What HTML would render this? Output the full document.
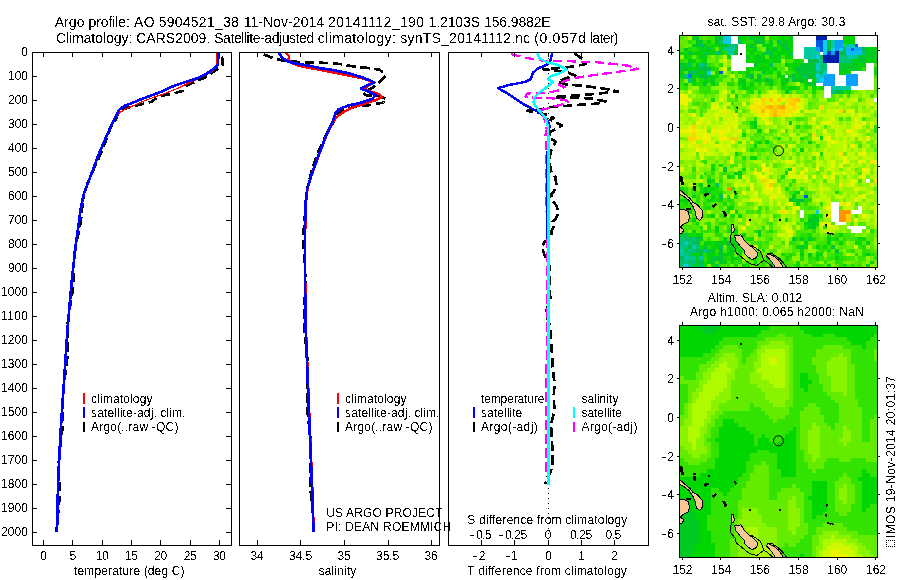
<!DOCTYPE html>
<html><head><meta charset="utf-8"><title>Argo profile</title>
<style>html,body{margin:0;padding:0;background:#fff}svg{display:block}text{font-family:"Liberation Sans", sans-serif;fill:#000;filter:url(#thr)}</style></head><body>
<svg width="900" height="580" viewBox="0 0 900 580">
<rect width="900" height="580" fill="#fff"/>
<defs><filter id="thr" x="-2%" y="-30%" width="104%" height="160%" color-interpolation-filters="sRGB"><feComponentTransfer><feFuncA type="discrete" tableValues="0 1"/></feComponentTransfer></filter></defs>
<text x="54.7" y="27" font-size="14" textLength="29.8" lengthAdjust="spacing">Argo</text>
<text x="88.5" y="27" font-size="14" textLength="41.4" lengthAdjust="spacing">profile:</text>
<text x="133.9" y="27" font-size="14" textLength="20.8" lengthAdjust="spacing">AO</text>
<text x="158.7" y="27" font-size="14" textLength="80" lengthAdjust="spacing">5904521_38</text>
<text x="243.7" y="27" font-size="14" textLength="80.4" lengthAdjust="spacing">11-Nov-2014</text>
<text x="328.1" y="27" font-size="14" textLength="96" lengthAdjust="spacing">20141112_190</text>
<text x="428.5" y="27" font-size="14" textLength="51.5" lengthAdjust="spacing">1.2103S</text>
<text x="484.0" y="27" font-size="14" textLength="66.7" lengthAdjust="spacing">156.9882E</text>
<text x="55.9" y="43" font-size="14" textLength="76.3" lengthAdjust="spacing">Climatology:</text>
<text x="136.2" y="43" font-size="14" textLength="74" lengthAdjust="spacing">CARS2009.</text>
<text x="214.2" y="43" font-size="14" textLength="100" lengthAdjust="spacing">Satellite-adjusted</text>
<text x="317.8" y="43" font-size="14" textLength="78" lengthAdjust="spacing">climatology:</text>
<text x="400.3" y="43" font-size="14" textLength="130" lengthAdjust="spacing">synTS_20141112.nc</text>
<text x="534.2" y="43" font-size="14" textLength="51.5" lengthAdjust="spacing">(0.057d</text>
<text x="589.9" y="43" font-size="14" textLength="28.6" lengthAdjust="spacing">later)</text>
<g shape-rendering="crispEdges">
<path fill="#80f100" d="M680.0 36.0H680.3V39.9H680.0zM687.8 86.0H691.9V90.2H687.8zM865.8 89.9H870.0V94.1H865.8zM834.8 97.7H839.0V101.8H834.8zM869.7 105.4H873.8V109.6H869.7zM815.5 148.0H819.6V152.1H815.5zM680.0 182.8H684.2V187.0H680.0zM730.3 182.8H734.5V187.0H730.3zM761.3 206.0H765.5V210.2H761.3z"/>
<path fill="#4ce700" d="M680.0 36.0H684.2V39.9H680.0zM776.8 66.7H780.9V70.9H776.8zM734.2 74.4H738.4V78.6H734.2zM707.1 82.2H711.3V86.3H707.1zM776.8 82.2H780.9V86.3H776.8zM823.2 124.7H827.4V128.9H823.2zM792.3 140.2H796.4V144.4H792.3zM695.5 190.5H699.7V194.7H695.5zM772.9 229.2H777.1V233.4H772.9zM772.9 248.6H777.1V252.8H772.9zM858.0 260.2H862.2V264.4H858.0z"/>
<path fill="#6cee00" d="M683.9 36.0H688.1V39.9H683.9zM865.8 124.7H870.0V128.9H865.8zM811.6 178.9H815.8V183.1H811.6zM811.6 190.5H815.8V194.7H811.6zM807.7 202.1H811.9V206.3H807.7zM796.1 209.9H800.3V214.1H796.1z"/>
<path fill="#9ff700" d="M687.8 36.0H691.9V39.9H687.8zM807.7 93.8H811.9V98.0H807.7zM683.9 117.0H688.1V121.2H683.9zM711.0 120.9H715.2V125.0H711.0zM765.2 124.7H769.3V128.9H765.2zM680.0 128.6H680.3V132.8H680.0zM776.8 148.0H780.9V152.1H776.8zM803.9 148.0H808.0V152.1H803.9zM811.6 148.0H815.8V152.1H811.6zM827.1 148.0H831.3V152.1H827.1zM873.5 163.4H877.3V167.6H873.5zM734.2 186.7H738.4V190.8H734.2zM823.2 217.6H827.4V221.8H823.2zM869.7 221.5H873.8V225.7H869.7z"/>
<path fill="#00d112" d="M691.6 36.0H695.8V39.9H691.6zM680.0 51.2H684.2V55.4H680.0zM683.9 62.8H688.1V67.0H683.9z"/>
<path fill="#00c339" d="M695.5 36.0H699.7V39.9H695.5zM831.0 244.7H835.1V248.9H831.0zM730.3 256.3H734.5V260.5H730.3z"/>
<path fill="#43e500" d="M699.4 36.0H703.5V39.9H699.4zM807.7 132.5H811.9V136.7H807.7zM753.6 148.0H757.7V152.1H753.6zM796.1 229.2H800.3V233.4H796.1zM726.5 237.0H730.6V241.1H726.5z"/>
<path fill="#53e800" d="M703.2 36.0H707.4V39.9H703.2zM850.3 89.9H854.5V94.1H850.3zM831.0 97.7H835.1V101.8H831.0zM761.3 140.2H765.5V144.4H761.3zM815.5 206.0H819.6V210.2H815.5zM831.0 221.5H835.1V225.7H831.0zM854.2 260.2H858.3V264.4H854.2z"/>
<path fill="#3be300" d="M707.1 36.0H711.3V39.9H707.1zM683.9 59.0H688.1V63.1H683.9zM788.4 89.9H792.6V94.1H788.4zM803.9 124.7H808.0V128.9H803.9zM769.0 128.6H773.2V132.8H769.0zM703.2 198.3H707.4V202.4H703.2zM691.6 221.5H695.8V225.7H691.6zM846.4 233.1H850.6V237.3H846.4zM831.0 252.4H835.1V256.6H831.0z"/>
<path fill="#37e300" d="M711.0 36.0H715.2V39.9H711.0zM695.5 206.0H699.7V210.2H695.5zM745.8 209.9H750.0V214.1H745.8zM734.2 225.4H738.4V229.5H734.2zM784.5 264.1H788.7V267.3H784.5z"/>
<path fill="#00c434" d="M714.9 36.0H719.0V39.9H714.9zM714.9 39.6H719.0V43.8H714.9zM703.2 70.6H707.4V74.7H703.2z"/>
<path fill="#00c13c" d="M718.7 36.0H722.9V39.9H718.7z"/>
<path fill="#08cce0" d="M722.6 36.0H726.8V39.9H722.6zM726.5 36.0H730.6V39.9H726.5zM722.6 39.6H726.8V43.8H722.6zM726.5 39.6H730.6V43.8H726.5zM815.5 209.9H819.6V214.1H815.5zM683.9 264.1H688.1V267.3H683.9z"/>
<path fill="#00cd1d" d="M738.1 36.0H742.2V39.9H738.1zM788.4 36.0H792.6V39.9H788.4zM726.5 43.5H730.6V47.6H726.5zM691.6 51.2H695.8V55.4H691.6zM757.4 55.1H761.6V59.2H757.4zM703.2 186.7H707.4V190.8H703.2z"/>
<path fill="#02d700" d="M741.9 36.0H746.1V39.9H741.9zM745.8 59.0H750.0V63.1H745.8zM858.0 62.8H862.2V67.0H858.0zM776.8 70.6H780.9V74.7H776.8zM695.5 74.4H699.7V78.6H695.5zM780.6 74.4H784.8V78.6H780.6zM788.4 74.4H792.6V78.6H788.4zM803.9 78.3H808.0V82.5H803.9zM753.6 144.1H757.7V148.3H753.6zM741.9 240.8H746.1V245.0H741.9z"/>
<path fill="#17dc00" d="M745.8 36.0H750.0V39.9H745.8zM769.0 36.0H773.2V39.9H769.0zM726.5 66.7H730.6V70.9H726.5zM711.0 97.7H715.2V101.8H711.0zM718.7 163.4H722.9V167.6H718.7zM699.4 186.7H703.5V190.8H699.4zM807.7 233.1H811.9V237.3H807.7zM834.8 252.4H839.0V256.6H834.8z"/>
<path fill="#00c82a" d="M749.7 36.0H753.9V39.9H749.7zM784.5 43.5H788.7V47.6H784.5zM683.9 47.3H688.1V51.5H683.9zM757.4 229.2H761.6V233.4H757.4z"/>
<path fill="#00cd1b" d="M753.6 36.0H757.7V39.9H753.6zM687.8 59.0H691.9V63.1H687.8zM707.1 74.4H711.3V78.6H707.1z"/>
<path fill="#00cc1e" d="M757.4 36.0H761.6V39.9H757.4zM815.5 217.6H819.6V221.8H815.5z"/>
<path fill="#00ce18" d="M761.3 36.0H765.5V39.9H761.3zM691.6 43.5H695.8V47.6H691.6zM745.8 55.1H750.0V59.2H745.8zM749.7 248.6H753.9V252.8H749.7z"/>
<path fill="#87f200" d="M765.2 36.0H769.3V39.9H765.2zM711.0 55.1H715.2V59.2H711.0zM819.3 117.0H823.5V121.2H819.3zM831.0 128.6H835.1V132.8H831.0zM873.5 136.4H877.3V140.5H873.5zM854.2 151.8H858.3V156.0H854.2zM683.9 163.4H688.1V167.6H683.9zM815.5 182.8H819.6V187.0H815.5zM869.7 225.4H873.8V229.5H869.7zM865.8 260.2H870.0V264.4H865.8z"/>
<path fill="#27df00" d="M772.9 36.0H777.1V39.9H772.9zM707.1 62.8H711.3V67.0H707.1zM718.7 62.8H722.9V67.0H718.7zM792.3 70.6H796.4V74.7H792.3zM753.6 86.0H757.7V90.2H753.6zM730.3 101.5H734.5V105.7H730.3zM687.8 206.0H691.9V210.2H687.8zM869.7 229.2H873.8V233.4H869.7zM780.6 260.2H784.8V264.4H780.6zM726.5 264.1H730.6V267.3H726.5z"/>
<path fill="#14db00" d="M776.8 36.0H780.9V39.9H776.8zM699.4 190.5H703.5V194.7H699.4zM722.6 202.1H726.8V206.3H722.6zM745.8 237.0H750.0V241.1H745.8zM749.7 237.0H753.9V241.1H749.7zM811.6 237.0H815.8V241.1H811.6zM738.1 260.2H742.2V264.4H738.1z"/>
<path fill="#00d603" d="M780.6 36.0H784.8V39.9H780.6zM726.5 55.1H730.6V59.2H726.5zM734.2 93.8H738.4V98.0H734.2zM734.2 209.9H738.4V214.1H734.2zM738.1 248.6H742.2V252.8H738.1zM734.2 256.3H738.4V260.5H734.2z"/>
<path fill="#13db00" d="M784.5 36.0H788.7V39.9H784.5zM711.0 47.3H715.2V51.5H711.0zM714.9 252.4H719.0V256.6H714.9z"/>
<path fill="#0024b0" d="M815.5 36.0H819.6V39.9H815.5zM819.3 36.0H823.5V39.9H819.3zM823.2 36.0H827.4V39.9H823.2z"/>
<path fill="#00d700" d="M842.6 36.0H846.7V39.9H842.6zM846.4 36.0H850.6V39.9H846.4zM850.3 36.0H854.5V39.9H850.3zM842.6 39.6H846.7V43.8H842.6zM846.4 39.6H850.6V43.8H846.4zM850.3 39.6H854.5V43.8H850.3zM699.4 51.2H703.5V55.4H699.4zM683.9 55.1H688.1V59.2H683.9zM838.7 70.6H842.9V74.7H838.7zM842.6 70.6H846.7V74.7H842.6zM846.4 70.6H850.6V74.7H846.4z"/>
<path fill="#b0fa00" d="M680.0 39.6H680.3V43.8H680.0zM753.6 93.8H757.7V98.0H753.6zM803.9 97.7H808.0V101.8H803.9zM842.6 120.9H846.7V125.0H842.6zM850.3 120.9H854.5V125.0H850.3zM683.9 140.2H688.1V144.4H683.9zM683.9 144.1H688.1V148.3H683.9zM834.8 144.1H839.0V148.3H834.8zM784.5 148.0H788.7V152.1H784.5zM823.2 155.7H827.4V159.9H823.2zM819.3 198.3H823.5V202.4H819.3zM707.1 209.9H711.3V214.1H707.1zM753.6 237.0H757.7V241.1H753.6z"/>
<path fill="#68ed00" d="M680.0 39.6H684.2V43.8H680.0zM707.1 101.5H711.3V105.7H707.1zM738.1 101.5H742.2V105.7H738.1zM811.6 101.5H815.8V105.7H811.6zM792.3 117.0H796.4V121.2H792.3zM780.6 140.2H784.8V144.4H780.6zM726.5 202.1H730.6V206.3H726.5zM714.9 209.9H719.0V214.1H714.9zM718.7 209.9H722.9V214.1H718.7zM757.4 213.8H761.6V217.9H757.4zM819.3 217.6H823.5V221.8H819.3zM834.8 244.7H839.0V248.9H834.8z"/>
<path fill="#60eb00" d="M683.9 39.6H688.1V43.8H683.9zM772.9 74.4H777.1V78.6H772.9zM842.6 109.3H846.7V113.4H842.6zM854.2 109.3H858.3V113.4H854.2zM873.5 113.1H877.3V117.3H873.5zM753.6 136.4H757.7V140.5H753.6zM858.0 140.2H862.2V144.4H858.0zM869.7 144.1H873.8V148.3H869.7zM699.4 159.6H703.5V163.7H699.4zM699.4 194.4H703.5V198.6H699.4zM784.5 206.0H788.7V210.2H784.5zM722.6 244.7H726.8V248.9H722.6z"/>
<path fill="#28df00" d="M687.8 39.6H691.9V43.8H687.8zM680.0 59.0H684.2V63.1H680.0zM861.9 66.7H866.1V70.9H861.9zM757.4 82.2H761.6V86.3H757.4zM873.5 128.6H877.3V132.8H873.5zM703.2 171.2H707.4V175.4H703.2zM788.4 182.8H792.6V187.0H788.4zM683.9 186.7H688.1V190.8H683.9zM734.2 190.5H738.4V194.7H734.2zM792.3 190.5H796.4V194.7H792.3zM714.9 233.1H719.0V237.3H714.9zM861.9 248.6H866.1V252.8H861.9z"/>
<path fill="#44e500" d="M691.6 39.6H695.8V43.8H691.6zM680.0 47.3H684.2V51.5H680.0zM873.5 62.8H877.3V67.0H873.5zM772.9 70.6H777.1V74.7H772.9zM695.5 78.3H699.7V82.5H695.5zM796.1 89.9H800.3V94.1H796.1zM703.2 105.4H707.4V109.6H703.2zM699.4 109.3H703.5V113.4H699.4zM769.0 144.1H773.2V148.3H769.0zM683.9 229.2H688.1V233.4H683.9zM796.1 233.1H800.3V237.3H796.1zM753.6 240.8H757.7V245.0H753.6zM834.8 240.8H839.0V245.0H834.8zM823.2 248.6H827.4V252.8H823.2zM722.6 264.1H726.8V267.3H722.6z"/>
<path fill="#00c62e" d="M695.5 39.6H699.7V43.8H695.5z"/>
<path fill="#00cb22" d="M699.4 39.6H703.5V43.8H699.4zM680.0 209.9H684.2V214.1H680.0zM811.6 217.6H815.8V221.8H811.6z"/>
<path fill="#2ae000" d="M703.2 39.6H707.4V43.8H703.2zM707.1 175.1H711.3V179.2H707.1zM803.9 202.1H808.0V206.3H803.9zM726.5 209.9H730.6V214.1H726.5zM703.2 229.2H707.4V233.4H703.2zM707.1 237.0H711.3V241.1H707.1zM776.8 256.3H780.9V260.5H776.8z"/>
<path fill="#00d701" d="M707.1 39.6H711.3V43.8H707.1zM765.2 59.0H769.3V63.1H765.2zM765.2 66.7H769.3V70.9H765.2zM769.0 70.6H773.2V74.7H769.0zM788.4 86.0H792.6V90.2H788.4zM819.3 86.0H823.5V90.2H819.3zM738.1 175.1H742.2V179.2H738.1zM687.8 198.3H691.9V202.4H687.8zM796.1 202.1H800.3V206.3H796.1zM726.5 206.0H730.6V210.2H726.5zM711.0 252.4H715.2V256.6H711.0zM703.2 264.1H707.4V267.3H703.2zM796.1 264.1H800.3V267.3H796.1z"/>
<path fill="#35e200" d="M711.0 39.6H715.2V43.8H711.0zM819.3 244.7H823.5V248.9H819.3zM788.4 256.3H792.6V260.5H788.4z"/>
<path fill="#00c267" d="M718.7 39.6H722.9V43.8H718.7zM788.4 51.2H792.6V55.4H788.4z"/>
<path fill="#00c161" d="M738.1 39.6H742.2V43.8H738.1z"/>
<path fill="#0bd900" d="M741.9 39.6H746.1V43.8H741.9zM711.0 43.5H715.2V47.6H711.0zM749.7 47.3H753.9V51.5H749.7zM772.9 51.2H777.1V55.4H772.9zM741.9 167.3H746.1V171.5H741.9zM707.1 186.7H711.3V190.8H707.1zM734.2 237.0H738.4V241.1H734.2z"/>
<path fill="#23de00" d="M745.8 39.6H750.0V43.8H745.8zM842.6 43.5H846.7V47.6H842.6zM753.6 51.2H757.7V55.4H753.6zM695.5 55.1H699.7V59.2H695.5zM714.9 66.7H719.0V70.9H714.9zM730.3 70.6H734.5V74.7H730.3zM873.5 124.7H877.3V128.9H873.5zM699.4 175.1H703.5V179.2H699.4zM683.9 194.4H688.1V198.6H683.9zM722.6 221.5H726.8V225.7H722.6zM707.1 244.7H711.3V248.9H707.1zM734.2 248.6H738.4V252.8H734.2zM807.7 256.3H811.9V260.5H807.7zM811.6 256.3H815.8V260.5H811.6z"/>
<path fill="#21de00" d="M749.7 39.6H753.9V43.8H749.7zM784.5 82.2H788.7V86.3H784.5zM726.5 194.4H730.6V198.6H726.5zM707.1 213.8H711.3V217.9H707.1zM796.1 237.0H800.3V241.1H796.1zM788.4 240.8H792.6V245.0H788.4z"/>
<path fill="#00c928" d="M753.6 39.6H757.7V43.8H753.6zM784.5 39.6H788.7V43.8H784.5zM680.0 198.3H680.3V202.4H680.0z"/>
<path fill="#00c435" d="M757.4 39.6H761.6V43.8H757.4zM769.0 51.2H773.2V55.4H769.0zM811.6 74.4H815.8V78.6H811.6zM699.4 252.4H703.5V256.6H699.4z"/>
<path fill="#00ca25" d="M761.3 39.6H765.5V43.8H761.3zM734.2 47.3H738.4V51.5H734.2zM769.0 55.1H773.2V59.2H769.0zM691.6 194.4H695.8V198.6H691.6zM807.7 237.0H811.9V241.1H807.7zM718.7 260.2H722.9V264.4H718.7z"/>
<path fill="#3ae300" d="M765.2 39.6H769.3V43.8H765.2zM780.6 55.1H784.8V59.2H780.6zM788.4 78.3H792.6V82.5H788.4zM734.2 97.7H738.4V101.8H734.2zM718.7 206.0H722.9V210.2H718.7z"/>
<path fill="#00d20f" d="M769.0 39.6H773.2V43.8H769.0zM691.6 66.7H695.8V70.9H691.6zM796.1 74.4H800.3V78.6H796.1zM745.8 252.4H750.0V256.6H745.8z"/>
<path fill="#45e500" d="M772.9 39.6H777.1V43.8H772.9zM873.5 74.4H877.3V78.6H873.5zM757.4 86.0H761.6V90.2H757.4zM869.7 93.8H873.8V98.0H869.7zM800.0 117.0H804.2V121.2H800.0zM757.4 148.0H761.6V152.1H757.4zM780.6 240.8H784.8V245.0H780.6z"/>
<path fill="#00bf4e" d="M776.8 39.6H780.9V43.8H776.8zM703.2 51.2H707.4V55.4H703.2z"/>
<path fill="#00d409" d="M780.6 39.6H784.8V43.8H780.6zM761.3 55.1H765.5V59.2H761.3zM792.3 62.8H796.4V67.0H792.3zM769.0 82.2H773.2V86.3H769.0zM753.6 124.7H757.7V128.9H753.6zM827.1 237.0H831.3V241.1H827.1zM753.6 252.4H757.7V256.6H753.6zM834.8 256.3H839.0V260.5H834.8z"/>
<path fill="#00d30b" d="M788.4 39.6H792.6V43.8H788.4zM695.5 51.2H699.7V55.4H695.5zM749.7 51.2H753.9V55.4H749.7zM858.0 66.7H862.2V70.9H858.0zM807.7 225.4H811.9V229.5H807.7zM691.6 229.2H695.8V233.4H691.6zM703.2 240.8H707.4V245.0H703.2zM838.7 240.8H842.9V245.0H838.7zM707.1 260.2H711.3V264.4H707.1z"/>
<path fill="#005ae1" d="M815.5 39.6H819.6V43.8H815.5zM819.3 39.6H823.5V43.8H819.3zM815.5 43.5H819.6V47.6H815.5zM819.3 43.5H823.5V47.6H819.3zM854.2 43.5H858.3V47.6H854.2zM819.3 47.3H823.5V51.5H819.3zM850.3 47.3H854.5V51.5H850.3zM718.7 70.6H722.9V74.7H718.7zM803.9 194.4H808.0V198.6H803.9z"/>
<path fill="#0acdf0" d="M823.2 39.6H827.4V43.8H823.2zM823.2 43.5H827.4V47.6H823.2zM823.2 47.3H827.4V51.5H823.2zM831.0 47.3H835.1V51.5H831.0zM838.7 47.3H842.9V51.5H838.7zM823.2 51.2H827.4V55.4H823.2zM707.1 70.6H711.3V74.7H707.1z"/>
<path fill="#00be46" d="M827.1 39.6H831.3V43.8H827.1zM734.2 43.5H738.4V47.6H734.2zM827.1 43.5H831.3V47.6H827.1zM827.1 47.3H831.3V51.5H827.1zM842.6 47.3H846.7V51.5H842.6zM861.9 47.3H866.1V51.5H861.9zM838.7 51.2H842.9V55.4H838.7zM842.6 51.2H846.7V55.4H842.6zM819.3 55.1H823.5V59.2H819.3zM807.7 59.0H811.9V63.1H807.7zM811.6 59.0H815.8V63.1H811.6zM815.5 59.0H819.6V63.1H815.5zM792.3 78.3H796.4V82.5H792.3zM687.8 244.7H691.9V248.9H687.8z"/>
<path fill="#02c9b0" d="M831.0 39.6H835.1V43.8H831.0zM831.0 43.5H835.1V47.6H831.0z"/>
<path fill="#0aa0ff" d="M834.8 39.6H839.0V43.8H834.8zM838.7 39.6H842.9V43.8H838.7zM834.8 43.5H839.0V47.6H834.8zM838.7 43.5H842.9V47.6H838.7zM815.5 47.3H819.6V51.5H815.5zM834.8 47.3H839.0V51.5H834.8zM831.0 51.2H835.1V55.4H831.0zM823.2 74.4H827.4V78.6H823.2zM827.1 74.4H831.3V78.6H827.1zM831.0 74.4H835.1V78.6H831.0zM846.4 74.4H850.6V78.6H846.4zM850.3 74.4H854.5V78.6H850.3zM854.2 74.4H858.3V78.6H854.2zM823.2 78.3H827.4V82.5H823.2zM827.1 78.3H831.3V82.5H827.1zM831.0 78.3H835.1V82.5H831.0zM846.4 78.3H850.6V82.5H846.4zM850.3 78.3H854.5V82.5H850.3zM854.2 78.3H858.3V82.5H854.2zM823.2 82.2H827.4V86.3H823.2zM827.1 82.2H831.3V86.3H827.1zM831.0 82.2H835.1V86.3H831.0zM846.4 82.2H850.6V86.3H846.4zM850.3 82.2H854.5V86.3H850.3zM854.2 82.2H858.3V86.3H854.2z"/>
<path fill="#59ea00" d="M680.0 43.5H680.3V47.6H680.0zM680.0 43.5H684.2V47.6H680.0zM772.9 128.6H777.1V132.8H772.9zM749.7 144.1H753.9V148.3H749.7zM741.9 171.2H746.1V175.4H741.9zM726.5 182.8H730.6V187.0H726.5zM800.0 206.0H804.2V210.2H800.0zM831.0 248.6H835.1V252.8H831.0z"/>
<path fill="#6eee00" d="M683.9 43.5H688.1V47.6H683.9zM687.8 82.2H691.9V86.3H687.8zM738.1 89.9H742.2V94.1H738.1zM838.7 101.5H842.9V105.7H838.7zM811.6 105.4H815.8V109.6H811.6zM861.9 105.4H866.1V109.6H861.9zM707.1 128.6H711.3V132.8H707.1zM780.6 132.5H784.8V136.7H780.6zM745.8 140.2H750.0V144.4H745.8zM800.0 144.1H804.2V148.3H800.0zM807.7 148.0H811.9V152.1H807.7zM838.7 167.3H842.9V171.5H838.7zM687.8 194.4H691.9V198.6H687.8zM741.9 194.4H746.1V198.6H741.9zM831.0 198.3H835.1V202.4H831.0zM734.2 202.1H738.4V206.3H734.2zM800.0 221.5H804.2V225.7H800.0zM730.3 264.1H734.5V267.3H730.3z"/>
<path fill="#67ed00" d="M687.8 43.5H691.9V47.6H687.8zM714.9 62.8H719.0V67.0H714.9zM780.6 62.8H784.8V67.0H780.6zM784.5 117.0H788.7V121.2H784.5zM788.4 140.2H792.6V144.4H788.4zM714.9 159.6H719.0V163.7H714.9zM861.9 229.2H866.1V233.4H861.9zM838.7 248.6H842.9V252.8H838.7zM815.5 260.2H819.6V264.4H815.5zM765.2 264.1H769.3V267.3H765.2z"/>
<path fill="#00c829" d="M695.5 43.5H699.7V47.6H695.5zM765.2 47.3H769.3V51.5H765.2zM695.5 62.8H699.7V67.0H695.5zM761.3 70.6H765.5V74.7H761.3zM680.0 202.1H680.3V206.3H680.0z"/>
<path fill="#00c165" d="M699.4 43.5H703.5V47.6H699.4z"/>
<path fill="#00ce1a" d="M703.2 43.5H707.4V47.6H703.2zM850.3 59.0H854.5V63.1H850.3zM869.7 59.0H873.8V63.1H869.7zM714.9 225.4H719.0V229.5H714.9zM707.1 252.4H711.3V256.6H707.1z"/>
<path fill="#1cdd00" d="M707.1 43.5H711.3V47.6H707.1zM745.8 51.2H750.0V55.4H745.8zM792.3 59.0H796.4V63.1H792.3zM699.4 82.2H703.5V86.3H699.4zM730.3 82.2H734.5V86.3H730.3zM749.7 124.7H753.9V128.9H749.7zM714.9 186.7H719.0V190.8H714.9zM854.2 252.4H858.3V256.6H854.2z"/>
<path fill="#00d506" d="M714.9 43.5H719.0V47.6H714.9zM761.3 51.2H765.5V55.4H761.3zM776.8 59.0H780.9V63.1H776.8zM683.9 82.2H688.1V86.3H683.9zM796.1 190.5H800.3V194.7H796.1zM683.9 198.3H688.1V202.4H683.9zM683.9 213.8H688.1V217.9H683.9zM722.6 240.8H726.8V245.0H722.6zM738.1 240.8H742.2V245.0H738.1zM796.1 244.7H800.3V248.9H796.1zM722.6 252.4H726.8V256.6H722.6z"/>
<path fill="#00cf17" d="M718.7 43.5H722.9V47.6H718.7zM757.4 78.3H761.6V82.5H757.4zM796.1 78.3H800.3V82.5H796.1zM711.0 82.2H715.2V86.3H711.0zM734.2 244.7H738.4V248.9H734.2z"/>
<path fill="#00c041" d="M722.6 43.5H726.8V47.6H722.6z"/>
<path fill="#00c587" d="M730.3 43.5H734.5V47.6H730.3z"/>
<path fill="#03d800" d="M745.8 43.5H750.0V47.6H745.8zM761.3 43.5H765.5V47.6H761.3zM788.4 47.3H792.6V51.5H788.4zM691.6 74.4H695.8V78.6H691.6zM846.4 89.9H850.6V94.1H846.4zM711.0 167.3H715.2V171.5H711.0zM753.6 260.2H757.7V264.4H753.6zM769.0 260.2H773.2V264.4H769.0z"/>
<path fill="#00c23c" d="M749.7 43.5H753.9V47.6H749.7zM695.5 260.2H699.7V264.4H695.5z"/>
<path fill="#18dc00" d="M753.6 43.5H757.7V47.6H753.6zM796.1 86.0H800.3V90.2H796.1zM749.7 89.9H753.9V94.1H749.7zM776.8 136.4H780.9V140.5H776.8zM834.8 190.5H839.0V194.7H834.8zM827.1 233.1H831.3V237.3H827.1zM831.0 237.0H835.1V241.1H831.0zM788.4 252.4H792.6V256.6H788.4zM753.6 256.3H757.7V260.5H753.6zM873.5 256.3H877.3V260.5H873.5zM745.8 264.1H750.0V267.3H745.8z"/>
<path fill="#85f200" d="M757.4 43.5H761.6V47.6H757.4zM823.2 101.5H827.4V105.7H823.2zM873.5 109.3H877.3V113.4H873.5zM803.9 113.1H808.0V117.3H803.9zM819.3 132.5H823.5V136.7H819.3zM761.3 159.6H765.5V163.7H761.3zM683.9 167.3H688.1V171.5H683.9zM761.3 171.2H765.5V175.4H761.3zM834.8 182.8H839.0V187.0H834.8zM741.9 209.9H746.1V214.1H741.9zM838.7 229.2H842.9V233.4H838.7zM772.9 240.8H777.1V245.0H772.9z"/>
<path fill="#00d110" d="M765.2 43.5H769.3V47.6H765.2zM703.2 55.1H707.4V59.2H703.2zM776.8 74.4H780.9V78.6H776.8zM819.3 136.4H823.5V140.5H819.3zM711.0 194.4H715.2V198.6H711.0zM784.5 217.6H788.7V221.8H784.5zM718.7 240.8H722.9V245.0H718.7zM734.2 240.8H738.4V245.0H734.2zM800.0 252.4H804.2V256.6H800.0z"/>
<path fill="#00d30a" d="M769.0 43.5H773.2V47.6H769.0zM772.9 55.1H777.1V59.2H772.9zM784.5 55.1H788.7V59.2H784.5zM792.3 86.0H796.4V90.2H792.3zM707.1 240.8H711.3V245.0H707.1zM827.1 240.8H831.3V245.0H827.1zM714.9 244.7H719.0V248.9H714.9zM819.3 252.4H823.5V256.6H819.3z"/>
<path fill="#55e900" d="M772.9 43.5H777.1V47.6H772.9zM757.4 70.6H761.6V74.7H757.4zM703.2 93.8H707.4V98.0H703.2zM718.7 182.8H722.9V187.0H718.7zM807.7 190.5H811.9V194.7H807.7zM803.9 217.6H808.0V221.8H803.9zM730.3 233.1H734.5V237.3H730.3zM869.7 233.1H873.8V237.3H869.7zM796.1 248.6H800.3V252.8H796.1zM741.9 260.2H746.1V264.4H741.9z"/>
<path fill="#07d800" d="M776.8 43.5H780.9V47.6H776.8zM745.8 47.3H750.0V51.5H745.8zM738.1 82.2H742.2V86.3H738.1zM680.0 186.7H680.3V190.8H680.0zM823.2 244.7H827.4V248.9H823.2zM815.5 256.3H819.6V260.5H815.5zM711.0 264.1H715.2V267.3H711.0z"/>
<path fill="#00bf4f" d="M780.6 43.5H784.8V47.6H780.6z"/>
<path fill="#00d601" d="M788.4 43.5H792.6V47.6H788.4z"/>
<path fill="#00c8a0" d="M846.4 43.5H850.6V47.6H846.4zM850.3 43.5H854.5V47.6H850.3zM726.5 47.3H730.6V51.5H726.5zM730.3 47.3H734.5V51.5H730.3zM803.9 47.3H808.0V51.5H803.9zM807.7 47.3H811.9V51.5H807.7zM811.6 47.3H815.8V51.5H811.6zM726.5 51.2H730.6V55.4H726.5zM730.3 51.2H734.5V55.4H730.3zM803.9 51.2H808.0V55.4H803.9zM807.7 51.2H811.9V55.4H807.7zM811.6 51.2H815.8V55.4H811.6zM803.9 55.1H808.0V59.2H803.9zM807.7 55.1H811.9V59.2H807.7zM811.6 55.1H815.8V59.2H811.6zM846.4 55.1H850.6V59.2H846.4zM850.3 55.1H854.5V59.2H850.3zM854.2 55.1H858.3V59.2H854.2zM819.3 59.0H823.5V63.1H819.3zM831.0 86.0H835.1V90.2H831.0zM834.8 86.0H839.0V90.2H834.8zM838.7 86.0H842.9V90.2H838.7zM842.6 86.0H846.7V90.2H842.6zM846.4 86.0H850.6V90.2H846.4z"/>
<path fill="#86f200" d="M680.0 47.3H680.3V51.5H680.0zM683.9 78.3H688.1V82.5H683.9zM687.8 93.8H691.9V98.0H687.8zM834.8 93.8H839.0V98.0H834.8zM741.9 105.4H746.1V109.6H741.9zM772.9 120.9H777.1V125.0H772.9zM761.3 128.6H765.5V132.8H761.3zM861.9 128.6H866.1V132.8H861.9zM741.9 136.4H746.1V140.5H741.9zM803.9 151.8H808.0V156.0H803.9zM730.3 167.3H734.5V171.5H730.3zM819.3 175.1H823.5V179.2H819.3zM831.0 186.7H835.1V190.8H831.0zM834.8 186.7H839.0V190.8H834.8zM796.1 213.8H800.3V217.9H796.1zM711.0 221.5H715.2V225.7H711.0zM772.9 225.4H777.1V229.5H772.9zM819.3 233.1H823.5V237.3H819.3zM788.4 237.0H792.6V241.1H788.4z"/>
<path fill="#1ddd00" d="M687.8 47.3H691.9V51.5H687.8zM714.9 82.2H719.0V86.3H714.9zM796.1 124.7H800.3V128.9H796.1zM807.7 213.8H811.9V217.9H807.7zM699.4 225.4H703.5V229.5H699.4z"/>
<path fill="#24df00" d="M691.6 47.3H695.8V51.5H691.6zM753.6 117.0H757.7V121.2H753.6zM680.0 194.4H680.3V198.6H680.0zM703.2 194.4H707.4V198.6H703.2zM707.1 221.5H711.3V225.7H707.1zM680.0 229.2H684.2V233.4H680.0zM869.7 252.4H873.8V256.6H869.7z"/>
<path fill="#16dc00" d="M695.5 47.3H699.7V51.5H695.5zM776.8 47.3H780.9V51.5H776.8zM726.5 229.2H730.6V233.4H726.5zM861.9 244.7H866.1V248.9H861.9zM741.9 248.6H746.1V252.8H741.9zM827.1 248.6H831.3V252.8H827.1zM780.6 252.4H784.8V256.6H780.6zM796.1 260.2H800.3V264.4H796.1z"/>
<path fill="#00ce19" d="M699.4 47.3H703.5V51.5H699.4zM680.0 233.1H680.3V237.3H680.0zM869.7 260.2H873.8V264.4H869.7z"/>
<path fill="#00d505" d="M703.2 47.3H707.4V51.5H703.2zM769.0 47.3H773.2V51.5H769.0zM699.4 70.6H703.5V74.7H699.4zM745.8 70.6H750.0V74.7H745.8zM780.6 78.3H784.8V82.5H780.6zM711.0 186.7H715.2V190.8H711.0zM680.0 198.3H684.2V202.4H680.0zM730.3 206.0H734.5V210.2H730.3zM687.8 209.9H691.9V214.1H687.8zM695.5 233.1H699.7V237.3H695.5z"/>
<path fill="#00be4a" d="M707.1 47.3H711.3V51.5H707.1z"/>
<path fill="#63ec00" d="M714.9 47.3H719.0V51.5H714.9zM745.8 101.5H750.0V105.7H745.8zM765.2 132.5H769.3V136.7H765.2zM784.5 167.3H788.7V171.5H784.5zM718.7 229.2H722.9V233.4H718.7zM761.3 229.2H765.5V233.4H761.3z"/>
<path fill="#00cf18" d="M718.7 47.3H722.9V51.5H718.7zM761.3 59.0H765.5V63.1H761.3z"/>
<path fill="#00c583" d="M722.6 47.3H726.8V51.5H722.6z"/>
<path fill="#00cf16" d="M753.6 47.3H757.7V51.5H753.6zM796.1 70.6H800.3V74.7H796.1zM753.6 78.3H757.7V82.5H753.6zM707.1 190.5H711.3V194.7H707.1zM803.9 244.7H808.0V248.9H803.9z"/>
<path fill="#4ee700" d="M757.4 47.3H761.6V51.5H757.4zM765.2 55.1H769.3V59.2H765.2zM753.6 82.2H757.7V86.3H753.6zM800.0 82.2H804.2V86.3H800.0zM831.0 93.8H835.1V98.0H831.0zM807.7 101.5H811.9V105.7H807.7zM745.8 120.9H750.0V125.0H745.8zM718.7 175.1H722.9V179.2H718.7zM753.6 209.9H757.7V214.1H753.6zM796.1 221.5H800.3V225.7H796.1zM858.0 221.5H862.2V225.7H858.0zM815.5 225.4H819.6V229.5H815.5zM834.8 264.1H839.0V267.3H834.8z"/>
<path fill="#73ef00" d="M761.3 47.3H765.5V51.5H761.3zM691.6 89.9H695.8V94.1H691.6zM718.7 101.5H722.9V105.7H718.7zM680.0 109.3H684.2V113.4H680.0zM800.0 109.3H804.2V113.4H800.0zM784.5 140.2H788.7V144.4H784.5zM734.2 144.1H738.4V148.3H734.2zM749.7 151.8H753.9V156.0H749.7zM722.6 155.7H726.8V159.9H722.6zM691.6 163.4H695.8V167.6H691.6zM722.6 206.0H726.8V210.2H722.6zM687.8 229.2H691.9V233.4H687.8zM846.4 244.7H850.6V248.9H846.4zM842.6 260.2H846.7V264.4H842.6z"/>
<path fill="#00c72c" d="M772.9 47.3H777.1V51.5H772.9zM734.2 51.2H738.4V55.4H734.2zM680.0 62.8H680.3V67.0H680.0zM753.6 62.8H757.7V67.0H753.6zM807.7 74.4H811.9V78.6H807.7zM784.5 78.3H788.7V82.5H784.5zM800.0 78.3H804.2V82.5H800.0zM865.8 252.4H870.0V256.6H865.8z"/>
<path fill="#00d507" d="M780.6 47.3H784.8V51.5H780.6zM807.7 140.2H811.9V144.4H807.7zM734.2 151.8H738.4V156.0H734.2zM711.0 244.7H715.2V248.9H711.0z"/>
<path fill="#00bf42" d="M784.5 47.3H788.7V51.5H784.5zM718.7 244.7H722.9V248.9H718.7z"/>
<path fill="#0ab6f8" d="M846.4 47.3H850.6V51.5H846.4z"/>
<path fill="#0aa9fc" d="M854.2 47.3H858.3V51.5H854.2zM858.0 47.3H862.2V51.5H858.0z"/>
<path fill="#00d015" d="M865.8 47.3H870.0V51.5H865.8zM869.7 47.3H873.8V51.5H869.7zM873.5 47.3H877.3V51.5H873.5zM680.0 59.0H680.3V63.1H680.0z"/>
<path fill="#5feb00" d="M680.0 51.2H680.3V55.4H680.0zM753.6 74.4H757.7V78.6H753.6zM765.2 74.4H769.3V78.6H765.2zM800.0 86.0H804.2V90.2H800.0zM796.1 132.5H800.3V136.7H796.1zM807.7 136.4H811.9V140.5H807.7zM695.5 151.8H699.7V156.0H695.5zM680.0 163.4H680.3V167.6H680.0zM730.3 171.2H734.5V175.4H730.3zM838.7 206.0H842.9V210.2H838.7zM683.9 221.5H688.1V225.7H683.9zM769.0 248.6H773.2V252.8H769.0zM873.5 248.6H877.3V252.8H873.5zM823.2 256.3H827.4V260.5H823.2z"/>
<path fill="#0eda00" d="M683.9 51.2H688.1V55.4H683.9zM699.4 59.0H703.5V63.1H699.4zM861.9 237.0H866.1V241.1H861.9zM741.9 244.7H746.1V248.9H741.9zM726.5 248.6H730.6V252.8H726.5z"/>
<path fill="#00c72e" d="M687.8 51.2H691.9V55.4H687.8zM683.9 209.9H688.1V214.1H683.9zM707.1 248.6H711.3V252.8H707.1z"/>
<path fill="#00d30c" d="M707.1 51.2H711.3V55.4H707.1zM711.0 51.2H715.2V55.4H711.0zM703.2 59.0H707.4V63.1H703.2zM861.9 62.8H866.1V67.0H861.9zM680.0 74.4H684.2V78.6H680.0zM711.0 74.4H715.2V78.6H711.0zM730.3 252.4H734.5V256.6H730.3zM741.9 264.1H746.1V267.3H741.9z"/>
<path fill="#00c479" d="M714.9 51.2H719.0V55.4H714.9zM680.0 237.0H684.2V241.1H680.0z"/>
<path fill="#00cc1f" d="M718.7 51.2H722.9V55.4H718.7zM745.8 74.4H750.0V78.6H745.8zM699.4 237.0H703.5V241.1H699.4z"/>
<path fill="#20de00" d="M722.6 51.2H726.8V55.4H722.6zM683.9 190.5H688.1V194.7H683.9zM718.7 221.5H722.9V225.7H718.7zM753.6 229.2H757.7V233.4H753.6zM850.3 264.1H854.5V267.3H850.3z"/>
<path fill="#12db00" d="M757.4 51.2H761.6V55.4H757.4zM687.8 55.1H691.9V59.2H687.8zM711.0 66.7H715.2V70.9H711.0zM753.6 66.7H757.7V70.9H753.6zM765.2 70.6H769.3V74.7H765.2zM761.3 78.3H765.5V82.5H761.3zM803.9 86.0H808.0V90.2H803.9zM711.0 178.9H715.2V183.1H711.0z"/>
<path fill="#00c266" d="M765.2 51.2H769.3V55.4H765.2zM691.6 70.6H695.8V74.7H691.6z"/>
<path fill="#00d604" d="M776.8 51.2H780.9V55.4H776.8zM691.6 59.0H695.8V63.1H691.6zM703.2 190.5H707.4V194.7H703.2zM803.9 221.5H808.0V225.7H803.9zM714.9 229.2H719.0V233.4H714.9zM734.2 233.1H738.4V237.3H734.2z"/>
<path fill="#00d602" d="M780.6 51.2H784.8V55.4H780.6zM788.4 55.1H792.6V59.2H788.4zM772.9 66.7H777.1V70.9H772.9zM811.6 78.3H815.8V82.5H811.6zM803.9 82.2H808.0V86.3H803.9zM734.2 109.3H738.4V113.4H734.2zM753.6 155.7H757.7V159.9H753.6zM695.5 252.4H699.7V256.6H695.5zM707.1 256.3H711.3V260.5H707.1zM776.8 264.1H780.9V267.3H776.8z"/>
<path fill="#0ad900" d="M784.5 51.2H788.7V55.4H784.5zM745.8 86.0H750.0V90.2H745.8zM811.6 86.0H815.8V90.2H811.6zM757.4 140.2H761.6V144.4H757.4zM738.1 252.4H742.2V256.6H738.1z"/>
<path fill="#00c79a" d="M815.5 51.2H819.6V55.4H815.5z"/>
<path fill="#003cc6" d="M827.1 51.2H831.3V55.4H827.1z"/>
<path fill="#001eaa" d="M834.8 51.2H839.0V55.4H834.8zM823.2 55.1H827.4V59.2H823.2zM827.1 55.1H831.3V59.2H827.1zM831.0 55.1H835.1V59.2H831.0zM834.8 55.1H839.0V59.2H834.8zM823.2 59.0H827.4V63.1H823.2zM827.1 59.0H831.3V63.1H827.1zM831.0 59.0H835.1V63.1H831.0zM834.8 59.0H839.0V63.1H834.8z"/>
<path fill="#0abbf6" d="M846.4 51.2H850.6V55.4H846.4zM850.3 51.2H854.5V55.4H850.3zM854.2 51.2H858.3V55.4H854.2zM858.0 51.2H862.2V55.4H858.0z"/>
<path fill="#00c373" d="M861.9 51.2H866.1V55.4H861.9zM838.7 55.1H842.9V59.2H838.7zM842.6 55.1H846.7V59.2H842.6zM838.7 59.0H842.9V63.1H838.7zM842.6 59.0H846.7V63.1H842.6zM819.3 62.8H823.5V67.0H819.3zM823.2 62.8H827.4V67.0H823.2zM819.3 66.7H823.5V70.9H819.3zM823.2 66.7H827.4V70.9H823.2z"/>
<path fill="#00ca23" d="M865.8 51.2H870.0V55.4H865.8zM869.7 51.2H873.8V55.4H869.7zM873.5 51.2H877.3V55.4H873.5zM865.8 55.1H870.0V59.2H865.8zM869.7 55.1H873.8V59.2H869.7zM873.5 55.1H877.3V59.2H873.5zM838.7 62.8H842.9V67.0H838.7zM842.6 62.8H846.7V67.0H842.6zM846.4 62.8H850.6V67.0H846.4zM850.3 62.8H854.5V67.0H850.3zM854.2 62.8H858.3V67.0H854.2zM838.7 66.7H842.9V70.9H838.7zM842.6 66.7H846.7V70.9H842.6zM846.4 66.7H850.6V70.9H846.4zM850.3 66.7H854.5V70.9H850.3zM854.2 66.7H858.3V70.9H854.2zM807.7 252.4H811.9V256.6H807.7z"/>
<path fill="#00bf43" d="M680.0 55.1H680.3V59.2H680.0zM699.4 248.6H703.5V252.8H699.4zM718.7 248.6H722.9V252.8H718.7z"/>
<path fill="#9af600" d="M680.0 55.1H684.2V59.2H680.0zM865.8 93.8H870.0V98.0H865.8zM873.5 93.8H877.3V98.0H873.5zM703.2 97.7H707.4V101.8H703.2zM823.2 109.3H827.4V113.4H823.2zM803.9 132.5H808.0V136.7H803.9zM861.9 144.1H866.1V148.3H861.9zM745.8 151.8H750.0V156.0H745.8zM753.6 151.8H757.7V156.0H753.6zM807.7 155.7H811.9V159.9H807.7zM800.0 159.6H804.2V163.7H800.0zM745.8 167.3H750.0V171.5H745.8zM757.4 221.5H761.6V225.7H757.4z"/>
<path fill="#65ec00" d="M691.6 55.1H695.8V59.2H691.6zM711.0 59.0H715.2V63.1H711.0zM726.5 70.6H730.6V74.7H726.5zM703.2 109.3H707.4V113.4H703.2zM714.9 140.2H719.0V144.4H714.9zM788.4 194.4H792.6V198.6H788.4zM726.5 217.6H730.6V221.8H726.5z"/>
<path fill="#00cd1c" d="M699.4 55.1H703.5V59.2H699.4zM776.8 55.1H780.9V59.2H776.8zM680.0 66.7H684.2V70.9H680.0zM691.6 78.3H695.8V82.5H691.6zM711.0 78.3H715.2V82.5H711.0zM691.6 186.7H695.8V190.8H691.6zM811.6 213.8H815.8V217.9H811.6zM800.0 237.0H804.2V241.1H800.0zM714.9 240.8H719.0V245.0H714.9zM722.6 260.2H726.8V264.4H722.6zM865.8 264.1H870.0V267.3H865.8z"/>
<path fill="#50e800" d="M707.1 55.1H711.3V59.2H707.1zM776.8 86.0H780.9V90.2H776.8zM788.4 136.4H792.6V140.5H788.4zM726.5 155.7H730.6V159.9H726.5zM858.0 171.2H862.2V175.4H858.0zM695.5 182.8H699.7V187.0H695.5z"/>
<path fill="#4fe800" d="M714.9 55.1H719.0V59.2H714.9zM745.8 78.3H750.0V82.5H745.8zM865.8 225.4H870.0V229.5H865.8zM803.9 229.2H808.0V233.4H803.9zM761.3 244.7H765.5V248.9H761.3zM869.7 244.7H873.8V248.9H869.7zM780.6 256.3H784.8V260.5H780.6z"/>
<path fill="#66ec00" d="M718.7 55.1H722.9V59.2H718.7zM726.5 86.0H730.6V90.2H726.5zM873.5 86.0H877.3V90.2H873.5zM707.1 105.4H711.3V109.6H707.1zM807.7 159.6H811.9V163.7H807.7zM687.8 175.1H691.9V179.2H687.8zM687.8 186.7H691.9V190.8H687.8zM792.3 186.7H796.4V190.8H792.3zM734.2 206.0H738.4V210.2H734.2zM803.9 209.9H808.0V214.1H803.9zM772.9 217.6H777.1V221.8H772.9zM769.0 233.1H773.2V237.3H769.0zM703.2 237.0H707.4V241.1H703.2zM831.0 240.8H835.1V245.0H831.0z"/>
<path fill="#b3fa00" d="M722.6 55.1H726.8V59.2H722.6zM707.1 109.3H711.3V113.4H707.1zM738.1 109.3H742.2V113.4H738.1zM680.0 113.1H684.2V117.3H680.0zM838.7 113.1H842.9V117.3H838.7zM695.5 117.0H699.7V121.2H695.5zM680.0 120.9H684.2V125.0H680.0zM714.9 120.9H719.0V125.0H714.9zM730.3 124.7H734.5V128.9H730.3zM772.9 124.7H777.1V128.9H772.9zM780.6 159.6H784.8V163.7H780.6zM819.3 163.4H823.5V167.6H819.3zM738.1 178.9H742.2V183.1H738.1zM838.7 178.9H842.9V183.1H838.7zM869.7 206.0H873.8V210.2H869.7z"/>
<path fill="#15db00" d="M749.7 55.1H753.9V59.2H749.7zM769.0 66.7H773.2V70.9H769.0zM800.0 136.4H804.2V140.5H800.0z"/>
<path fill="#00d014" d="M753.6 55.1H757.7V59.2H753.6zM772.9 59.0H777.1V63.1H772.9zM784.5 62.8H788.7V67.0H784.5zM761.3 66.7H765.5V70.9H761.3zM753.6 120.9H757.7V125.0H753.6zM699.4 182.8H703.5V187.0H699.4zM680.0 213.8H684.2V217.9H680.0zM811.6 221.5H815.8V225.7H811.6zM734.2 229.2H738.4V233.4H734.2zM730.3 237.0H734.5V241.1H730.3zM769.0 264.1H773.2V267.3H769.0z"/>
<path fill="#0acdee" d="M815.5 55.1H819.6V59.2H815.5z"/>
<path fill="#00c631" d="M858.0 55.1H862.2V59.2H858.0zM861.9 55.1H866.1V59.2H861.9zM858.0 59.0H862.2V63.1H858.0zM861.9 59.0H866.1V63.1H861.9zM800.0 62.8H804.2V67.0H800.0zM803.9 62.8H808.0V67.0H803.9zM807.7 62.8H811.9V67.0H807.7zM811.6 62.8H815.8V67.0H811.6zM800.0 66.7H804.2V70.9H800.0zM803.9 66.7H808.0V70.9H803.9zM807.7 66.7H811.9V70.9H807.7zM811.6 66.7H815.8V70.9H811.6zM800.0 70.6H804.2V74.7H800.0zM803.9 70.6H808.0V74.7H803.9zM807.7 70.6H811.9V74.7H807.7zM811.6 70.6H815.8V74.7H811.6zM792.3 198.3H796.4V202.4H792.3z"/>
<path fill="#31e100" d="M695.5 59.0H699.7V63.1H695.5zM722.6 74.4H726.8V78.6H722.6zM745.8 82.2H750.0V86.3H745.8zM753.6 140.2H757.7V144.4H753.6zM800.0 186.7H804.2V190.8H800.0zM695.5 194.4H699.7V198.6H695.5zM687.8 202.1H691.9V206.3H687.8zM695.5 202.1H699.7V206.3H695.5zM772.9 213.8H777.1V217.9H772.9zM769.0 237.0H773.2V241.1H769.0zM792.3 264.1H796.4V267.3H792.3zM811.6 264.1H815.8V267.3H811.6z"/>
<path fill="#6aed00" d="M707.1 59.0H711.3V63.1H707.1zM873.5 78.3H877.3V82.5H873.5zM803.9 128.6H808.0V132.8H803.9zM854.2 136.4H858.3V140.5H854.2zM714.9 167.3H719.0V171.5H714.9zM807.7 194.4H811.9V198.6H807.7zM711.0 209.9H715.2V214.1H711.0zM749.7 233.1H753.9V237.3H749.7zM823.2 233.1H827.4V237.3H823.2zM865.8 233.1H870.0V237.3H865.8zM811.6 240.8H815.8V245.0H811.6zM749.7 244.7H753.9V248.9H749.7zM854.2 248.6H858.3V252.8H854.2zM803.9 252.4H808.0V256.6H803.9zM842.6 252.4H846.7V256.6H842.6zM850.3 260.2H854.5V264.4H850.3zM861.9 260.2H866.1V264.4H861.9zM807.7 264.1H811.9V267.3H807.7z"/>
<path fill="#56e900" d="M714.9 59.0H719.0V63.1H714.9zM772.9 144.1H777.1V148.3H772.9zM873.5 148.0H877.3V152.1H873.5zM680.0 151.8H680.3V156.0H680.0zM765.2 155.7H769.3V159.9H765.2zM722.6 190.5H726.8V194.7H722.6zM800.0 202.1H804.2V206.3H800.0zM711.0 206.0H715.2V210.2H711.0zM807.7 229.2H811.9V233.4H807.7zM838.7 237.0H842.9V241.1H838.7zM861.9 240.8H866.1V245.0H861.9zM815.5 248.6H819.6V252.8H815.5z"/>
<path fill="#b2fa00" d="M718.7 59.0H722.9V63.1H718.7zM796.1 82.2H800.3V86.3H796.1zM842.6 124.7H846.7V128.9H842.6zM714.9 136.4H719.0V140.5H714.9zM834.8 136.4H839.0V140.5H834.8zM687.8 148.0H691.9V152.1H687.8zM757.4 159.6H761.6V163.7H757.4zM869.7 175.1H873.8V179.2H869.7zM695.5 178.9H699.7V183.1H695.5zM796.1 178.9H800.3V183.1H796.1z"/>
<path fill="#cef800" d="M722.6 59.0H726.8V63.1H722.6zM819.3 120.9H823.5V125.0H819.3zM703.2 124.7H707.4V128.9H703.2zM687.8 132.5H691.9V136.7H687.8zM691.6 151.8H695.8V156.0H691.6zM827.1 167.3H831.3V171.5H827.1zM800.0 175.1H804.2V179.2H800.0zM846.4 175.1H850.6V179.2H846.4zM776.8 233.1H780.9V237.3H776.8z"/>
<path fill="#7ff100" d="M726.5 59.0H730.6V63.1H726.5zM683.9 89.9H688.1V94.1H683.9zM776.8 124.7H780.9V128.9H776.8zM772.9 132.5H777.1V136.7H772.9zM765.2 159.6H769.3V163.7H765.2zM687.8 171.2H691.9V175.4H687.8zM722.6 182.8H726.8V187.0H722.6zM831.0 194.4H835.1V198.6H831.0zM850.3 217.6H854.5V221.8H850.3zM772.9 252.4H777.1V256.6H772.9zM846.4 260.2H850.6V264.4H846.4zM861.9 264.1H866.1V267.3H861.9z"/>
<path fill="#0dda00" d="M749.7 59.0H753.9V63.1H749.7zM714.9 74.4H719.0V78.6H714.9zM683.9 202.1H688.1V206.3H683.9zM703.2 260.2H707.4V264.4H703.2z"/>
<path fill="#00d40a" d="M753.6 59.0H757.7V63.1H753.6zM865.8 59.0H870.0V63.1H865.8zM769.0 78.3H773.2V82.5H769.0zM788.4 120.9H792.6V125.0H788.4z"/>
<path fill="#00cf15" d="M757.4 59.0H761.6V63.1H757.4zM780.6 82.2H784.8V86.3H780.6zM827.1 264.1H831.3V267.3H827.1z"/>
<path fill="#0fda00" d="M769.0 59.0H773.2V63.1H769.0zM761.3 62.8H765.5V67.0H761.3zM695.5 209.9H699.7V214.1H695.5zM691.6 233.1H695.8V237.3H691.6zM858.0 240.8H862.2V245.0H858.0z"/>
<path fill="#95f500" d="M780.6 59.0H784.8V63.1H780.6zM734.2 89.9H738.4V94.1H734.2zM780.6 93.8H784.8V98.0H780.6zM788.4 93.8H792.6V98.0H788.4zM800.0 93.8H804.2V98.0H800.0zM695.5 105.4H699.7V109.6H695.5zM753.6 128.6H757.7V132.8H753.6zM842.6 128.6H846.7V132.8H842.6zM730.3 136.4H734.5V140.5H730.3zM823.2 140.2H827.4V144.4H823.2zM850.3 140.2H854.5V144.4H850.3zM680.0 148.0H680.3V152.1H680.0zM873.5 155.7H877.3V159.9H873.5zM683.9 159.6H688.1V163.7H683.9zM757.4 163.4H761.6V167.6H757.4zM745.8 171.2H750.0V175.4H745.8zM780.6 229.2H784.8V233.4H780.6zM807.7 248.6H811.9V252.8H807.7z"/>
<path fill="#32e100" d="M784.5 59.0H788.7V63.1H784.5zM745.8 89.9H750.0V94.1H745.8zM761.3 148.0H765.5V152.1H761.3zM714.9 194.4H719.0V198.6H714.9z"/>
<path fill="#47e600" d="M788.4 59.0H792.6V63.1H788.4zM800.0 89.9H804.2V94.1H800.0zM858.0 97.7H862.2V101.8H858.0zM699.4 113.1H703.5V117.3H699.4zM807.7 124.7H811.9V128.9H807.7zM765.2 206.0H769.3V210.2H765.2zM803.9 206.0H808.0V210.2H803.9zM765.2 221.5H769.3V225.7H765.2zM815.5 237.0H819.6V241.1H815.5zM722.6 248.6H726.8V252.8H722.6zM757.4 256.3H761.6V260.5H757.4zM854.2 264.1H858.3V267.3H854.2z"/>
<path fill="#01d700" d="M796.1 59.0H800.3V63.1H796.1zM680.0 66.7H680.3V70.9H680.0zM691.6 82.2H695.8V86.3H691.6zM757.4 128.6H761.6V132.8H757.4zM784.5 171.2H788.7V175.4H784.5zM680.0 186.7H684.2V190.8H680.0zM722.6 237.0H726.8V241.1H722.6zM815.5 252.4H819.6V256.6H815.5z"/>
<path fill="#22de00" d="M800.0 59.0H804.2V63.1H800.0zM741.9 155.7H746.1V159.9H741.9zM800.0 217.6H804.2V221.8H800.0zM707.1 225.4H711.3V229.5H707.1zM842.6 237.0H846.7V241.1H842.6zM834.8 260.2H839.0V264.4H834.8z"/>
<path fill="#00c47a" d="M846.4 59.0H850.6V63.1H846.4z"/>
<path fill="#00d20d" d="M854.2 59.0H858.3V63.1H854.2zM792.3 66.7H796.4V70.9H792.3zM726.5 175.1H730.6V179.2H726.5zM730.3 240.8H734.5V245.0H730.3zM691.6 252.4H695.8V256.6H691.6z"/>
<path fill="#00d013" d="M873.5 59.0H877.3V63.1H873.5zM680.0 78.3H680.3V82.5H680.0zM807.7 221.5H811.9V225.7H807.7zM803.9 240.8H808.0V245.0H803.9z"/>
<path fill="#00c23b" d="M680.0 62.8H684.2V67.0H680.0zM680.0 252.4H680.3V256.6H680.0z"/>
<path fill="#00c162" d="M687.8 62.8H691.9V67.0H687.8zM769.0 62.8H773.2V67.0H769.0z"/>
<path fill="#2be000" d="M691.6 62.8H695.8V67.0H691.6zM846.4 93.8H850.6V98.0H846.4zM803.9 233.1H808.0V237.3H803.9zM703.2 256.3H707.4V260.5H703.2zM842.6 256.3H846.7V260.5H842.6zM838.7 260.2H842.9V264.4H838.7zM761.3 264.1H765.5V267.3H761.3z"/>
<path fill="#00c68b" d="M699.4 62.8H703.5V67.0H699.4z"/>
<path fill="#00c15d" d="M703.2 62.8H707.4V67.0H703.2zM714.9 182.8H719.0V187.0H714.9zM680.0 264.1H684.2V267.3H680.0z"/>
<path fill="#41e500" d="M711.0 62.8H715.2V67.0H711.0zM784.5 128.6H788.7V132.8H784.5zM730.3 217.6H734.5V221.8H730.3zM842.6 240.8H846.7V245.0H842.6zM784.5 260.2H788.7V264.4H784.5z"/>
<path fill="#aaf900" d="M722.6 62.8H726.8V67.0H722.6zM718.7 105.4H722.9V109.6H718.7zM699.4 124.7H703.5V128.9H699.4zM796.1 136.4H800.3V140.5H796.1zM687.8 163.4H691.9V167.6H687.8zM753.6 167.3H757.7V171.5H753.6zM819.3 171.2H823.5V175.4H819.3zM823.2 171.2H827.4V175.4H823.2zM745.8 175.1H750.0V179.2H745.8zM842.6 182.8H846.7V187.0H842.6zM811.6 186.7H815.8V190.8H811.6zM745.8 198.3H750.0V202.4H745.8zM869.7 198.3H873.8V202.4H869.7z"/>
<path fill="#88f300" d="M726.5 62.8H730.6V67.0H726.5zM722.6 82.2H726.8V86.3H722.6zM796.1 128.6H800.3V132.8H796.1zM846.4 144.1H850.6V148.3H846.4zM865.8 148.0H870.0V152.1H865.8zM745.8 159.6H750.0V163.7H745.8zM680.0 171.2H684.2V175.4H680.0zM714.9 171.2H719.0V175.4H714.9zM858.0 182.8H862.2V187.0H858.0zM865.8 194.4H870.0V198.6H865.8zM873.5 198.3H877.3V202.4H873.5zM865.8 209.9H870.0V214.1H865.8zM703.2 217.6H707.4V221.8H703.2zM734.2 217.6H738.4V221.8H734.2zM834.8 229.2H839.0V233.4H834.8zM780.6 244.7H784.8V248.9H780.6zM741.9 252.4H746.1V256.6H741.9zM776.8 252.4H780.9V256.6H776.8zM707.1 264.1H711.3V267.3H707.1z"/>
<path fill="#07d900" d="M757.4 62.8H761.6V67.0H757.4zM749.7 66.7H753.9V70.9H749.7z"/>
<path fill="#0cd900" d="M765.2 62.8H769.3V67.0H765.2zM738.1 70.6H742.2V74.7H738.1zM707.1 78.3H711.3V82.5H707.1zM858.0 237.0H862.2V241.1H858.0z"/>
<path fill="#4de700" d="M772.9 62.8H777.1V67.0H772.9zM734.2 70.6H738.4V74.7H734.2zM738.1 140.2H742.2V144.4H738.1zM691.6 175.1H695.8V179.2H691.6zM680.0 213.8H680.3V217.9H680.0zM703.2 213.8H707.4V217.9H703.2zM869.7 248.6H873.8V252.8H869.7z"/>
<path fill="#48e600" d="M776.8 62.8H780.9V67.0H776.8zM718.7 74.4H722.9V78.6H718.7zM854.2 202.1H858.3V206.3H854.2zM722.6 229.2H726.8V233.4H722.6zM761.3 240.8H765.5V245.0H761.3zM815.5 240.8H819.6V245.0H815.5zM846.4 264.1H850.6V267.3H846.4z"/>
<path fill="#06d800" d="M788.4 62.8H792.6V67.0H788.4zM680.0 217.6H684.2V221.8H680.0zM695.5 221.5H699.7V225.7H695.5zM699.4 233.1H703.5V237.3H699.4zM738.1 237.0H742.2V241.1H738.1zM730.3 244.7H734.5V248.9H730.3zM738.1 256.3H742.2V260.5H738.1zM730.3 260.2H734.5V264.4H730.3z"/>
<path fill="#08d900" d="M796.1 62.8H800.3V67.0H796.1zM815.5 213.8H819.6V217.9H815.5zM687.8 233.1H691.9V237.3H687.8z"/>
<path fill="#05cac8" d="M815.5 62.8H819.6V67.0H815.5zM815.5 66.7H819.6V70.9H815.5z"/>
<path fill="#00c927" d="M683.9 66.7H688.1V70.9H683.9zM796.1 198.3H800.3V202.4H796.1zM811.6 225.4H815.8V229.5H811.6zM800.0 244.7H804.2V248.9H800.0zM711.0 260.2H715.2V264.4H711.0z"/>
<path fill="#00d408" d="M687.8 66.7H691.9V70.9H687.8zM757.4 66.7H761.6V70.9H757.4zM873.5 70.6H877.3V74.7H873.5zM718.7 198.3H722.9V202.4H718.7zM691.6 217.6H695.8V221.8H691.6zM865.8 240.8H870.0V245.0H865.8z"/>
<path fill="#00ca24" d="M695.5 66.7H699.7V70.9H695.5zM800.0 74.4H804.2V78.6H800.0zM741.9 78.3H746.1V82.5H741.9zM792.3 194.4H796.4V198.6H792.3zM711.0 248.6H715.2V252.8H711.0z"/>
<path fill="#00c042" d="M699.4 66.7H703.5V70.9H699.4z"/>
<path fill="#00be45" d="M703.2 66.7H707.4V70.9H703.2zM819.3 70.6H823.5V74.7H819.3zM695.5 237.0H699.7V241.1H695.5z"/>
<path fill="#00c436" d="M707.1 66.7H711.3V70.9H707.1zM834.8 248.6H839.0V252.8H834.8zM718.7 252.4H722.9V256.6H718.7zM718.7 256.3H722.9V260.5H718.7z"/>
<path fill="#a9f900" d="M718.7 66.7H722.9V70.9H718.7zM854.2 93.8H858.3V98.0H854.2zM827.1 105.4H831.3V109.6H827.1zM761.3 120.9H765.5V125.0H761.3zM784.5 124.7H788.7V128.9H784.5zM861.9 136.4H866.1V140.5H861.9zM683.9 155.7H688.1V159.9H683.9zM800.0 155.7H804.2V159.9H800.0zM807.7 182.8H811.9V187.0H807.7zM780.6 217.6H784.8V221.8H780.6z"/>
<path fill="#f0f600" d="M722.6 66.7H726.8V70.9H722.6zM850.3 113.1H854.5V117.3H850.3zM703.2 132.5H707.4V136.7H703.2zM815.5 136.4H819.6V140.5H815.5zM861.9 167.3H866.1V171.5H861.9zM769.0 178.9H773.2V183.1H769.0zM861.9 213.8H866.1V217.9H861.9z"/>
<path fill="#05d800" d="M745.8 66.7H750.0V70.9H745.8zM707.1 198.3H711.3V202.4H707.1zM738.1 213.8H742.2V217.9H738.1zM838.7 233.1H842.9V237.3H838.7zM854.2 240.8H858.3V245.0H854.2zM765.2 256.3H769.3V260.5H765.2z"/>
<path fill="#49e600" d="M780.6 66.7H784.8V70.9H780.6zM683.9 70.6H688.1V74.7H683.9zM776.8 78.3H780.9V82.5H776.8zM757.4 132.5H761.6V136.7H757.4zM772.9 148.0H777.1V152.1H772.9zM734.2 163.4H738.4V167.6H734.2zM683.9 217.6H688.1V221.8H683.9zM703.2 221.5H707.4V225.7H703.2zM823.2 237.0H827.4V241.1H823.2z"/>
<path fill="#c1f900" d="M784.5 66.7H788.7V70.9H784.5zM807.7 109.3H811.9V113.4H807.7zM796.1 113.1H800.3V117.3H796.1zM683.9 124.7H688.1V128.9H683.9zM838.7 140.2H842.9V144.4H838.7zM850.3 155.7H854.5V159.9H850.3zM749.7 194.4H753.9V198.6H749.7zM823.2 194.4H827.4V198.6H823.2zM819.3 225.4H823.5V229.5H819.3zM834.8 225.4H839.0V229.5H834.8z"/>
<path fill="#19dc00" d="M788.4 66.7H792.6V70.9H788.4zM741.9 70.6H746.1V74.7H741.9zM695.5 82.2H699.7V86.3H695.5zM784.5 86.0H788.7V90.2H784.5zM811.6 89.9H815.8V94.1H811.6zM842.6 89.9H846.7V94.1H842.6zM819.3 151.8H823.5V156.0H819.3zM714.9 190.5H719.0V194.7H714.9zM691.6 206.0H695.8V210.2H691.6zM803.9 225.4H808.0V229.5H803.9zM769.0 229.2H773.2V233.4H769.0z"/>
<path fill="#00bf44" d="M796.1 66.7H800.3V70.9H796.1zM687.8 70.6H691.9V74.7H687.8z"/>
<path fill="#09d900" d="M873.5 66.7H877.3V70.9H873.5zM714.9 70.6H719.0V74.7H714.9zM780.6 86.0H784.8V90.2H780.6zM749.7 120.9H753.9V125.0H749.7zM749.7 155.7H753.9V159.9H749.7zM788.4 167.3H792.6V171.5H788.4zM834.8 237.0H839.0V241.1H834.8zM711.0 240.8H715.2V245.0H711.0zM800.0 248.6H804.2V252.8H800.0z"/>
<path fill="#1fde00" d="M680.0 70.6H680.3V74.7H680.0zM722.6 213.8H726.8V217.9H722.6zM823.2 225.4H827.4V229.5H823.2zM745.8 260.2H750.0V264.4H745.8z"/>
<path fill="#00d20e" d="M680.0 70.6H684.2V74.7H680.0zM703.2 78.3H707.4V82.5H703.2zM741.9 86.0H746.1V90.2H741.9zM815.5 221.5H819.6V225.7H815.5zM741.9 233.1H746.1V237.3H741.9zM757.4 233.1H761.6V237.3H757.4z"/>
<path fill="#00c82b" d="M695.5 70.6H699.7V74.7H695.5z"/>
<path fill="#8ff400" d="M711.0 70.6H715.2V74.7H711.0zM734.2 140.2H738.4V144.4H734.2zM819.3 140.2H823.5V144.4H819.3zM741.9 151.8H746.1V156.0H741.9zM707.1 159.6H711.3V163.7H707.1zM776.8 167.3H780.9V171.5H776.8zM815.5 178.9H819.6V183.1H815.5zM703.2 182.8H707.4V187.0H703.2zM772.9 182.8H777.1V187.0H772.9zM784.5 182.8H788.7V187.0H784.5zM865.8 182.8H870.0V187.0H865.8zM772.9 202.1H777.1V206.3H772.9zM858.0 202.1H862.2V206.3H858.0zM753.6 217.6H757.7V221.8H753.6zM776.8 225.4H780.9V229.5H776.8z"/>
<path fill="#b6fa00" d="M722.6 70.6H726.8V74.7H722.6zM703.2 113.1H707.4V117.3H703.2zM834.8 120.9H839.0V125.0H834.8zM680.0 124.7H684.2V128.9H680.0zM730.3 128.6H734.5V132.8H730.3zM745.8 128.6H750.0V132.8H745.8zM738.1 132.5H742.2V136.7H738.1zM854.2 144.1H858.3V148.3H854.2zM714.9 151.8H719.0V156.0H714.9zM796.1 163.4H800.3V167.6H796.1zM695.5 167.3H699.7V171.5H695.5z"/>
<path fill="#2ce000" d="M749.7 70.6H753.9V74.7H749.7zM749.7 78.3H753.9V82.5H749.7zM738.1 86.0H742.2V90.2H738.1zM819.3 202.1H823.5V206.3H819.3zM769.0 221.5H773.2V225.7H769.0zM854.2 237.0H858.3V241.1H854.2zM757.4 240.8H761.6V245.0H757.4zM738.1 244.7H742.2V248.9H738.1zM714.9 248.6H719.0V252.8H714.9zM734.2 260.2H738.4V264.4H734.2z"/>
<path fill="#5cea00" d="M753.6 70.6H757.7V74.7H753.6zM730.3 97.7H734.5V101.8H730.3zM757.4 136.4H761.6V140.5H757.4zM730.3 225.4H734.5V229.5H730.3z"/>
<path fill="#64ec00" d="M780.6 70.6H784.8V74.7H780.6zM807.7 89.9H811.9V94.1H807.7zM699.4 101.5H703.5V105.7H699.4zM765.2 144.1H769.3V148.3H765.2zM769.0 148.0H773.2V152.1H769.0zM757.4 155.7H761.6V159.9H757.4zM761.3 233.1H765.5V237.3H761.3zM776.8 244.7H780.9V248.9H776.8z"/>
<path fill="#2fe100" d="M784.5 70.6H788.7V74.7H784.5zM741.9 74.4H746.1V78.6H741.9zM800.0 233.1H804.2V237.3H800.0zM792.3 240.8H796.4V245.0H792.3zM757.4 244.7H761.6V248.9H757.4zM792.3 252.4H796.4V256.6H792.3zM838.7 264.1H842.9V267.3H838.7z"/>
<path fill="#2ee100" d="M788.4 70.6H792.6V74.7H788.4zM707.1 86.0H711.3V90.2H707.1zM703.2 89.9H707.4V94.1H703.2zM730.3 198.3H734.5V202.4H730.3zM699.4 213.8H703.5V217.9H699.4zM761.3 225.4H765.5V229.5H761.3zM707.1 229.2H711.3V233.4H707.1zM858.0 244.7H862.2V248.9H858.0zM831.0 256.3H835.1V260.5H831.0z"/>
<path fill="#00c68d" d="M815.5 70.6H819.6V74.7H815.5z"/>
<path fill="#06cbd4" d="M823.2 70.6H827.4V74.7H823.2z"/>
<path fill="#00c371" d="M680.0 74.4H680.3V78.6H680.0zM695.5 244.7H699.7V248.9H695.5z"/>
<path fill="#00c372" d="M683.9 74.4H688.1V78.6H683.9zM680.0 240.8H684.2V245.0H680.0zM680.0 260.2H684.2V264.4H680.0z"/>
<path fill="#057df0" d="M687.8 74.4H691.9V78.6H687.8z"/>
<path fill="#00c13e" d="M699.4 74.4H703.5V78.6H699.4z"/>
<path fill="#00bf4c" d="M703.2 74.4H707.4V78.6H703.2zM792.3 74.4H796.4V78.6H792.3zM800.0 198.3H804.2V202.4H800.0z"/>
<path fill="#75ef00" d="M726.5 74.4H730.6V78.6H726.5zM722.6 78.3H726.8V82.5H722.6zM680.0 86.0H680.3V90.2H680.0zM749.7 175.1H753.9V179.2H749.7zM726.5 190.5H730.6V194.7H726.5zM691.6 198.3H695.8V202.4H691.6zM680.0 225.4H680.3V229.5H680.0zM873.5 233.1H877.3V237.3H873.5zM788.4 248.6H792.6V252.8H788.4zM854.2 256.3H858.3V260.5H854.2zM800.0 260.2H804.2V264.4H800.0zM873.5 260.2H877.3V264.4H873.5z"/>
<path fill="#b5fa00" d="M730.3 74.4H734.5V78.6H730.3zM811.6 128.6H815.8V132.8H811.6zM827.1 132.5H831.3V136.7H827.1zM711.0 148.0H715.2V152.1H711.0zM772.9 159.6H777.1V163.7H772.9zM819.3 159.6H823.5V163.7H819.3zM738.1 182.8H742.2V187.0H738.1zM827.1 186.7H831.3V190.8H827.1zM842.6 194.4H846.7V198.6H842.6zM738.1 217.6H742.2V221.8H738.1zM846.4 252.4H850.6V256.6H846.4z"/>
<path fill="#7ef100" d="M738.1 74.4H742.2V78.6H738.1zM695.5 93.8H699.7V98.0H695.5zM815.5 101.5H819.6V105.7H815.5zM792.3 124.7H796.4V128.9H792.3zM738.1 167.3H742.2V171.5H738.1zM788.4 186.7H792.6V190.8H788.4zM730.3 190.5H734.5V194.7H730.3zM834.8 198.3H839.0V202.4H834.8zM738.1 209.9H742.2V214.1H738.1zM707.1 217.6H711.3V221.8H707.1zM722.6 225.4H726.8V229.5H722.6zM854.2 233.1H858.3V237.3H854.2z"/>
<path fill="#00be48" d="M749.7 74.4H753.9V78.6H749.7z"/>
<path fill="#00cc20" d="M757.4 74.4H761.6V78.6H757.4zM807.7 82.2H811.9V86.3H807.7zM680.0 233.1H684.2V237.3H680.0z"/>
<path fill="#34e200" d="M761.3 74.4H765.5V78.6H761.3zM730.3 78.3H734.5V82.5H730.3zM730.3 202.1H734.5V206.3H730.3zM683.9 206.0H688.1V210.2H683.9zM807.7 206.0H811.9V210.2H807.7zM784.5 252.4H788.7V256.6H784.5z"/>
<path fill="#3ce400" d="M769.0 74.4H773.2V78.6H769.0zM769.0 86.0H773.2V90.2H769.0zM827.1 97.7H831.3V101.8H827.1zM861.9 117.0H866.1V121.2H861.9zM784.5 144.1H788.7V148.3H784.5zM788.4 190.5H792.6V194.7H788.4zM765.2 229.2H769.3V233.4H765.2z"/>
<path fill="#00c05c" d="M803.9 74.4H808.0V78.6H803.9z"/>
<path fill="#07ccd9" d="M815.5 74.4H819.6V78.6H815.5z"/>
<path fill="#01c9aa" d="M819.3 74.4H823.5V78.6H819.3z"/>
<path fill="#24de00" d="M680.0 78.3H684.2V82.5H680.0zM815.5 264.1H819.6V267.3H815.5z"/>
<path fill="#00c375" d="M687.8 78.3H691.9V82.5H687.8zM687.8 240.8H691.9V245.0H687.8z"/>
<path fill="#11db00" d="M699.4 78.3H703.5V82.5H699.4zM711.0 163.4H715.2V167.6H711.0zM780.6 175.1H784.8V179.2H780.6zM819.3 213.8H823.5V217.9H819.3zM761.3 248.6H765.5V252.8H761.3zM800.0 256.3H804.2V260.5H800.0z"/>
<path fill="#36e200" d="M714.9 78.3H719.0V82.5H714.9zM718.7 78.3H722.9V82.5H718.7zM772.9 78.3H777.1V82.5H772.9zM703.2 86.0H707.4V90.2H703.2z"/>
<path fill="#7df100" d="M726.5 78.3H730.6V82.5H726.5zM734.2 86.0H738.4V90.2H734.2zM803.9 89.9H808.0V94.1H803.9zM738.1 93.8H742.2V98.0H738.1zM718.7 117.0H722.9V121.2H718.7zM745.8 117.0H750.0V121.2H745.8zM788.4 117.0H792.6V121.2H788.4zM865.8 117.0H870.0V121.2H865.8zM807.7 144.1H811.9V148.3H807.7zM726.5 163.4H730.6V167.6H726.5zM811.6 171.2H815.8V175.4H811.6zM834.8 178.9H839.0V183.1H834.8zM811.6 202.1H815.8V206.3H811.6zM788.4 217.6H792.6V221.8H788.4zM687.8 221.5H691.9V225.7H687.8zM714.9 237.0H719.0V241.1H714.9zM796.1 252.4H800.3V256.6H796.1zM745.8 256.3H750.0V260.5H745.8zM792.3 260.2H796.4V264.4H792.3z"/>
<path fill="#92f400" d="M734.2 78.3H738.4V82.5H734.2zM873.5 101.5H877.3V105.7H873.5zM861.9 109.3H866.1V113.4H861.9zM695.5 113.1H699.7V117.3H695.5zM865.8 120.9H870.0V125.0H865.8zM858.0 128.6H862.2V132.8H858.0zM815.5 132.5H819.6V136.7H815.5zM846.4 136.4H850.6V140.5H846.4zM761.3 202.1H765.5V206.3H761.3z"/>
<path fill="#04d800" d="M738.1 78.3H742.2V82.5H738.1zM815.5 244.7H819.6V248.9H815.5z"/>
<path fill="#00bf50" d="M765.2 78.3H769.3V82.5H765.2z"/>
<path fill="#00c8a3" d="M815.5 78.3H819.6V82.5H815.5z"/>
<path fill="#0acdef" d="M819.3 78.3H823.5V82.5H819.3z"/>
<path fill="#aefa00" d="M680.0 82.2H680.3V86.3H680.0zM823.2 97.7H827.4V101.8H823.2zM691.6 105.4H695.8V109.6H691.6zM865.8 105.4H870.0V109.6H865.8zM730.3 109.3H734.5V113.4H730.3zM757.4 120.9H761.6V125.0H757.4zM846.4 155.7H850.6V159.9H846.4zM738.1 163.4H742.2V167.6H738.1zM819.3 178.9H823.5V183.1H819.3zM846.4 178.9H850.6V183.1H846.4zM776.8 182.8H780.9V187.0H776.8zM780.6 213.8H784.8V217.9H780.6zM796.1 225.4H800.3V229.5H796.1zM842.6 229.2H846.7V233.4H842.6zM784.5 233.1H788.7V237.3H784.5z"/>
<path fill="#32e200" d="M680.0 82.2H684.2V86.3H680.0zM772.9 82.2H777.1V86.3H772.9zM796.1 117.0H800.3V121.2H796.1zM722.6 171.2H726.8V175.4H722.6zM691.6 190.5H695.8V194.7H691.6z"/>
<path fill="#00c62f" d="M703.2 82.2H707.4V86.3H703.2z"/>
<path fill="#94f500" d="M718.7 82.2H722.9V86.3H718.7zM718.7 86.0H722.9V90.2H718.7zM765.2 89.9H769.3V94.1H765.2zM842.6 97.7H846.7V101.8H842.6zM834.8 105.4H839.0V109.6H834.8zM869.7 113.1H873.8V117.3H869.7zM873.5 117.0H877.3V121.2H873.5zM683.9 120.9H688.1V125.0H683.9zM769.0 124.7H773.2V128.9H769.0zM711.0 136.4H715.2V140.5H711.0zM858.0 155.7H862.2V159.9H858.0zM749.7 159.6H753.9V163.7H749.7zM865.8 159.6H870.0V163.7H865.8zM714.9 178.9H719.0V183.1H714.9zM831.0 182.8H835.1V187.0H831.0zM861.9 182.8H866.1V187.0H861.9zM722.6 186.7H726.8V190.8H722.6zM827.1 190.5H831.3V194.7H827.1zM734.2 213.8H738.4V217.9H734.2zM745.8 213.8H750.0V217.9H745.8zM711.0 217.6H715.2V221.8H711.0zM753.6 225.4H757.7V229.5H753.6zM765.2 248.6H769.3V252.8H765.2zM850.3 252.4H854.5V256.6H850.3z"/>
<path fill="#1add00" d="M726.5 82.2H730.6V86.3H726.5zM784.5 186.7H788.7V190.8H784.5zM718.7 190.5H722.9V194.7H718.7z"/>
<path fill="#58e900" d="M734.2 82.2H738.4V86.3H734.2zM788.4 82.2H792.6V86.3H788.4zM800.0 128.6H804.2V132.8H800.0zM757.4 151.8H761.6V156.0H757.4zM765.2 233.1H769.3V237.3H765.2zM745.8 244.7H750.0V248.9H745.8zM823.2 264.1H827.4V267.3H823.2z"/>
<path fill="#00cb21" d="M741.9 82.2H746.1V86.3H741.9zM734.2 171.2H738.4V175.4H734.2zM788.4 198.3H792.6V202.4H788.4z"/>
<path fill="#00d111" d="M749.7 82.2H753.9V86.3H749.7zM726.5 244.7H730.6V248.9H726.5zM726.5 252.4H730.6V256.6H726.5z"/>
<path fill="#5aea00" d="M761.3 82.2H765.5V86.3H761.3zM873.5 89.9H877.3V94.1H873.5zM745.8 93.8H750.0V98.0H745.8zM749.7 167.3H753.9V171.5H749.7zM854.2 167.3H858.3V171.5H854.2zM691.6 171.2H695.8V175.4H691.6zM711.0 175.1H715.2V179.2H711.0zM687.8 190.5H691.9V194.7H687.8zM796.1 194.4H800.3V198.6H796.1zM680.0 225.4H684.2V229.5H680.0zM718.7 225.4H722.9V229.5H718.7zM807.7 240.8H811.9V245.0H807.7zM745.8 248.6H750.0V252.8H745.8z"/>
<path fill="#1adc00" d="M765.2 82.2H769.3V86.3H765.2zM749.7 86.0H753.9V90.2H749.7zM757.4 89.9H761.6V94.1H757.4zM749.7 148.0H753.9V152.1H749.7zM707.1 182.8H711.3V187.0H707.1zM714.9 198.3H719.0V202.4H714.9zM803.9 198.3H808.0V202.4H803.9z"/>
<path fill="#71ee00" d="M792.3 82.2H796.4V86.3H792.3zM680.0 117.0H680.3V121.2H680.0zM776.8 140.2H780.9V144.4H776.8zM722.6 163.4H726.8V167.6H722.6zM842.6 198.3H846.7V202.4H842.6zM714.9 206.0H719.0V210.2H714.9zM745.8 206.0H750.0V210.2H745.8zM699.4 209.9H703.5V214.1H699.4zM745.8 240.8H750.0V245.0H745.8z"/>
<path fill="#00c534" d="M811.6 82.2H815.8V86.3H811.6zM695.5 264.1H699.7V267.3H695.5z"/>
<path fill="#69ed00" d="M873.5 82.2H877.3V86.3H873.5zM730.3 86.0H734.5V90.2H730.3zM699.4 97.7H703.5V101.8H699.4zM815.5 97.7H819.6V101.8H815.5zM854.2 105.4H858.3V109.6H854.2zM680.0 136.4H684.2V140.5H680.0zM745.8 144.1H750.0V148.3H745.8zM780.6 155.7H784.8V159.9H780.6zM738.1 159.6H742.2V163.7H738.1zM749.7 163.4H753.9V167.6H749.7zM753.6 163.4H757.7V167.6H753.6zM765.2 163.4H769.3V167.6H765.2zM834.8 175.1H839.0V179.2H834.8zM784.5 190.5H788.7V194.7H784.5zM699.4 202.1H703.5V206.3H699.4zM858.0 252.4H862.2V256.6H858.0zM749.7 260.2H753.9V264.4H749.7zM827.1 260.2H831.3V264.4H827.1z"/>
<path fill="#3fe400" d="M680.0 86.0H684.2V90.2H680.0zM718.7 186.7H722.9V190.8H718.7zM695.5 213.8H699.7V217.9H695.5zM683.9 225.4H688.1V229.5H683.9zM753.6 248.6H757.7V252.8H753.6zM873.5 252.4H877.3V256.6H873.5z"/>
<path fill="#2de100" d="M683.9 86.0H688.1V90.2H683.9z"/>
<path fill="#99f600" d="M691.6 86.0H695.8V90.2H691.6zM819.3 109.3H823.5V113.4H819.3zM815.5 117.0H819.6V121.2H815.5zM846.4 120.9H850.6V125.0H846.4zM869.7 136.4H873.8V140.5H869.7zM858.0 148.0H862.2V152.1H858.0zM680.0 163.4H684.2V167.6H680.0zM807.7 167.3H811.9V171.5H807.7zM753.6 175.1H757.7V179.2H753.6zM811.6 194.4H815.8V198.6H811.6zM772.9 198.3H777.1V202.4H772.9zM780.6 202.1H784.8V206.3H780.6zM714.9 213.8H719.0V217.9H714.9zM788.4 213.8H792.6V217.9H788.4zM753.6 233.1H757.7V237.3H753.6zM865.8 244.7H870.0V248.9H865.8z"/>
<path fill="#8ef400" d="M695.5 86.0H699.7V90.2H695.5zM714.9 86.0H719.0V90.2H714.9zM687.8 101.5H691.9V105.7H687.8zM869.7 117.0H873.8V121.2H869.7zM741.9 124.7H746.1V128.9H741.9zM873.5 132.5H877.3V136.7H873.5zM869.7 148.0H873.8V152.1H869.7zM776.8 159.6H780.9V163.7H776.8zM823.2 159.6H827.4V163.7H823.2zM703.2 163.4H707.4V167.6H703.2zM680.0 171.2H680.3V175.4H680.0zM687.8 178.9H691.9V183.1H687.8zM753.6 182.8H757.7V187.0H753.6zM741.9 186.7H746.1V190.8H741.9zM753.6 186.7H757.7V190.8H753.6zM873.5 190.5H877.3V194.7H873.5zM757.4 194.4H761.6V198.6H757.4zM861.9 209.9H866.1V214.1H861.9zM846.4 221.5H850.6V225.7H846.4zM842.6 225.4H846.7V229.5H842.6zM792.3 229.2H796.4V233.4H792.3zM738.1 233.1H742.2V237.3H738.1zM873.5 244.7H877.3V248.9H873.5zM823.2 252.4H827.4V256.6H823.2z"/>
<path fill="#30e100" d="M699.4 86.0H703.5V90.2H699.4zM707.1 89.9H711.3V94.1H707.1zM691.6 167.3H695.8V171.5H691.6zM711.0 171.2H715.2V175.4H711.0zM718.7 178.9H722.9V183.1H718.7zM757.4 206.0H761.6V210.2H757.4zM757.4 209.9H761.6V214.1H757.4zM699.4 229.2H703.5V233.4H699.4zM834.8 233.1H839.0V237.3H834.8zM858.0 264.1H862.2V267.3H858.0z"/>
<path fill="#89f300" d="M711.0 86.0H715.2V90.2H711.0zM772.9 86.0H777.1V90.2H772.9zM687.8 105.4H691.9V109.6H687.8zM691.6 120.9H695.8V125.0H691.6zM827.1 128.6H831.3V132.8H827.1zM730.3 144.1H734.5V148.3H730.3zM800.0 151.8H804.2V156.0H800.0zM780.6 163.4H784.8V167.6H780.6zM869.7 217.6H873.8V221.8H869.7zM699.4 221.5H703.5V225.7H699.4zM749.7 252.4H753.9V256.6H749.7z"/>
<path fill="#a3f800" d="M722.6 86.0H726.8V90.2H722.6zM831.0 105.4H835.1V109.6H831.0zM745.8 113.1H750.0V117.3H745.8zM734.2 148.0H738.4V152.1H734.2zM772.9 151.8H777.1V156.0H772.9zM753.6 159.6H757.7V163.7H753.6zM854.2 163.4H858.3V167.6H854.2zM772.9 171.2H777.1V175.4H772.9zM823.2 209.9H827.4V214.1H823.2z"/>
<path fill="#53e900" d="M761.3 86.0H765.5V90.2H761.3z"/>
<path fill="#6bed00" d="M765.2 86.0H769.3V90.2H765.2zM803.9 120.9H808.0V125.0H803.9zM792.3 128.6H796.4V132.8H792.3zM722.6 159.6H726.8V163.7H722.6zM703.2 175.1H707.4V179.2H703.2zM869.7 178.9H873.8V183.1H869.7zM780.6 182.8H784.8V187.0H780.6zM869.7 209.9H873.8V214.1H869.7zM741.9 217.6H746.1V221.8H741.9zM726.5 221.5H730.6V225.7H726.5z"/>
<path fill="#6dee00" d="M807.7 86.0H811.9V90.2H807.7zM757.4 93.8H761.6V98.0H757.4zM680.0 159.6H684.2V163.7H680.0zM803.9 159.6H808.0V163.7H803.9zM680.0 167.3H680.3V171.5H680.0zM683.9 175.1H688.1V179.2H683.9zM807.7 209.9H811.9V214.1H807.7zM741.9 213.8H746.1V217.9H741.9zM738.1 221.5H742.2V225.7H738.1zM745.8 225.4H750.0V229.5H745.8zM803.9 256.3H808.0V260.5H803.9zM831.0 260.2H835.1V264.4H831.0z"/>
<path fill="#29e000" d="M815.5 86.0H819.6V90.2H815.5zM730.3 89.9H734.5V94.1H730.3zM703.2 159.6H707.4V163.7H703.2zM680.0 190.5H684.2V194.7H680.0zM811.6 229.2H815.8V233.4H811.6zM718.7 233.1H722.9V237.3H718.7zM850.3 248.6H854.5V252.8H850.3zM823.2 260.2H827.4V264.4H823.2z"/>
<path fill="#c4f900" d="M680.0 89.9H680.3V94.1H680.0zM730.3 113.1H734.5V117.3H730.3zM827.1 113.1H831.3V117.3H827.1zM695.5 124.7H699.7V128.9H695.5zM722.6 124.7H726.8V128.9H722.6zM834.8 128.6H839.0V132.8H834.8zM730.3 132.5H734.5V136.7H730.3zM788.4 151.8H792.6V156.0H788.4zM823.2 151.8H827.4V156.0H823.2zM834.8 171.2H839.0V175.4H834.8zM819.3 182.8H823.5V187.0H819.3zM846.4 182.8H850.6V187.0H846.4zM819.3 190.5H823.5V194.7H819.3zM846.4 206.0H850.6V210.2H846.4zM776.8 209.9H780.9V214.1H776.8zM780.6 233.1H784.8V237.3H780.6z"/>
<path fill="#a1f700" d="M680.0 89.9H684.2V94.1H680.0zM846.4 97.7H850.6V101.8H846.4zM861.9 101.5H866.1V105.7H861.9zM846.4 140.2H850.6V144.4H846.4zM838.7 159.6H842.9V163.7H838.7zM834.8 163.4H839.0V167.6H834.8zM850.3 202.1H854.5V206.3H850.3zM858.0 213.8H862.2V217.9H858.0zM765.2 225.4H769.3V229.5H765.2z"/>
<path fill="#d3f800" d="M687.8 89.9H691.9V94.1H687.8zM854.2 97.7H858.3V101.8H854.2zM800.0 101.5H804.2V105.7H800.0zM834.8 109.3H839.0V113.4H834.8zM850.3 128.6H854.5V132.8H850.3zM842.6 144.1H846.7V148.3H842.6zM734.2 182.8H738.4V187.0H734.2zM784.5 229.2H788.7V233.4H784.5z"/>
<path fill="#62ec00" d="M695.5 89.9H699.7V94.1H695.5zM741.9 120.9H746.1V125.0H741.9zM757.4 124.7H761.6V128.9H757.4zM865.8 132.5H870.0V136.7H865.8zM714.9 202.1H719.0V206.3H714.9zM850.3 244.7H854.5V248.9H850.3zM749.7 264.1H753.9V267.3H749.7z"/>
<path fill="#39e300" d="M699.4 89.9H703.5V94.1H699.4zM680.0 182.8H680.3V187.0H680.0zM711.0 182.8H715.2V187.0H711.0zM730.3 186.7H734.5V190.8H730.3zM707.1 202.1H711.3V206.3H707.1zM718.7 213.8H722.9V217.9H718.7z"/>
<path fill="#57e900" d="M711.0 89.9H715.2V94.1H711.0zM741.9 109.3H746.1V113.4H741.9zM803.9 117.0H808.0V121.2H803.9zM788.4 155.7H792.6V159.9H788.4zM711.0 202.1H715.2V206.3H711.0zM730.3 221.5H734.5V225.7H730.3zM850.3 221.5H854.5V225.7H850.3zM842.6 244.7H846.7V248.9H842.6zM811.6 252.4H815.8V256.6H811.6z"/>
<path fill="#46e600" d="M714.9 89.9H719.0V94.1H714.9zM726.5 93.8H730.6V98.0H726.5zM811.6 93.8H815.8V98.0H811.6zM726.5 97.7H730.6V101.8H726.5zM769.0 140.2H773.2V144.4H769.0zM738.1 151.8H742.2V156.0H738.1zM811.6 155.7H815.8V159.9H811.6zM695.5 225.4H699.7V229.5H695.5zM800.0 229.2H804.2V233.4H800.0zM850.3 256.3H854.5V260.5H850.3z"/>
<path fill="#adfa00" d="M718.7 89.9H722.9V94.1H718.7zM749.7 190.5H753.9V194.7H749.7zM741.9 256.3H746.1V260.5H741.9z"/>
<path fill="#def700" d="M722.6 89.9H726.8V94.1H722.6zM687.8 97.7H691.9V101.8H687.8zM753.6 97.7H757.7V101.8H753.6zM730.3 120.9H734.5V125.0H730.3zM695.5 132.5H699.7V136.7H695.5zM680.0 167.3H684.2V171.5H680.0zM784.5 209.9H788.7V214.1H784.5z"/>
<path fill="#96f500" d="M726.5 89.9H730.6V94.1H726.5zM842.6 105.4H846.7V109.6H842.6zM865.8 109.3H870.0V113.4H865.8zM834.8 117.0H839.0V121.2H834.8zM780.6 136.4H784.8V140.5H780.6zM807.7 151.8H811.9V156.0H807.7zM807.7 163.4H811.9V167.6H807.7zM850.3 167.3H854.5V171.5H850.3zM869.7 186.7H873.8V190.8H869.7zM687.8 213.8H691.9V217.9H687.8zM784.5 213.8H788.7V217.9H784.5zM819.3 260.2H823.5V264.4H819.3z"/>
<path fill="#9ef700" d="M741.9 89.9H746.1V94.1H741.9zM745.8 105.4H750.0V109.6H745.8zM691.6 117.0H695.8V121.2H691.6zM680.0 120.9H680.3V125.0H680.0zM800.0 120.9H804.2V125.0H800.0zM788.4 148.0H792.6V152.1H788.4zM714.9 155.7H719.0V159.9H714.9zM811.6 182.8H815.8V187.0H811.6zM865.8 186.7H870.0V190.8H865.8zM827.1 194.4H831.3V198.6H827.1zM780.6 198.3H784.8V202.4H780.6zM865.8 206.0H870.0V210.2H865.8zM819.3 209.9H823.5V214.1H819.3z"/>
<path fill="#78f000" d="M753.6 89.9H757.7V94.1H753.6zM707.1 97.7H711.3V101.8H707.1zM761.3 144.1H765.5V148.3H761.3zM718.7 155.7H722.9V159.9H718.7zM769.0 155.7H773.2V159.9H769.0zM803.9 155.7H808.0V159.9H803.9zM803.9 163.4H808.0V167.6H803.9zM776.8 175.1H780.9V179.2H776.8zM869.7 202.1H873.8V206.3H869.7zM769.0 209.9H773.2V214.1H769.0zM757.4 237.0H761.6V241.1H757.4zM761.3 237.0H765.5V241.1H761.3zM776.8 237.0H780.9V241.1H776.8z"/>
<path fill="#67ec00" d="M761.3 89.9H765.5V94.1H761.3zM815.5 89.9H819.6V94.1H815.5zM757.4 260.2H761.6V264.4H757.4z"/>
<path fill="#daf700" d="M769.0 89.9H773.2V94.1H769.0zM784.5 93.8H788.7V98.0H784.5zM726.5 144.1H730.6V148.3H726.5zM741.9 148.0H746.1V152.1H741.9zM846.4 151.8H850.6V156.0H846.4zM788.4 171.2H792.6V175.4H788.4zM858.0 194.4H862.2V198.6H858.0zM776.8 202.1H780.9V206.3H776.8z"/>
<path fill="#b4fa00" d="M772.9 89.9H777.1V94.1H772.9zM796.1 93.8H800.3V98.0H796.1zM780.6 120.9H784.8V125.0H780.6zM850.3 124.7H854.5V128.9H850.3zM846.4 132.5H850.6V136.7H846.4zM780.6 144.1H784.8V148.3H780.6zM703.2 151.8H707.4V156.0H703.2zM792.3 155.7H796.4V159.9H792.3zM838.7 171.2H842.9V175.4H838.7zM734.2 178.9H738.4V183.1H734.2zM807.7 186.7H811.9V190.8H807.7zM823.2 198.3H827.4V202.4H823.2zM858.0 198.3H862.2V202.4H858.0zM861.9 202.1H866.1V206.3H861.9zM784.5 240.8H788.7V245.0H784.5zM776.8 248.6H780.9V252.8H776.8z"/>
<path fill="#7cf100" d="M776.8 89.9H780.9V94.1H776.8zM772.9 221.5H777.1V225.7H772.9z"/>
<path fill="#58ea00" d="M780.6 89.9H784.8V94.1H780.6zM772.9 136.4H777.1V140.5H772.9zM796.1 151.8H800.3V156.0H796.1zM811.6 233.1H815.8V237.3H811.6z"/>
<path fill="#00c926" d="M784.5 89.9H788.7V94.1H784.5zM807.7 217.6H811.9V221.8H807.7z"/>
<path fill="#7cf000" d="M792.3 89.9H796.4V94.1H792.3zM738.1 124.7H742.2V128.9H738.1zM745.8 124.7H750.0V128.9H745.8zM776.8 151.8H780.9V156.0H776.8zM749.7 206.0H753.9V210.2H749.7zM772.9 206.0H777.1V210.2H772.9zM792.3 233.1H796.4V237.3H792.3zM769.0 240.8H773.2V245.0H769.0z"/>
<path fill="#77ef00" d="M819.3 89.9H823.5V94.1H819.3zM850.3 105.4H854.5V109.6H850.3zM854.2 140.2H858.3V144.4H854.2zM703.2 167.3H707.4V171.5H703.2zM695.5 217.6H699.7V221.8H695.5zM718.7 217.6H722.9V221.8H718.7zM858.0 248.6H862.2V252.8H858.0z"/>
<path fill="#00c47c" d="M831.0 89.9H835.1V94.1H831.0z"/>
<path fill="#00c533" d="M834.8 89.9H839.0V94.1H834.8zM722.6 167.3H726.8V171.5H722.6zM792.3 237.0H796.4V241.1H792.3z"/>
<path fill="#00c13d" d="M838.7 89.9H842.9V94.1H838.7zM726.5 240.8H730.6V245.0H726.5z"/>
<path fill="#6fee00" d="M854.2 89.9H858.3V94.1H854.2zM811.6 97.7H815.8V101.8H811.6zM769.0 151.8H773.2V156.0H769.0zM792.3 163.4H796.4V167.6H792.3zM738.1 190.5H742.2V194.7H738.1zM738.1 206.0H742.2V210.2H738.1zM680.0 209.9H680.3V214.1H680.0zM680.0 217.6H680.3V221.8H680.0zM800.0 225.4H804.2V229.5H800.0zM800.0 240.8H804.2V245.0H800.0z"/>
<path fill="#8bf300" d="M858.0 89.9H862.2V94.1H858.0zM838.7 120.9H842.9V125.0H838.7zM811.6 144.1H815.8V148.3H811.6zM703.2 155.7H707.4V159.9H703.2zM854.2 159.6H858.3V163.7H854.2zM695.5 171.2H699.7V175.4H695.5zM800.0 182.8H804.2V187.0H800.0zM827.1 182.8H831.3V187.0H827.1zM757.4 190.5H761.6V194.7H757.4zM784.5 194.4H788.7V198.6H784.5zM815.5 194.4H819.6V198.6H815.5zM699.4 217.6H703.5V221.8H699.4zM749.7 217.6H753.9V221.8H749.7zM796.1 217.6H800.3V221.8H796.1zM838.7 225.4H842.9V229.5H838.7zM776.8 240.8H780.9V245.0H776.8z"/>
<path fill="#9df700" d="M861.9 89.9H866.1V94.1H861.9zM741.9 113.1H746.1V117.3H741.9zM796.1 167.3H800.3V171.5H796.1zM699.4 171.2H703.5V175.4H699.4zM769.0 206.0H773.2V210.2H769.0zM792.3 213.8H796.4V217.9H792.3zM780.6 237.0H784.8V241.1H780.6z"/>
<path fill="#8df400" d="M869.7 89.9H873.8V94.1H869.7zM749.7 93.8H753.9V98.0H749.7zM792.3 151.8H796.4V156.0H792.3zM772.9 155.7H777.1V159.9H772.9zM869.7 167.3H873.8V171.5H869.7zM741.9 178.9H746.1V183.1H741.9zM842.6 186.7H846.7V190.8H842.6zM846.4 240.8H850.6V245.0H846.4z"/>
<path fill="#d5f800" d="M680.0 93.8H680.3V98.0H680.0zM699.4 136.4H703.5V140.5H699.4zM827.1 140.2H831.3V144.4H827.1zM788.4 144.1H792.6V148.3H788.4z"/>
<path fill="#f2f100" d="M680.0 93.8H684.2V98.0H680.0zM680.0 101.5H684.2V105.7H680.0zM718.7 132.5H722.9V136.7H718.7zM753.6 171.2H757.7V175.4H753.6zM823.2 175.1H827.4V179.2H823.2z"/>
<path fill="#e1f700" d="M683.9 93.8H688.1V98.0H683.9zM714.9 105.4H719.0V109.6H714.9zM734.2 117.0H738.4V121.2H734.2z"/>
<path fill="#a8f900" d="M691.6 93.8H695.8V98.0H691.6zM838.7 105.4H842.9V109.6H838.7zM850.3 117.0H854.5V121.2H850.3zM738.1 148.0H742.2V152.1H738.1zM858.0 163.4H862.2V167.6H858.0zM722.6 175.1H726.8V179.2H722.6zM741.9 198.3H746.1V202.4H741.9zM784.5 244.7H788.7V248.9H784.5z"/>
<path fill="#83f200" d="M699.4 93.8H703.5V98.0H699.4zM861.9 97.7H866.1V101.8H861.9zM815.5 120.9H819.6V125.0H815.5zM761.3 124.7H765.5V128.9H761.3zM749.7 128.6H753.9V132.8H749.7zM815.5 128.6H819.6V132.8H815.5zM683.9 136.4H688.1V140.5H683.9zM842.6 163.4H846.7V167.6H842.6zM846.4 163.4H850.6V167.6H846.4zM707.1 167.3H711.3V171.5H707.1zM761.3 209.9H765.5V214.1H761.3zM749.7 225.4H753.9V229.5H749.7zM776.8 229.2H780.9V233.4H776.8zM776.8 260.2H780.9V264.4H776.8z"/>
<path fill="#70ee00" d="M707.1 93.8H711.3V98.0H707.1zM691.6 97.7H695.8V101.8H691.6zM757.4 144.1H761.6V148.3H757.4zM842.6 151.8H846.7V156.0H842.6zM699.4 198.3H703.5V202.4H699.4zM703.2 209.9H707.4V214.1H703.2zM761.3 217.6H765.5V221.8H761.3zM711.0 225.4H715.2V229.5H711.0zM858.0 233.1H862.2V237.3H858.0zM784.5 248.6H788.7V252.8H784.5z"/>
<path fill="#5deb00" d="M711.0 93.8H715.2V98.0H711.0zM800.0 124.7H804.2V128.9H800.0zM811.6 140.2H815.8V144.4H811.6zM745.8 148.0H750.0V152.1H745.8zM800.0 194.4H804.2V198.6H800.0zM819.3 237.0H823.5V241.1H819.3z"/>
<path fill="#82f200" d="M714.9 93.8H719.0V98.0H714.9zM807.7 113.1H811.9V117.3H807.7zM780.6 171.2H784.8V175.4H780.6zM784.5 178.9H788.7V183.1H784.5zM745.8 194.4H750.0V198.6H745.8zM776.8 206.0H780.9V210.2H776.8zM788.4 206.0H792.6V210.2H788.4zM819.3 206.0H823.5V210.2H819.3zM734.2 221.5H738.4V225.7H734.2zM873.5 264.1H877.3V267.3H873.5z"/>
<path fill="#bff900" d="M718.7 93.8H722.9V98.0H718.7zM869.7 109.3H873.8V113.4H869.7zM819.3 113.1H823.5V117.3H819.3zM831.0 120.9H835.1V125.0H831.0zM680.0 140.2H684.2V144.4H680.0zM691.6 148.0H695.8V152.1H691.6zM827.1 155.7H831.3V159.9H827.1zM699.4 163.4H703.5V167.6H699.4zM827.1 178.9H831.3V183.1H827.1zM831.0 178.9H835.1V183.1H831.0zM772.9 190.5H777.1V194.7H772.9zM753.6 206.0H757.7V210.2H753.6zM850.3 206.0H854.5V210.2H850.3zM769.0 217.6H773.2V221.8H769.0z"/>
<path fill="#b9f900" d="M722.6 93.8H726.8V98.0H722.6zM749.7 101.5H753.9V105.7H749.7zM838.7 124.7H842.9V128.9H838.7zM838.7 144.1H842.9V148.3H838.7zM726.5 148.0H730.6V152.1H726.5zM827.1 175.1H831.3V179.2H827.1zM680.0 178.9H684.2V183.1H680.0zM861.9 178.9H866.1V183.1H861.9zM691.6 182.8H695.8V187.0H691.6zM757.4 202.1H761.6V206.3H757.4zM873.5 213.8H877.3V217.9H873.5zM823.2 229.2H827.4V233.4H823.2z"/>
<path fill="#c2f900" d="M730.3 93.8H734.5V98.0H730.3zM831.0 101.5H835.1V105.7H831.0zM873.5 105.4H877.3V109.6H873.5zM730.3 117.0H734.5V121.2H730.3zM741.9 117.0H746.1V121.2H741.9zM858.0 120.9H862.2V125.0H858.0zM714.9 124.7H719.0V128.9H714.9zM834.8 124.7H839.0V128.9H834.8zM691.6 144.1H695.8V148.3H691.6zM707.1 144.1H711.3V148.3H707.1zM707.1 148.0H711.3V152.1H707.1zM730.3 148.0H734.5V152.1H730.3zM865.8 155.7H870.0V159.9H865.8zM792.3 159.6H796.4V163.7H792.3zM831.0 167.3H835.1V171.5H831.0zM854.2 190.5H858.3V194.7H854.2zM842.6 202.1H846.7V206.3H842.6zM823.2 221.5H827.4V225.7H823.2z"/>
<path fill="#4ae700" d="M741.9 93.8H746.1V98.0H741.9zM726.5 105.4H730.6V109.6H726.5zM803.9 213.8H808.0V217.9H803.9zM854.2 213.8H858.3V217.9H854.2zM869.7 237.0H873.8V241.1H869.7zM765.2 244.7H769.3V248.9H765.2zM838.7 244.7H842.9V248.9H838.7zM749.7 256.3H753.9V260.5H749.7z"/>
<path fill="#cdf800" d="M761.3 93.8H765.5V98.0H761.3zM749.7 97.7H753.9V101.8H749.7zM718.7 140.2H722.9V144.4H718.7zM865.8 171.2H870.0V175.4H865.8zM869.7 182.8H873.8V187.0H869.7zM749.7 198.3H753.9V202.4H749.7zM827.1 225.4H831.3V229.5H827.1z"/>
<path fill="#cff800" d="M765.2 93.8H769.3V98.0H765.2zM800.0 97.7H804.2V101.8H800.0zM714.9 101.5H719.0V105.7H714.9zM722.6 113.1H726.8V117.3H722.6zM707.1 140.2H711.3V144.4H707.1zM730.3 155.7H734.5V159.9H730.3zM765.2 175.1H769.3V179.2H765.2zM858.0 175.1H862.2V179.2H858.0zM745.8 178.9H750.0V183.1H745.8zM769.0 198.3H773.2V202.4H769.0zM823.2 206.0H827.4V210.2H823.2zM865.8 213.8H870.0V217.9H865.8z"/>
<path fill="#d8f700" d="M769.0 93.8H773.2V98.0H769.0zM699.4 120.9H703.5V125.0H699.4zM854.2 120.9H858.3V125.0H854.2zM738.1 128.6H742.2V132.8H738.1zM850.3 132.5H854.5V136.7H850.3zM788.4 175.1H792.6V179.2H788.4zM796.1 175.1H800.3V179.2H796.1zM869.7 190.5H873.8V194.7H869.7z"/>
<path fill="#e5f700" d="M772.9 93.8H777.1V98.0H772.9zM792.3 109.3H796.4V113.4H792.3zM761.3 117.0H765.5V121.2H761.3zM850.3 144.1H854.5V148.3H850.3zM838.7 163.4H842.9V167.6H838.7zM854.2 217.6H858.3V221.8H854.2z"/>
<path fill="#e7f700" d="M776.8 93.8H780.9V98.0H776.8zM827.1 120.9H831.3V125.0H827.1z"/>
<path fill="#c9f800" d="M792.3 93.8H796.4V98.0H792.3zM784.5 97.7H788.7V101.8H784.5zM726.5 101.5H730.6V105.7H726.5zM726.5 109.3H730.6V113.4H726.5zM718.7 113.1H722.9V117.3H718.7zM703.2 117.0H707.4V121.2H703.2zM769.0 120.9H773.2V125.0H769.0zM827.1 144.1H831.3V148.3H827.1zM811.6 151.8H815.8V156.0H811.6zM827.1 159.6H831.3V163.7H827.1zM846.4 159.6H850.6V163.7H846.4zM873.5 167.3H877.3V171.5H873.5zM792.3 171.2H796.4V175.4H792.3zM761.3 186.7H765.5V190.8H761.3zM753.6 194.4H757.7V198.6H753.6zM780.6 194.4H784.8V198.6H780.6zM827.1 198.3H831.3V202.4H827.1zM784.5 202.1H788.7V206.3H784.5z"/>
<path fill="#5eeb00" d="M803.9 93.8H808.0V98.0H803.9zM807.7 105.4H811.9V109.6H807.7zM761.3 132.5H765.5V136.7H761.3zM769.0 132.5H773.2V136.7H769.0zM800.0 140.2H804.2V144.4H800.0zM796.1 144.1H800.3V148.3H796.1zM734.2 155.7H738.4V159.9H734.2zM792.3 202.1H796.4V206.3H792.3zM722.6 217.6H726.8V221.8H722.6z"/>
<path fill="#84f200" d="M815.5 93.8H819.6V98.0H815.5zM738.1 105.4H742.2V109.6H738.1zM811.6 113.1H815.8V117.3H811.6zM761.3 155.7H765.5V159.9H761.3zM811.6 159.6H815.8V163.7H811.6zM699.4 167.3H703.5V171.5H699.4zM780.6 186.7H784.8V190.8H780.6zM861.9 190.5H866.1V194.7H861.9zM738.1 198.3H742.2V202.4H738.1zM765.2 213.8H769.3V217.9H765.2z"/>
<path fill="#8af300" d="M819.3 93.8H823.5V98.0H819.3zM738.1 97.7H742.2V101.8H738.1zM819.3 101.5H823.5V105.7H819.3zM730.3 105.4H734.5V109.6H730.3zM687.8 117.0H691.9V121.2H687.8zM680.0 148.0H684.2V152.1H680.0zM850.3 148.0H854.5V152.1H850.3zM776.8 171.2H780.9V175.4H776.8zM691.6 178.9H695.8V183.1H691.6zM803.9 182.8H808.0V187.0H803.9zM757.4 186.7H761.6V190.8H757.4zM846.4 194.4H850.6V198.6H846.4zM765.2 202.1H769.3V206.3H765.2zM749.7 221.5H753.9V225.7H749.7zM772.9 237.0H777.1V241.1H772.9z"/>
<path fill="#51e800" d="M838.7 93.8H842.9V98.0H838.7zM699.4 105.4H703.5V109.6H699.4zM765.2 148.0H769.3V152.1H765.2zM792.3 148.0H796.4V152.1H792.3zM726.5 171.2H730.6V175.4H726.5zM823.2 178.9H827.4V183.1H823.2zM699.4 206.0H703.5V210.2H699.4zM691.6 209.9H695.8V214.1H691.6zM776.8 213.8H780.9V217.9H776.8zM691.6 225.4H695.8V229.5H691.6zM761.3 256.3H765.5V260.5H761.3z"/>
<path fill="#a0f700" d="M842.6 93.8H846.7V98.0H842.6zM873.5 120.9H877.3V125.0H873.5zM861.9 124.7H866.1V128.9H861.9zM842.6 132.5H846.7V136.7H842.6zM784.5 136.4H788.7V140.5H784.5zM873.5 140.2H877.3V144.4H873.5zM873.5 151.8H877.3V156.0H873.5zM788.4 163.4H792.6V167.6H788.4zM749.7 171.2H753.9V175.4H749.7zM807.7 178.9H811.9V183.1H807.7zM815.5 186.7H819.6V190.8H815.5zM823.2 190.5H827.4V194.7H823.2z"/>
<path fill="#97f500" d="M850.3 93.8H854.5V98.0H850.3zM850.3 101.5H854.5V105.7H850.3zM707.1 124.7H711.3V128.9H707.1zM827.1 124.7H831.3V128.9H827.1zM861.9 132.5H866.1V136.7H861.9zM718.7 159.6H722.9V163.7H718.7zM726.5 159.6H730.6V163.7H726.5zM850.3 159.6H854.5V163.7H850.3zM687.8 167.3H691.9V171.5H687.8zM683.9 171.2H688.1V175.4H683.9zM796.1 182.8H800.3V187.0H796.1zM823.2 182.8H827.4V187.0H823.2zM869.7 194.4H873.8V198.6H869.7zM726.5 213.8H730.6V217.9H726.5zM827.1 217.6H831.3V221.8H827.1zM865.8 221.5H870.0V225.7H865.8zM873.5 237.0H877.3V241.1H873.5z"/>
<path fill="#7bf000" d="M858.0 93.8H862.2V98.0H858.0zM807.7 97.7H811.9V101.8H807.7zM869.7 128.6H873.8V132.8H869.7zM865.8 140.2H870.0V144.4H865.8zM873.5 144.1H877.3V148.3H873.5zM796.1 155.7H800.3V159.9H796.1zM749.7 178.9H753.9V183.1H749.7zM753.6 178.9H757.7V183.1H753.6zM780.6 178.9H784.8V183.1H780.6zM734.2 198.3H738.4V202.4H734.2zM861.9 198.3H866.1V202.4H861.9zM772.9 233.1H777.1V237.3H772.9zM788.4 244.7H792.6V248.9H788.4zM780.6 248.6H784.8V252.8H780.6z"/>
<path fill="#a4f800" d="M861.9 93.8H866.1V98.0H861.9zM827.1 101.5H831.3V105.7H827.1zM858.0 105.4H862.2V109.6H858.0zM683.9 109.3H688.1V113.4H683.9zM738.1 117.0H742.2V121.2H738.1zM738.1 136.4H742.2V140.5H738.1zM792.3 136.4H796.4V140.5H792.3zM823.2 163.4H827.4V167.6H823.2zM695.5 175.1H699.7V179.2H695.5zM772.9 175.1H777.1V179.2H772.9zM745.8 182.8H750.0V187.0H745.8zM838.7 198.3H842.9V202.4H838.7zM769.0 213.8H773.2V217.9H769.0zM819.3 229.2H823.5V233.4H819.3z"/>
<path fill="#f0f500" d="M680.0 97.7H680.3V101.8H680.0zM683.9 101.5H688.1V105.7H683.9zM703.2 136.4H707.4V140.5H703.2zM707.1 136.4H711.3V140.5H707.1zM842.6 159.6H846.7V163.7H842.6zM842.6 171.2H846.7V175.4H842.6zM811.6 175.1H815.8V179.2H811.6zM745.8 221.5H750.0V225.7H745.8z"/>
<path fill="#e8f600" d="M680.0 97.7H684.2V101.8H680.0zM765.2 120.9H769.3V125.0H765.2z"/>
<path fill="#f2f000" d="M683.9 97.7H688.1V101.8H683.9zM846.4 128.6H850.6V132.8H846.4zM765.2 182.8H769.3V187.0H765.2z"/>
<path fill="#72ee00" d="M695.5 97.7H699.7V101.8H695.5z"/>
<path fill="#91f400" d="M714.9 97.7H719.0V101.8H714.9zM846.4 105.4H850.6V109.6H846.4zM842.6 117.0H846.7V121.2H842.6zM776.8 128.6H780.9V132.8H776.8zM769.0 136.4H773.2V140.5H769.0zM823.2 144.1H827.4V148.3H823.2zM714.9 148.0H719.0V152.1H714.9zM784.5 151.8H788.7V156.0H784.5zM854.2 171.2H858.3V175.4H854.2zM854.2 182.8H858.3V187.0H854.2zM846.4 190.5H850.6V194.7H846.4zM765.2 198.3H769.3V202.4H765.2zM749.7 213.8H753.9V217.9H749.7zM780.6 221.5H784.8V225.7H780.6zM680.0 229.2H680.3V233.4H680.0zM811.6 248.6H815.8V252.8H811.6z"/>
<path fill="#d7f800" d="M718.7 97.7H722.9V101.8H718.7zM718.7 109.3H722.9V113.4H718.7zM850.3 109.3H854.5V113.4H850.3zM858.0 113.1H862.2V117.3H858.0zM707.1 120.9H711.3V125.0H707.1zM687.8 124.7H691.9V128.9H687.8zM699.4 128.6H703.5V132.8H699.4zM699.4 132.5H703.5V136.7H699.4zM842.6 148.0H846.7V152.1H842.6zM861.9 159.6H866.1V163.7H861.9zM792.3 221.5H796.4V225.7H792.3zM753.6 244.7H757.7V248.9H753.6z"/>
<path fill="#b1fa00" d="M722.6 97.7H726.8V101.8H722.6zM803.9 101.5H808.0V105.7H803.9zM858.0 132.5H862.2V136.7H858.0zM831.0 151.8H835.1V156.0H831.0zM695.5 163.4H699.7V167.6H695.5zM784.5 198.3H788.7V202.4H784.5zM811.6 198.3H815.8V202.4H811.6zM788.4 209.9H792.6V214.1H788.4z"/>
<path fill="#93f500" d="M741.9 97.7H746.1V101.8H741.9zM838.7 136.4H842.9V140.5H838.7zM780.6 148.0H784.8V152.1H780.6zM796.1 148.0H800.3V152.1H796.1zM780.6 151.8H784.8V156.0H780.6zM761.3 198.3H765.5V202.4H761.3zM772.9 209.9H777.1V214.1H772.9zM757.4 217.6H761.6V221.8H757.4zM741.9 229.2H746.1V233.4H741.9zM722.6 233.1H726.8V237.3H722.6zM861.9 233.1H866.1V237.3H861.9zM842.6 248.6H846.7V252.8H842.6zM792.3 256.3H796.4V260.5H792.3z"/>
<path fill="#90f400" d="M745.8 97.7H750.0V101.8H745.8zM769.0 117.0H773.2V121.2H769.0zM776.8 117.0H780.9V121.2H776.8zM780.6 124.7H784.8V128.9H780.6zM831.0 136.4H835.1V140.5H831.0zM687.8 159.6H691.9V163.7H687.8zM769.0 159.6H773.2V163.7H769.0zM861.9 163.4H866.1V167.6H861.9zM846.4 186.7H850.6V190.8H846.4zM865.8 256.3H870.0V260.5H865.8z"/>
<path fill="#dcf700" d="M757.4 97.7H761.6V101.8H757.4zM858.0 124.7H862.2V128.9H858.0zM858.0 151.8H862.2V156.0H858.0zM784.5 159.6H788.7V163.7H784.5zM831.0 159.6H835.1V163.7H831.0zM772.9 178.9H777.1V183.1H772.9zM850.3 182.8H854.5V187.0H850.3zM753.6 198.3H757.7V202.4H753.6zM819.3 221.5H823.5V225.7H819.3zM784.5 225.4H788.7V229.5H784.5z"/>
<path fill="#fdd200" d="M761.3 97.7H765.5V101.8H761.3z"/>
<path fill="#f5e800" d="M765.2 97.7H769.3V101.8H765.2zM761.3 113.1H765.5V117.3H761.3zM695.5 144.1H699.7V148.3H695.5zM769.0 194.4H773.2V198.6H769.0z"/>
<path fill="#ffc400" d="M769.0 97.7H773.2V101.8H769.0z"/>
<path fill="#e8f700" d="M772.9 97.7H777.1V101.8H772.9zM734.2 124.7H738.4V128.9H734.2zM691.6 140.2H695.8V144.4H691.6zM788.4 202.1H792.6V206.3H788.4z"/>
<path fill="#ffca00" d="M776.8 97.7H780.9V101.8H776.8zM792.3 97.7H796.4V101.8H792.3zM788.4 101.5H792.6V105.7H788.4z"/>
<path fill="#f3ed00" d="M780.6 97.7H784.8V101.8H780.6zM711.0 128.6H715.2V132.8H711.0zM792.3 167.3H796.4V171.5H792.3zM865.8 167.3H870.0V171.5H865.8zM838.7 202.1H842.9V206.3H838.7z"/>
<path fill="#fbd900" d="M788.4 97.7H792.6V101.8H788.4zM761.3 101.5H765.5V105.7H761.3zM726.5 136.4H730.6V140.5H726.5z"/>
<path fill="#ffbd00" d="M796.1 97.7H800.3V101.8H796.1z"/>
<path fill="#a2f700" d="M819.3 97.7H823.5V101.8H819.3zM680.0 113.1H680.3V117.3H680.0zM680.0 117.0H684.2V121.2H680.0zM738.1 120.9H742.2V125.0H738.1zM680.0 144.1H680.3V148.3H680.0zM784.5 155.7H788.7V159.9H784.5zM680.0 178.9H680.3V183.1H680.0zM683.9 178.9H688.1V183.1H683.9zM842.6 178.9H846.7V183.1H842.6zM865.8 202.1H870.0V206.3H865.8z"/>
<path fill="#c0f900" d="M838.7 97.7H842.9V101.8H838.7zM683.9 105.4H688.1V109.6H683.9zM714.9 109.3H719.0V113.4H714.9zM831.0 113.1H835.1V117.3H831.0zM792.3 132.5H796.4V136.7H792.3zM687.8 151.8H691.9V156.0H687.8zM834.8 194.4H839.0V198.6H834.8zM865.8 217.6H870.0V221.8H865.8zM873.5 221.5H877.3V225.7H873.5zM784.5 237.0H788.7V241.1H784.5z"/>
<path fill="#c3f900" d="M850.3 97.7H854.5V101.8H850.3zM683.9 132.5H688.1V136.7H683.9zM788.4 132.5H792.6V136.7H788.4zM703.2 144.1H707.4V148.3H703.2zM776.8 144.1H780.9V148.3H776.8zM711.0 151.8H715.2V156.0H711.0zM827.1 151.8H831.3V156.0H827.1zM854.2 155.7H858.3V159.9H854.2zM800.0 163.4H804.2V167.6H800.0zM741.9 182.8H746.1V187.0H741.9z"/>
<path fill="#b8f900" d="M865.8 97.7H870.0V101.8H865.8zM722.6 101.5H726.8V105.7H722.6zM749.7 140.2H753.9V144.4H749.7zM850.3 163.4H854.5V167.6H850.3zM865.8 190.5H870.0V194.7H865.8zM722.6 194.4H726.8V198.6H722.6zM819.3 194.4H823.5V198.6H819.3z"/>
<path fill="#baf900" d="M869.7 97.7H873.8V101.8H869.7zM831.0 109.3H835.1V113.4H831.0zM707.1 113.1H711.3V117.3H707.1zM865.8 113.1H870.0V117.3H865.8zM792.3 144.1H796.4V148.3H792.3zM823.2 148.0H827.4V152.1H823.2zM683.9 151.8H688.1V156.0H683.9zM850.3 151.8H854.5V156.0H850.3zM838.7 194.4H842.9V198.6H838.7zM703.2 225.4H707.4V229.5H703.2z"/>
<path fill="#f7e200" d="M680.0 101.5H680.3V105.7H680.0zM796.1 105.4H800.3V109.6H796.1z"/>
<path fill="#42e500" d="M691.6 101.5H695.8V105.7H691.6zM761.3 136.4H765.5V140.5H761.3zM858.0 144.1H862.2V148.3H858.0zM749.7 209.9H753.9V214.1H749.7zM711.0 229.2H715.2V233.4H711.0zM846.4 237.0H850.6V241.1H846.4zM846.4 248.6H850.6V252.8H846.4zM827.1 252.4H831.3V256.6H827.1zM714.9 260.2H719.0V264.4H714.9z"/>
<path fill="#3ee400" d="M695.5 101.5H699.7V105.7H695.5zM718.7 171.2H722.9V175.4H718.7zM850.3 237.0H854.5V241.1H850.3zM823.2 240.8H827.4V245.0H823.2zM827.1 244.7H831.3V248.9H827.1zM846.4 256.3H850.6V260.5H846.4zM757.4 264.1H761.6V267.3H757.4z"/>
<path fill="#40e400" d="M703.2 101.5H707.4V105.7H703.2zM803.9 190.5H808.0V194.7H803.9zM722.6 198.3H726.8V202.4H722.6zM687.8 225.4H691.9V229.5H687.8zM811.6 260.2H815.8V264.4H811.6z"/>
<path fill="#c8f900" d="M711.0 101.5H715.2V105.7H711.0zM726.5 120.9H730.6V125.0H726.5z"/>
<path fill="#81f100" d="M734.2 101.5H738.4V105.7H734.2zM854.2 101.5H858.3V105.7H854.2zM749.7 117.0H753.9V121.2H749.7zM796.1 120.9H800.3V125.0H796.1zM738.1 155.7H742.2V159.9H738.1zM691.6 159.6H695.8V163.7H691.6zM726.5 167.3H730.6V171.5H726.5zM858.0 167.3H862.2V171.5H858.0zM714.9 175.1H719.0V179.2H714.9zM788.4 178.9H792.6V183.1H788.4zM776.8 217.6H780.9V221.8H776.8zM745.8 229.2H750.0V233.4H745.8zM745.8 233.1H750.0V237.3H745.8z"/>
<path fill="#e4f700" d="M741.9 101.5H746.1V105.7H741.9zM788.4 113.1H792.6V117.3H788.4zM726.5 128.6H730.6V132.8H726.5zM831.0 140.2H835.1V144.4H831.0zM749.7 182.8H753.9V187.0H749.7zM749.7 186.7H753.9V190.8H749.7z"/>
<path fill="#f4ec00" d="M753.6 101.5H757.7V105.7H753.6zM749.7 105.4H753.9V109.6H749.7zM722.6 109.3H726.8V113.4H722.6zM784.5 113.1H788.7V117.3H784.5zM726.5 124.7H730.6V128.9H726.5zM854.2 124.7H858.3V128.9H854.2zM765.2 167.3H769.3V171.5H765.2zM827.1 213.8H831.3V217.9H827.1z"/>
<path fill="#f1f300" d="M757.4 101.5H761.6V105.7H757.4zM722.6 136.4H726.8V140.5H722.6zM846.4 202.1H850.6V206.3H846.4zM741.9 225.4H746.1V229.5H741.9z"/>
<path fill="#d1f800" d="M765.2 101.5H769.3V105.7H765.2zM714.9 117.0H719.0V121.2H714.9zM722.6 148.0H726.8V152.1H722.6zM831.0 171.2H835.1V175.4H831.0zM803.9 178.9H808.0V183.1H803.9zM792.3 206.0H796.4V210.2H792.3zM842.6 206.0H846.7V210.2H842.6z"/>
<path fill="#e9f600" d="M769.0 101.5H773.2V105.7H769.0zM691.6 113.1H695.8V117.3H691.6zM730.3 140.2H734.5V144.4H730.3z"/>
<path fill="#f8df00" d="M772.9 101.5H777.1V105.7H772.9z"/>
<path fill="#d6f800" d="M776.8 101.5H780.9V105.7H776.8zM800.0 105.4H804.2V109.6H800.0zM699.4 117.0H703.5V121.2H699.4zM726.5 117.0H730.6V121.2H726.5zM718.7 144.1H722.9V148.3H718.7zM707.1 151.8H711.3V156.0H707.1zM699.4 155.7H703.5V159.9H699.4zM861.9 171.2H866.1V175.4H861.9zM850.3 178.9H854.5V183.1H850.3zM854.2 178.9H858.3V183.1H854.2z"/>
<path fill="#9cf600" d="M780.6 101.5H784.8V105.7H780.6zM711.0 109.3H715.2V113.4H711.0zM683.9 113.1H688.1V117.3H683.9zM749.7 113.1H753.9V117.3H749.7zM807.7 117.0H811.9V121.2H807.7zM784.5 120.9H788.7V125.0H784.5zM831.0 132.5H835.1V136.7H831.0zM819.3 148.0H823.5V152.1H819.3zM831.0 155.7H835.1V159.9H831.0zM850.3 175.1H854.5V179.2H850.3zM831.0 190.5H835.1V194.7H831.0zM854.2 194.4H858.3V198.6H854.2zM873.5 194.4H877.3V198.6H873.5zM815.5 202.1H819.6V206.3H815.5zM873.5 240.8H877.3V245.0H873.5z"/>
<path fill="#f6e400" d="M784.5 101.5H788.7V105.7H784.5z"/>
<path fill="#ffc700" d="M792.3 101.5H796.4V105.7H792.3zM734.2 136.4H738.4V140.5H734.2zM769.0 182.8H773.2V187.0H769.0z"/>
<path fill="#f3ef00" d="M796.1 101.5H800.3V105.7H796.1zM757.4 113.1H761.6V117.3H757.4zM761.3 163.4H765.5V167.6H761.3zM765.2 186.7H769.3V190.8H765.2z"/>
<path fill="#c7f900" d="M834.8 101.5H839.0V105.7H834.8zM722.6 144.1H726.8V148.3H722.6zM838.7 155.7H842.9V159.9H838.7zM761.3 182.8H765.5V187.0H761.3zM815.5 198.3H819.6V202.4H815.5zM827.1 229.2H831.3V233.4H827.1z"/>
<path fill="#8cf300" d="M842.6 101.5H846.7V105.7H842.6zM695.5 109.3H699.7V113.4H695.5zM765.2 151.8H769.3V156.0H765.2zM869.7 163.4H873.8V167.6H869.7zM800.0 167.3H804.2V171.5H800.0zM796.1 171.2H800.3V175.4H796.1zM815.5 175.1H819.6V179.2H815.5zM796.1 186.7H800.3V190.8H796.1zM741.9 202.1H746.1V206.3H741.9zM753.6 202.1H757.7V206.3H753.6zM850.3 213.8H854.5V217.9H850.3zM680.0 221.5H680.3V225.7H680.0zM831.0 264.1H835.1V267.3H831.0zM869.7 264.1H873.8V267.3H869.7z"/>
<path fill="#c5f900" d="M846.4 101.5H850.6V105.7H846.4zM811.6 120.9H815.8V125.0H811.6zM714.9 132.5H719.0V136.7H714.9zM842.6 136.4H846.7V140.5H842.6zM769.0 171.2H773.2V175.4H769.0zM873.5 175.1H877.3V179.2H873.5zM761.3 190.5H765.5V194.7H761.3zM780.6 225.4H784.8V229.5H780.6zM788.4 225.4H792.6V229.5H788.4z"/>
<path fill="#a5f800" d="M858.0 101.5H862.2V105.7H858.0zM834.8 113.1H839.0V117.3H834.8zM718.7 120.9H722.9V125.0H718.7zM819.3 124.7H823.5V128.9H819.3zM788.4 128.6H792.6V132.8H788.4zM683.9 148.0H688.1V152.1H683.9zM691.6 155.7H695.8V159.9H691.6zM834.8 167.3H839.0V171.5H834.8zM757.4 182.8H761.6V187.0H757.4zM842.6 190.5H846.7V194.7H842.6zM846.4 198.3H850.6V202.4H846.4zM861.9 206.0H866.1V210.2H861.9zM788.4 221.5H792.6V225.7H788.4z"/>
<path fill="#bdf900" d="M865.8 101.5H870.0V105.7H865.8zM711.0 124.7H715.2V128.9H711.0zM680.0 140.2H680.3V144.4H680.0zM687.8 155.7H691.9V159.9H687.8zM699.4 178.9H703.5V183.1H699.4zM776.8 194.4H780.9V198.6H776.8zM730.3 209.9H734.5V214.1H730.3z"/>
<path fill="#dbf700" d="M869.7 101.5H873.8V105.7H869.7zM803.9 109.3H808.0V113.4H803.9zM815.5 109.3H819.6V113.4H815.5zM846.4 109.3H850.6V113.4H846.4zM831.0 117.0H835.1V121.2H831.0zM703.2 128.6H707.4V132.8H703.2zM780.6 128.6H784.8V132.8H780.6zM823.2 136.4H827.4V140.5H823.2zM699.4 148.0H703.5V152.1H699.4zM861.9 194.4H866.1V198.6H861.9zM780.6 206.0H784.8V210.2H780.6zM831.0 225.4H835.1V229.5H831.0z"/>
<path fill="#b7fa00" d="M680.0 105.4H680.3V109.6H680.0zM838.7 128.6H842.9V132.8H838.7zM722.6 140.2H726.8V144.4H722.6zM834.8 148.0H839.0V152.1H834.8zM838.7 148.0H842.9V152.1H838.7zM726.5 151.8H730.6V156.0H726.5zM680.0 155.7H680.3V159.9H680.0zM815.5 155.7H819.6V159.9H815.5zM695.5 159.6H699.7V163.7H695.5zM757.4 178.9H761.6V183.1H757.4zM861.9 186.7H866.1V190.8H861.9zM850.3 194.4H854.5V198.6H850.3zM865.8 198.3H870.0V202.4H865.8z"/>
<path fill="#a7f800" d="M680.0 105.4H684.2V109.6H680.0zM687.8 120.9H691.9V125.0H687.8zM726.5 132.5H730.6V136.7H726.5zM776.8 132.5H780.9V136.7H776.8zM745.8 136.4H750.0V140.5H745.8zM796.1 140.2H800.3V144.4H796.1zM741.9 144.1H746.1V148.3H741.9zM718.7 167.3H722.9V171.5H718.7zM873.5 182.8H877.3V187.0H873.5zM792.3 217.6H796.4V221.8H792.3z"/>
<path fill="#ecf600" d="M711.0 105.4H715.2V109.6H711.0zM695.5 120.9H699.7V125.0H695.5zM680.0 128.6H684.2V132.8H680.0zM827.1 136.4H831.3V140.5H827.1zM788.4 229.2H792.6V233.4H788.4z"/>
<path fill="#d0f800" d="M722.6 105.4H726.8V109.6H722.6zM711.0 132.5H715.2V136.7H711.0zM811.6 136.4H815.8V140.5H811.6zM819.3 186.7H823.5V190.8H819.3zM769.0 190.5H773.2V194.7H769.0zM854.2 244.7H858.3V248.9H854.2z"/>
<path fill="#4be700" d="M734.2 105.4H738.4V109.6H734.2zM730.3 163.4H734.5V167.6H730.3zM707.1 194.4H711.3V198.6H707.1zM718.7 202.1H722.9V206.3H718.7zM714.9 217.6H719.0V221.8H714.9zM769.0 225.4H773.2V229.5H769.0zM815.5 233.1H819.6V237.3H815.5zM850.3 233.1H854.5V237.3H850.3zM741.9 237.0H746.1V241.1H741.9zM749.7 240.8H753.9V245.0H749.7zM792.3 244.7H796.4V248.9H792.3zM811.6 244.7H815.8V248.9H811.6zM769.0 256.3H773.2V260.5H769.0zM772.9 264.1H777.1V267.3H772.9z"/>
<path fill="#f7e300" d="M753.6 105.4H757.7V109.6H753.6zM761.3 105.4H765.5V109.6H761.3z"/>
<path fill="#f9dd00" d="M757.4 105.4H761.6V109.6H757.4zM788.4 109.3H792.6V113.4H788.4zM780.6 113.1H784.8V117.3H780.6z"/>
<path fill="#ffc100" d="M765.2 105.4H769.3V109.6H765.2z"/>
<path fill="#ffaf00" d="M769.0 105.4H773.2V109.6H769.0z"/>
<path fill="#fcd500" d="M772.9 105.4H777.1V109.6H772.9z"/>
<path fill="#ffb500" d="M776.8 105.4H780.9V109.6H776.8z"/>
<path fill="#ffa400" d="M780.6 105.4H784.8V109.6H780.6z"/>
<path fill="#f7e400" d="M784.5 105.4H788.7V109.6H784.5zM695.5 136.4H699.7V140.5H695.5zM869.7 159.6H873.8V163.7H869.7z"/>
<path fill="#f6e500" d="M788.4 105.4H792.6V109.6H788.4z"/>
<path fill="#fcd600" d="M792.3 105.4H796.4V109.6H792.3zM769.0 113.1H773.2V117.3H769.0z"/>
<path fill="#98f600" d="M803.9 105.4H808.0V109.6H803.9zM823.2 105.4H827.4V109.6H823.2zM730.3 178.9H734.5V183.1H730.3zM815.5 190.5H819.6V194.7H815.5zM850.3 190.5H854.5V194.7H850.3zM765.2 194.4H769.3V198.6H765.2z"/>
<path fill="#77f000" d="M815.5 105.4H819.6V109.6H815.5zM796.1 159.6H800.3V163.7H796.1zM827.1 171.2H831.3V175.4H827.1zM738.1 186.7H742.2V190.8H738.1zM811.6 209.9H815.8V214.1H811.6zM753.6 221.5H757.7V225.7H753.6zM761.3 252.4H765.5V256.6H761.3z"/>
<path fill="#f8e000" d="M819.3 105.4H823.5V109.6H819.3z"/>
<path fill="#affa00" d="M680.0 109.3H680.3V113.4H680.0zM858.0 109.3H862.2V113.4H858.0zM865.8 144.1H870.0V148.3H865.8zM869.7 151.8H873.8V156.0H869.7zM769.0 163.4H773.2V167.6H769.0zM784.5 163.4H788.7V167.6H784.5zM865.8 163.4H870.0V167.6H865.8zM734.2 167.3H738.4V171.5H734.2zM873.5 171.2H877.3V175.4H873.5zM687.8 182.8H691.9V187.0H687.8zM776.8 221.5H780.9V225.7H776.8z"/>
<path fill="#5dea00" d="M687.8 109.3H691.9V113.4H687.8zM765.2 217.6H769.3V221.8H765.2zM800.0 264.1H804.2V267.3H800.0z"/>
<path fill="#45e600" d="M691.6 109.3H695.8V113.4H691.6zM753.6 132.5H757.7V136.7H753.6zM803.9 136.4H808.0V140.5H803.9zM699.4 240.8H703.5V245.0H699.4z"/>
<path fill="#7af000" d="M745.8 109.3H750.0V113.4H745.8zM772.9 117.0H777.1V121.2H772.9zM749.7 132.5H753.9V136.7H749.7zM761.3 151.8H765.5V156.0H761.3zM707.1 155.7H711.3V159.9H707.1zM711.0 155.7H715.2V159.9H711.0zM680.0 175.1H684.2V179.2H680.0zM803.9 260.2H808.0V264.4H803.9z"/>
<path fill="#ccf800" d="M749.7 109.3H753.9V113.4H749.7zM827.1 109.3H831.3V113.4H827.1zM718.7 124.7H722.9V128.9H718.7zM765.2 128.6H769.3V132.8H765.2zM842.6 140.2H846.7V144.4H842.6zM815.5 163.4H819.6V167.6H815.5z"/>
<path fill="#f8e100" d="M753.6 109.3H757.7V113.4H753.6zM873.5 178.9H877.3V183.1H873.5z"/>
<path fill="#ddf700" d="M757.4 109.3H761.6V113.4H757.4zM714.9 113.1H719.0V117.3H714.9zM854.2 117.0H858.3V121.2H854.2zM687.8 144.1H691.9V148.3H687.8zM714.9 144.1H719.0V148.3H714.9zM788.4 159.6H792.6V163.7H788.4zM776.8 190.5H780.9V194.7H776.8zM757.4 198.3H761.6V202.4H757.4zM792.3 209.9H796.4V214.1H792.3z"/>
<path fill="#ffb700" d="M761.3 109.3H765.5V113.4H761.3z"/>
<path fill="#f2f200" d="M765.2 109.3H769.3V113.4H765.2zM687.8 128.6H691.9V132.8H687.8z"/>
<path fill="#fed100" d="M769.0 109.3H773.2V113.4H769.0zM691.6 132.5H695.8V136.7H691.6z"/>
<path fill="#ffbe00" d="M772.9 109.3H777.1V113.4H772.9z"/>
<path fill="#f9dc00" d="M776.8 109.3H780.9V113.4H776.8z"/>
<path fill="#fed000" d="M780.6 109.3H784.8V113.4H780.6z"/>
<path fill="#f6e600" d="M784.5 109.3H788.7V113.4H784.5zM691.6 128.6H695.8V132.8H691.6z"/>
<path fill="#eff600" d="M796.1 109.3H800.3V113.4H796.1z"/>
<path fill="#bbf900" d="M811.6 109.3H815.8V113.4H811.6zM687.8 113.1H691.9V117.3H687.8zM800.0 113.1H804.2V117.3H800.0zM823.2 113.1H827.4V117.3H823.2zM703.2 120.9H707.4V125.0H703.2zM680.0 124.7H680.3V128.9H680.0zM850.3 136.4H854.5V140.5H850.3zM699.4 144.1H703.5V148.3H699.4zM772.9 186.7H777.1V190.8H772.9zM873.5 202.1H877.3V206.3H873.5z"/>
<path fill="#fadb00" d="M838.7 109.3H842.9V113.4H838.7z"/>
<path fill="#bef900" d="M711.0 113.1H715.2V117.3H711.0zM780.6 117.0H784.8V121.2H780.6zM838.7 132.5H842.9V136.7H838.7zM680.0 155.7H684.2V159.9H680.0zM869.7 155.7H873.8V159.9H869.7zM823.2 186.7H827.4V190.8H823.2zM858.0 186.7H862.2V190.8H858.0zM776.8 198.3H780.9V202.4H776.8zM738.1 225.4H742.2V229.5H738.1z"/>
<path fill="#bcf900" d="M726.5 113.1H730.6V117.3H726.5zM707.1 117.0H711.3V121.2H707.1zM827.1 117.0H831.3V121.2H827.1zM807.7 120.9H811.9V125.0H807.7zM788.4 124.7H792.6V128.9H788.4zM854.2 128.6H858.3V132.8H854.2zM865.8 128.6H870.0V132.8H865.8zM861.9 140.2H866.1V144.4H861.9zM861.9 155.7H866.1V159.9H861.9zM827.1 163.4H831.3V167.6H827.1zM738.1 202.1H742.2V206.3H738.1zM745.8 217.6H750.0V221.8H745.8zM865.8 229.2H870.0V233.4H865.8z"/>
<path fill="#f4eb00" d="M734.2 113.1H738.4V117.3H734.2zM718.7 128.6H722.9V132.8H718.7z"/>
<path fill="#72ef00" d="M738.1 113.1H742.2V117.3H738.1zM714.9 163.4H719.0V167.6H714.9zM776.8 163.4H780.9V167.6H776.8zM683.9 182.8H688.1V187.0H683.9zM695.5 186.7H699.7V190.8H695.5zM741.9 206.0H746.1V210.2H741.9zM741.9 221.5H746.1V225.7H741.9zM815.5 229.2H819.6V233.4H815.5zM846.4 229.2H850.6V233.4H846.4zM703.2 233.1H707.4V237.3H703.2zM711.0 233.1H715.2V237.3H711.0z"/>
<path fill="#c6f900" d="M753.6 113.1H757.7V117.3H753.6zM861.9 113.1H866.1V117.3H861.9zM722.6 117.0H726.8V121.2H722.6zM680.0 132.5H684.2V136.7H680.0zM687.8 140.2H691.9V144.4H687.8zM726.5 140.2H730.6V144.4H726.5zM834.8 151.8H839.0V156.0H834.8zM765.2 178.9H769.3V183.1H765.2zM873.5 217.6H877.3V221.8H873.5zM784.5 221.5H788.7V225.7H784.5z"/>
<path fill="#edf600" d="M765.2 113.1H769.3V117.3H765.2zM842.6 155.7H846.7V159.9H842.6zM757.4 175.1H761.6V179.2H757.4zM803.9 175.1H808.0V179.2H803.9z"/>
<path fill="#ffb400" d="M772.9 113.1H777.1V117.3H772.9z"/>
<path fill="#fada00" d="M776.8 113.1H780.9V117.3H776.8z"/>
<path fill="#cbf800" d="M792.3 113.1H796.4V117.3H792.3zM765.2 117.0H769.3V121.2H765.2zM831.0 124.7H835.1V128.9H831.0zM711.0 144.1H715.2V148.3H711.0zM861.9 148.0H866.1V152.1H861.9zM846.4 167.3H850.6V171.5H846.4zM850.3 171.2H854.5V175.4H850.3zM741.9 175.1H746.1V179.2H741.9zM827.1 202.1H831.3V206.3H827.1zM769.0 244.7H773.2V248.9H769.0z"/>
<path fill="#b8fa00" d="M815.5 113.1H819.6V117.3H815.5zM858.0 117.0H862.2V121.2H858.0zM854.2 148.0H858.3V152.1H854.2zM815.5 159.6H819.6V163.7H815.5zM784.5 175.1H788.7V179.2H784.5zM769.0 202.1H773.2V206.3H769.0z"/>
<path fill="#d2f800" d="M842.6 113.1H846.7V117.3H842.6zM869.7 120.9H873.8V125.0H869.7zM722.6 132.5H726.8V136.7H722.6zM734.2 132.5H738.4V136.7H734.2zM858.0 136.4H862.2V140.5H858.0zM722.6 151.8H726.8V156.0H722.6z"/>
<path fill="#a8f800" d="M846.4 113.1H850.6V117.3H846.4zM815.5 140.2H819.6V144.4H815.5zM776.8 155.7H780.9V159.9H776.8zM842.6 167.3H846.7V171.5H842.6zM823.2 202.1H827.4V206.3H823.2zM869.7 213.8H873.8V217.9H869.7zM772.9 260.2H777.1V264.4H772.9z"/>
<path fill="#abf900" d="M854.2 113.1H858.3V117.3H854.2zM711.0 117.0H715.2V121.2H711.0zM823.2 117.0H827.4V121.2H823.2zM792.3 120.9H796.4V125.0H792.3zM699.4 140.2H703.5V144.4H699.4zM738.1 144.1H742.2V148.3H738.1zM831.0 148.0H835.1V152.1H831.0zM846.4 171.2H850.6V175.4H846.4zM734.2 175.1H738.4V179.2H734.2zM838.7 186.7H842.9V190.8H838.7zM800.0 190.5H804.2V194.7H800.0zM730.3 194.4H734.5V198.6H730.3zM850.3 198.3H854.5V202.4H850.3z"/>
<path fill="#adf900" d="M757.4 117.0H761.6V121.2H757.4zM831.0 144.1H835.1V148.3H831.0zM823.2 213.8H827.4V217.9H823.2zM831.0 229.2H835.1V233.4H831.0z"/>
<path fill="#e6f700" d="M811.6 117.0H815.8V121.2H811.6zM680.0 136.4H680.3V140.5H680.0z"/>
<path fill="#3de400" d="M838.7 117.0H842.9V121.2H838.7zM776.8 178.9H780.9V183.1H776.8zM858.0 178.9H862.2V183.1H858.0zM680.0 190.5H680.3V194.7H680.0zM811.6 206.0H815.8V210.2H811.6zM842.6 233.1H846.7V237.3H842.6zM819.3 240.8H823.5V245.0H819.3zM861.9 256.3H866.1V260.5H861.9zM726.5 260.2H730.6V264.4H726.5zM718.7 264.1H722.9V267.3H718.7z"/>
<path fill="#54e900" d="M846.4 117.0H850.6V121.2H846.4zM741.9 128.6H746.1V132.8H741.9zM741.9 159.6H746.1V163.7H741.9zM745.8 186.7H750.0V190.8H745.8zM680.0 194.4H684.2V198.6H680.0zM745.8 202.1H750.0V206.3H745.8zM861.9 221.5H866.1V225.7H861.9zM765.2 237.0H769.3V241.1H765.2zM865.8 237.0H870.0V241.1H865.8zM780.6 264.1H784.8V267.3H780.6z"/>
<path fill="#d8f800" d="M722.6 120.9H726.8V125.0H722.6zM734.2 120.9H738.4V125.0H734.2zM722.6 128.6H726.8V132.8H722.6zM854.2 132.5H858.3V136.7H854.2zM815.5 151.8H819.6V156.0H815.5zM765.2 190.5H769.3V194.7H765.2z"/>
<path fill="#92f500" d="M776.8 120.9H780.9V125.0H776.8zM807.7 128.6H811.9V132.8H807.7zM819.3 144.1H823.5V148.3H819.3zM780.6 167.3H784.8V171.5H780.6zM807.7 171.2H811.9V175.4H807.7zM796.1 256.3H800.3V260.5H796.1z"/>
<path fill="#e0f700" d="M823.2 120.9H827.4V125.0H823.2zM680.0 144.1H684.2V148.3H680.0zM858.0 159.6H862.2V163.7H858.0zM757.4 171.2H761.6V175.4H757.4zM827.1 221.5H831.3V225.7H827.1z"/>
<path fill="#f1f400" d="M861.9 120.9H866.1V125.0H861.9zM703.2 148.0H707.4V152.1H703.2zM761.3 167.3H765.5V171.5H761.3zM800.0 171.2H804.2V175.4H800.0z"/>
<path fill="#fdd100" d="M691.6 124.7H695.8V128.9H691.6zM761.3 178.9H765.5V183.1H761.3z"/>
<path fill="#a6f800" d="M811.6 124.7H815.8V128.9H811.6zM800.0 132.5H804.2V136.7H800.0zM695.5 140.2H699.7V144.4H695.5zM730.3 151.8H734.5V156.0H730.3zM865.8 151.8H870.0V156.0H865.8zM772.9 167.3H777.1V171.5H772.9zM811.6 167.3H815.8V171.5H811.6zM838.7 175.1H842.9V179.2H838.7zM800.0 178.9H804.2V183.1H800.0zM780.6 190.5H784.8V194.7H780.6zM861.9 217.6H866.1V221.8H861.9zM873.5 225.4H877.3V229.5H873.5z"/>
<path fill="#d4f800" d="M815.5 124.7H819.6V128.9H815.5zM869.7 124.7H873.8V128.9H869.7zM718.7 148.0H722.9V152.1H718.7zM873.5 206.0H877.3V210.2H873.5zM788.4 233.1H792.6V237.3H788.4z"/>
<path fill="#9df600" d="M846.4 124.7H850.6V128.9H846.4zM834.8 159.6H839.0V163.7H834.8zM803.9 171.2H808.0V175.4H803.9zM726.5 178.9H730.6V183.1H726.5zM858.0 217.6H862.2V221.8H858.0zM738.1 229.2H742.2V233.4H738.1z"/>
<path fill="#f3ee00" d="M683.9 128.6H688.1V132.8H683.9zM865.8 136.4H870.0V140.5H865.8z"/>
<path fill="#e2f700" d="M695.5 128.6H699.7V132.8H695.5zM803.9 167.3H808.0V171.5H803.9zM873.5 209.9H877.3V214.1H873.5z"/>
<path fill="#dff700" d="M714.9 128.6H719.0V132.8H714.9zM873.5 159.6H877.3V163.7H873.5zM861.9 175.1H866.1V179.2H861.9zM772.9 194.4H777.1V198.6H772.9z"/>
<path fill="#caf800" d="M734.2 128.6H738.4V132.8H734.2zM834.8 132.5H839.0V136.7H834.8zM711.0 140.2H715.2V144.4H711.0zM741.9 140.2H746.1V144.4H741.9zM680.0 175.1H680.3V179.2H680.0zM827.1 209.9H831.3V214.1H827.1z"/>
<path fill="#9bf600" d="M819.3 128.6H823.5V132.8H819.3zM772.9 140.2H777.1V144.4H772.9zM718.7 151.8H722.9V156.0H718.7zM850.3 186.7H854.5V190.8H850.3zM761.3 194.4H765.5V198.6H761.3z"/>
<path fill="#eef600" d="M823.2 128.6H827.4V132.8H823.2zM815.5 167.3H819.6V171.5H815.5zM769.0 186.7H773.2V190.8H769.0z"/>
<path fill="#d9f700" d="M680.0 132.5H680.3V136.7H680.0zM707.1 132.5H711.3V136.7H707.1zM699.4 151.8H703.5V156.0H699.4zM765.2 171.2H769.3V175.4H765.2zM792.3 175.1H796.4V179.2H792.3zM854.2 186.7H858.3V190.8H854.2z"/>
<path fill="#10da00" d="M741.9 132.5H746.1V136.7H741.9zM711.0 198.3H715.2V202.4H711.0zM691.6 202.1H695.8V206.3H691.6zM699.4 244.7H703.5V248.9H699.4zM722.6 256.3H726.8V260.5H722.6zM734.2 264.1H738.4V267.3H734.2z"/>
<path fill="#74ef00" d="M745.8 132.5H750.0V136.7H745.8zM869.7 140.2H873.8V144.4H869.7zM769.0 175.1H773.2V179.2H769.0zM757.4 225.4H761.6V229.5H757.4zM749.7 229.2H753.9V233.4H749.7zM726.5 233.1H730.6V237.3H726.5zM850.3 240.8H854.5V245.0H850.3zM772.9 244.7H777.1V248.9H772.9z"/>
<path fill="#79f000" d="M784.5 132.5H788.7V136.7H784.5zM869.7 132.5H873.8V136.7H869.7zM842.6 175.1H846.7V179.2H842.6zM865.8 175.1H870.0V179.2H865.8zM792.3 182.8H796.4V187.0H792.3zM858.0 190.5H862.2V194.7H858.0zM761.3 221.5H765.5V225.7H761.3zM707.1 233.1H711.3V237.3H707.1zM711.0 237.0H715.2V241.1H711.0zM757.4 248.6H761.6V252.8H757.4zM738.1 264.1H742.2V267.3H738.1z"/>
<path fill="#f9de00" d="M811.6 132.5H815.8V136.7H811.6z"/>
<path fill="#c8f800" d="M823.2 132.5H827.4V136.7H823.2zM834.8 140.2H839.0V144.4H834.8z"/>
<path fill="#fbd800" d="M687.8 136.4H691.9V140.5H687.8zM780.6 209.9H784.8V214.1H780.6z"/>
<path fill="#fbd700" d="M691.6 136.4H695.8V140.5H691.6z"/>
<path fill="#f5e900" d="M718.7 136.4H722.9V140.5H718.7zM838.7 182.8H842.9V187.0H838.7z"/>
<path fill="#52e800" d="M749.7 136.4H753.9V140.5H749.7zM741.9 163.4H746.1V167.6H741.9zM772.9 163.4H777.1V167.6H772.9zM714.9 221.5H719.0V225.7H714.9zM796.1 240.8H800.3V245.0H796.1zM788.4 260.2H792.6V264.4H788.4z"/>
<path fill="#82f100" d="M765.2 136.4H769.3V140.5H765.2zM869.7 171.2H873.8V175.4H869.7zM854.2 175.1H858.3V179.2H854.2z"/>
<path fill="#f4ea00" d="M703.2 140.2H707.4V144.4H703.2z"/>
<path fill="#00d407" d="M765.2 140.2H769.3V144.4H765.2zM738.1 171.2H742.2V175.4H738.1zM730.3 229.2H734.5V233.4H730.3zM772.9 256.3H777.1V260.5H772.9z"/>
<path fill="#76ef00" d="M803.9 140.2H808.0V144.4H803.9zM803.9 144.1H808.0V148.3H803.9zM695.5 155.7H699.7V159.9H695.5zM745.8 155.7H750.0V159.9H745.8zM819.3 155.7H823.5V159.9H819.3zM807.7 175.1H811.9V179.2H807.7zM803.9 186.7H808.0V190.8H803.9zM838.7 190.5H842.9V194.7H838.7zM854.2 206.0H858.3V210.2H854.2z"/>
<path fill="#40e500" d="M815.5 144.1H819.6V148.3H815.5zM718.7 237.0H722.9V241.1H718.7z"/>
<path fill="#ebf600" d="M695.5 148.0H699.7V152.1H695.5zM761.3 175.1H765.5V179.2H761.3z"/>
<path fill="#00d504" d="M800.0 148.0H804.2V152.1H800.0z"/>
<path fill="#acf900" d="M846.4 148.0H850.6V152.1H846.4zM680.0 151.8H684.2V156.0H680.0zM834.8 155.7H839.0V159.9H834.8zM680.0 159.6H680.3V163.7H680.0zM769.0 167.3H773.2V171.5H769.0zM823.2 167.3H827.4V171.5H823.2zM753.6 213.8H757.7V217.9H753.6zM761.3 213.8H765.5V217.9H761.3zM854.2 221.5H858.3V225.7H854.2zM807.7 244.7H811.9V248.9H807.7z"/>
<path fill="#f6e700" d="M838.7 151.8H842.9V156.0H838.7z"/>
<path fill="#f1f200" d="M861.9 151.8H866.1V156.0H861.9z"/>
<path fill="#87f300" d="M711.0 159.6H715.2V163.7H711.0zM745.8 163.4H750.0V167.6H745.8zM738.1 194.4H742.2V198.6H738.1z"/>
<path fill="#f2ef00" d="M730.3 159.6H734.5V163.7H730.3zM831.0 175.1H835.1V179.2H831.0z"/>
<path fill="#5bea00" d="M734.2 159.6H738.4V163.7H734.2zM749.7 202.1H753.9V206.3H749.7zM831.0 233.1H835.1V237.3H831.0zM734.2 252.4H738.4V256.6H734.2z"/>
<path fill="#98f500" d="M707.1 163.4H711.3V167.6H707.1z"/>
<path fill="#6ced00" d="M811.6 163.4H815.8V167.6H811.6zM757.4 167.3H761.6V171.5H757.4zM819.3 167.3H823.5V171.5H819.3zM792.3 225.4H796.4V229.5H792.3zM803.9 248.6H808.0V252.8H803.9zM765.2 252.4H769.3V256.6H765.2zM869.7 256.3H873.8V260.5H869.7z"/>
<path fill="#e3f700" d="M831.0 163.4H835.1V167.6H831.0zM854.2 198.3H858.3V202.4H854.2z"/>
<path fill="#61eb00" d="M707.1 171.2H711.3V175.4H707.1zM873.5 186.7H877.3V190.8H873.5zM765.2 209.9H769.3V214.1H765.2zM695.5 229.2H699.7V233.4H695.5zM873.5 229.2H877.3V233.4H873.5z"/>
<path fill="#62eb00" d="M815.5 171.2H819.6V175.4H815.5zM869.7 240.8H873.8V245.0H869.7z"/>
<path fill="#1edd00" d="M730.3 175.1H734.5V179.2H730.3zM695.5 198.3H699.7V202.4H695.5zM680.0 206.0H680.3V210.2H680.0zM680.0 206.0H684.2V210.2H680.0zM703.2 252.4H707.4V256.6H703.2zM861.9 252.4H866.1V256.6H861.9zM726.5 256.3H730.6V260.5H726.5z"/>
<path fill="#8df300" d="M703.2 178.9H707.4V183.1H703.2zM722.6 178.9H726.8V183.1H722.6z"/>
<path fill="#00c338" d="M707.1 178.9H711.3V183.1H707.1z"/>
<path fill="#2de000" d="M792.3 178.9H796.4V183.1H792.3zM680.0 221.5H684.2V225.7H680.0zM726.5 225.4H730.6V229.5H726.5zM819.3 248.6H823.5V252.8H819.3zM838.7 252.4H842.9V256.6H838.7zM803.9 264.1H808.0V267.3H803.9z"/>
<path fill="#ff9600" d="M726.5 186.7H730.6V190.8H726.5zM838.7 209.9H842.9V214.1H838.7zM842.6 209.9H846.7V214.1H842.6zM846.4 209.9H850.6V214.1H846.4zM838.7 213.8H842.9V217.9H838.7zM842.6 213.8H846.7V217.9H842.6zM838.7 217.6H842.9V221.8H838.7zM842.6 217.6H846.7V221.8H842.6z"/>
<path fill="#eaf600" d="M776.8 186.7H780.9V190.8H776.8zM741.9 190.5H746.1V194.7H741.9zM753.6 190.5H757.7V194.7H753.6zM796.1 206.0H800.3V210.2H796.1zM827.1 206.0H831.3V210.2H827.1z"/>
<path fill="#25df00" d="M711.0 190.5H715.2V194.7H711.0zM680.0 202.1H684.2V206.3H680.0zM703.2 202.1H707.4V206.3H703.2zM703.2 206.0H707.4V210.2H703.2zM803.9 237.0H808.0V241.1H803.9zM757.4 252.4H761.6V256.6H757.4z"/>
<path fill="#a2f800" d="M745.8 190.5H750.0V194.7H745.8z"/>
<path fill="#00c05a" d="M718.7 194.4H722.9V198.6H718.7z"/>
<path fill="#26df00" d="M734.2 194.4H738.4V198.6H734.2zM726.5 198.3H730.6V202.4H726.5zM838.7 256.3H842.9V260.5H838.7z"/>
<path fill="#1fdd00" d="M807.7 198.3H811.9V202.4H807.7zM761.3 260.2H765.5V264.4H761.3z"/>
<path fill="#15dc00" d="M707.1 206.0H711.3V210.2H707.1z"/>
<path fill="#38e300" d="M722.6 209.9H726.8V214.1H722.6zM691.6 213.8H695.8V217.9H691.6zM687.8 217.6H691.9V221.8H687.8zM858.0 256.3H862.2V260.5H858.0zM765.2 260.2H769.3V264.4H765.2zM819.3 264.1H823.5V267.3H819.3z"/>
<path fill="#00d012" d="M711.0 213.8H715.2V217.9H711.0zM730.3 248.6H734.5V252.8H730.3z"/>
<path fill="#1bdd00" d="M730.3 213.8H734.5V217.9H730.3z"/>
<path fill="#ffcd00" d="M846.4 213.8H850.6V217.9H846.4zM846.4 217.6H850.6V221.8H846.4z"/>
<path fill="#00bf53" d="M683.9 233.1H688.1V237.3H683.9z"/>
<path fill="#00c15e" d="M680.0 237.0H680.3V241.1H680.0z"/>
<path fill="#00c15f" d="M683.9 237.0H688.1V241.1H683.9zM687.8 237.0H691.9V241.1H687.8zM695.5 240.8H699.7V245.0H695.5z"/>
<path fill="#00c377" d="M691.6 237.0H695.8V241.1H691.6z"/>
<path fill="#00c793" d="M680.0 240.8H680.3V245.0H680.0z"/>
<path fill="#03c9b8" d="M683.9 240.8H688.1V245.0H683.9z"/>
<path fill="#00c057" d="M691.6 240.8H695.8V245.0H691.6z"/>
<path fill="#37e200" d="M765.2 240.8H769.3V245.0H765.2z"/>
<path fill="#04cabe" d="M680.0 244.7H680.3V248.9H680.0z"/>
<path fill="#00c68c" d="M680.0 244.7H684.2V248.9H680.0zM687.8 248.6H691.9V252.8H687.8z"/>
<path fill="#00c478" d="M683.9 244.7H688.1V248.9H683.9z"/>
<path fill="#03c9b6" d="M691.6 244.7H695.8V248.9H691.6z"/>
<path fill="#00c531" d="M703.2 244.7H707.4V248.9H703.2z"/>
<path fill="#00c36f" d="M680.0 248.6H680.3V252.8H680.0z"/>
<path fill="#02c9af" d="M680.0 248.6H684.2V252.8H680.0z"/>
<path fill="#00c040" d="M683.9 248.6H688.1V252.8H683.9z"/>
<path fill="#00c268" d="M691.6 248.6H695.8V252.8H691.6z"/>
<path fill="#00c055" d="M695.5 248.6H699.7V252.8H695.5z"/>
<path fill="#00c589" d="M703.2 248.6H707.4V252.8H703.2z"/>
<path fill="#4ae600" d="M792.3 248.6H796.4V252.8H792.3zM788.4 264.1H792.6V267.3H788.4z"/>
<path fill="#33e200" d="M865.8 248.6H870.0V252.8H865.8zM819.3 256.3H823.5V260.5H819.3zM827.1 256.3H831.3V260.5H827.1zM807.7 260.2H811.9V264.4H807.7zM753.6 264.1H757.7V267.3H753.6z"/>
<path fill="#00c794" d="M680.0 252.4H684.2V256.6H680.0zM687.8 264.1H691.9V267.3H687.8z"/>
<path fill="#00c586" d="M683.9 252.4H688.1V256.6H683.9z"/>
<path fill="#00c26c" d="M687.8 252.4H691.9V256.6H687.8z"/>
<path fill="#00c630" d="M769.0 252.4H773.2V256.6H769.0z"/>
<path fill="#00c68f" d="M680.0 256.3H680.3V260.5H680.0z"/>
<path fill="#00bf4d" d="M680.0 256.3H684.2V260.5H680.0zM711.0 256.3H715.2V260.5H711.0z"/>
<path fill="#00c8a2" d="M683.9 256.3H688.1V260.5H683.9z"/>
<path fill="#00c691" d="M687.8 256.3H691.9V260.5H687.8z"/>
<path fill="#00c588" d="M691.6 256.3H695.8V260.5H691.6z"/>
<path fill="#00c72b" d="M695.5 256.3H699.7V260.5H695.5z"/>
<path fill="#01c8a7" d="M699.4 256.3H703.5V260.5H699.4z"/>
<path fill="#00c929" d="M714.9 256.3H719.0V260.5H714.9z"/>
<path fill="#11da00" d="M784.5 256.3H788.7V260.5H784.5z"/>
<path fill="#00c690" d="M680.0 260.2H680.3V264.4H680.0z"/>
<path fill="#00c47b" d="M683.9 260.2H688.1V264.4H683.9z"/>
<path fill="#00c26d" d="M687.8 260.2H691.9V264.4H687.8z"/>
<path fill="#00c26a" d="M691.6 260.2H695.8V264.4H691.6z"/>
<path fill="#00c054" d="M699.4 260.2H703.5V264.4H699.4z"/>
<path fill="#00c480" d="M680.0 264.1H680.3V267.3H680.0z"/>
<path fill="#00ce1b" d="M691.6 264.1H695.8V267.3H691.6z"/>
<path fill="#00c26e" d="M699.4 264.1H703.5V267.3H699.4z"/>
<path fill="#00c059" d="M714.9 264.1H719.0V267.3H714.9z"/>
<path fill="#0cda00" d="M842.6 264.1H846.7V267.3H842.6z"/>
</g>
<g transform="translate(0,0)" stroke="#000" stroke-width="1" stroke-linejoin="round" shape-rendering="crispEdges">
<path fill="#f7c896" d="M679.5 189.5L684 193.5L690 198.5L693 202.5L697 204.5L703 211L702.5 217L699.5 220.5L696.5 218L695 211L692.5 205.5L689 200.5L684 196.5L679.5 194z"/>
<path fill="#f7c896" d="M679.5 210L684 209.5L688.5 211.5L689.5 218L688 222L683 224.5L680.5 227L684 230L682 233L679.5 234.5z"/>
<path fill="#f7c896" d="M731.5 225L733.4 224.5L734.3 229.2L733.6 233L732 232L731 227.3z"/>
<path fill="#f7c896" d="M734.8 235.4L741 234.9L743.8 239.6L748.5 244.4L753.3 248.2L757.1 252L758 254.8L755.2 258.6L751.4 259.5L747.6 256.7L744.3 252.9L744.3 250L741 247.2L738.1 243.4L735.7 240.6z"/>
<path fill="#f7c896" d="M766.5 255.8L768.4 253.9L773.2 255.8L777.9 259.5L781.7 264.3L782.7 267L775.1 267L772.2 262.4L768.4 257.7z"/>
<path fill="none" d="M732 232L730.5 236.8L731 243.4L735.3 248.2L736.2 252.9L741 256.7L746.6 261.4L752.3 264.8L757.1 265.2L759.9 263.3L763.7 260.5L762.8 256.7L759.9 251L756.1 248.2L751.4 245.3"/>
<path fill="none" d="M763.7 260.5L767 262L771 265.5L772.5 267M767.5 253.4L772 253.5L778 257.5L783 262.5L786.5 267"/>
<path fill="#000" stroke-width="1" d="M704.5 195.5l1.5-2.5l2.5 0l0 1.5l-2 0l-1 2zM693 186l2 0l0.5 4l-2 0zM693.5 183.5h2v1h-2zM680.5 179.5l2 0l1 5l-2 0zM680 176.5h2v2h-2zM712.5 206l3-2.5l1 1l-3 2.5zM723 211.5l1.500 0l2 4l-2 0zM734.5 191l1 0l.8 3l-1 0zM686 208h4v1.500h-4zM749 219.200h1.500v1h-1.500zM779 219.200h1.500v1h-1.500zM826 214h1v2h-1zM825.500 224h1v2h-1zM827 232.500h2v1h-2zM830 233h1v1h-1zM832 233.500h1v1h-1zM740 53h1.500v1h-1.500zM736.500 107h1v1h-1zM708.500 185.500h1v1h-1zM724 215h1v1.500h-1z"/>
</g>
<g fill="#000" shape-rendering="crispEdges">
<rect x="679" y="35" width="199" height="1"/>
<rect x="679" y="267" width="199" height="1"/>
<rect x="679" y="35" width="1" height="233"/>
<rect x="877" y="35" width="1" height="233"/>
<rect x="682" y="32" width="1" height="3"/>
<rect x="682" y="268" width="1" height="2"/>
<rect x="720" y="32" width="1" height="3"/>
<rect x="720" y="268" width="1" height="2"/>
<rect x="759" y="32" width="1" height="3"/>
<rect x="759" y="268" width="1" height="2"/>
<rect x="798" y="32" width="1" height="3"/>
<rect x="798" y="268" width="1" height="2"/>
<rect x="837" y="32" width="1" height="3"/>
<rect x="837" y="268" width="1" height="2"/>
<rect x="875" y="32" width="1" height="3"/>
<rect x="875" y="268" width="1" height="2"/>
<rect x="677" y="50" width="2" height="1"/>
<rect x="878" y="50" width="2" height="1"/>
<rect x="677" y="88" width="2" height="1"/>
<rect x="878" y="88" width="2" height="1"/>
<rect x="677" y="127" width="2" height="1"/>
<rect x="878" y="127" width="2" height="1"/>
<rect x="677" y="166" width="2" height="1"/>
<rect x="878" y="166" width="2" height="1"/>
<rect x="677" y="204" width="2" height="1"/>
<rect x="878" y="204" width="2" height="1"/>
<rect x="677" y="243" width="2" height="1"/>
<rect x="878" y="243" width="2" height="1"/>
</g>
<text x="682.5" y="284" font-size="12" text-anchor="middle" textLength="20" lengthAdjust="spacing">152</text>
<text x="721.2" y="284" font-size="12" text-anchor="middle" textLength="20" lengthAdjust="spacing">154</text>
<text x="759.9" y="284" font-size="12" text-anchor="middle" textLength="20" lengthAdjust="spacing">156</text>
<text x="798.6" y="284" font-size="12" text-anchor="middle" textLength="20" lengthAdjust="spacing">158</text>
<text x="837.3" y="284" font-size="12" text-anchor="middle" textLength="20" lengthAdjust="spacing">160</text>
<text x="876.0" y="284" font-size="12" text-anchor="middle" textLength="20" lengthAdjust="spacing">162</text>
<text x="674" y="55" font-size="12" text-anchor="end" textLength="6" lengthAdjust="spacing">4</text>
<text x="674" y="93" font-size="12" text-anchor="end" textLength="6" lengthAdjust="spacing">2</text>
<text x="674" y="132" font-size="12" text-anchor="end" textLength="6" lengthAdjust="spacing">0</text>
<text x="674" y="171" font-size="12" text-anchor="end" textLength="6" lengthAdjust="spacing">2</text>
<rect x="662" y="167" width="4" height="1" fill="#000" shape-rendering="crispEdges"/>
<text x="674" y="209" font-size="12" text-anchor="end" textLength="6" lengthAdjust="spacing">4</text>
<rect x="662" y="205" width="4" height="1" fill="#000" shape-rendering="crispEdges"/>
<text x="674" y="248" font-size="12" text-anchor="end" textLength="6" lengthAdjust="spacing">6</text>
<rect x="662" y="244" width="4" height="1" fill="#000" shape-rendering="crispEdges"/>
<circle cx="778.5" cy="150.8" r="5" fill="none" stroke="#000" stroke-width="1"/>
<text x="707.5" y="26" font-size="12" textLength="138" lengthAdjust="spacing">sat. SST: 29.8 Argo: 30.3</text>
<g shape-rendering="crispEdges">
<path fill="#00d700" d="M680.0 326.0H680.3V329.9H680.0zM680.0 326.0H684.2V329.9H680.0zM683.9 326.0H688.1V329.9H683.9zM687.8 326.0H691.9V329.9H687.8zM691.6 326.0H695.8V329.9H691.6zM695.5 326.0H699.7V329.9H695.5zM718.7 326.0H722.9V329.9H718.7zM722.6 326.0H726.8V329.9H722.6zM726.5 326.0H730.6V329.9H726.5zM730.3 326.0H734.5V329.9H730.3zM734.2 326.0H738.4V329.9H734.2zM738.1 326.0H742.2V329.9H738.1zM741.9 326.0H746.1V329.9H741.9zM745.8 326.0H750.0V329.9H745.8zM749.7 326.0H753.9V329.9H749.7zM753.6 326.0H757.7V329.9H753.6zM757.4 326.0H761.6V329.9H757.4zM761.3 326.0H765.5V329.9H761.3zM765.2 326.0H769.3V329.9H765.2zM800.0 326.0H804.2V329.9H800.0zM803.9 326.0H808.0V329.9H803.9zM807.7 326.0H811.9V329.9H807.7zM811.6 326.0H815.8V329.9H811.6zM815.5 326.0H819.6V329.9H815.5zM819.3 326.0H823.5V329.9H819.3zM823.2 326.0H827.4V329.9H823.2zM827.1 326.0H831.3V329.9H827.1zM831.0 326.0H835.1V329.9H831.0zM834.8 326.0H839.0V329.9H834.8zM838.7 326.0H842.9V329.9H838.7zM842.6 326.0H846.7V329.9H842.6zM846.4 326.0H850.6V329.9H846.4zM850.3 326.0H854.5V329.9H850.3zM854.2 326.0H858.3V329.9H854.2zM858.0 326.0H862.2V329.9H858.0zM861.9 326.0H866.1V329.9H861.9zM865.8 326.0H870.0V329.9H865.8zM869.7 326.0H873.8V329.9H869.7zM873.5 326.0H877.3V329.9H873.5zM680.0 329.6H680.3V333.8H680.0zM680.0 329.6H684.2V333.8H680.0zM683.9 329.6H688.1V333.8H683.9zM687.8 329.6H691.9V333.8H687.8zM691.6 329.6H695.8V333.8H691.6zM695.5 329.6H699.7V333.8H695.5zM699.4 329.6H703.5V333.8H699.4zM714.9 329.6H719.0V333.8H714.9zM718.7 329.6H722.9V333.8H718.7zM722.6 329.6H726.8V333.8H722.6zM726.5 329.6H730.6V333.8H726.5zM730.3 329.6H734.5V333.8H730.3zM734.2 329.6H738.4V333.8H734.2zM738.1 329.6H742.2V333.8H738.1zM741.9 329.6H746.1V333.8H741.9zM745.8 329.6H750.0V333.8H745.8zM749.7 329.6H753.9V333.8H749.7zM753.6 329.6H757.7V333.8H753.6zM757.4 329.6H761.6V333.8H757.4zM803.9 329.6H808.0V333.8H803.9zM807.7 329.6H811.9V333.8H807.7zM811.6 329.6H815.8V333.8H811.6zM815.5 329.6H819.6V333.8H815.5zM819.3 329.6H823.5V333.8H819.3zM823.2 329.6H827.4V333.8H823.2zM827.1 329.6H831.3V333.8H827.1zM831.0 329.6H835.1V333.8H831.0zM834.8 329.6H839.0V333.8H834.8zM838.7 329.6H842.9V333.8H838.7zM842.6 329.6H846.7V333.8H842.6zM846.4 329.6H850.6V333.8H846.4zM850.3 329.6H854.5V333.8H850.3zM854.2 329.6H858.3V333.8H854.2zM858.0 329.6H862.2V333.8H858.0zM861.9 329.6H866.1V333.8H861.9zM865.8 329.6H870.0V333.8H865.8zM869.7 329.6H873.8V333.8H869.7zM873.5 329.6H877.3V333.8H873.5zM680.0 333.5H680.3V337.6H680.0zM680.0 333.5H684.2V337.6H680.0zM683.9 333.5H688.1V337.6H683.9zM687.8 333.5H691.9V337.6H687.8zM691.6 333.5H695.8V337.6H691.6zM695.5 333.5H699.7V337.6H695.5zM699.4 333.5H703.5V337.6H699.4zM703.2 333.5H707.4V337.6H703.2zM707.1 333.5H711.3V337.6H707.1zM711.0 333.5H715.2V337.6H711.0zM714.9 333.5H719.0V337.6H714.9zM718.7 333.5H722.9V337.6H718.7zM722.6 333.5H726.8V337.6H722.6zM726.5 333.5H730.6V337.6H726.5zM730.3 333.5H734.5V337.6H730.3zM734.2 333.5H738.4V337.6H734.2zM738.1 333.5H742.2V337.6H738.1zM741.9 333.5H746.1V337.6H741.9zM745.8 333.5H750.0V337.6H745.8zM749.7 333.5H753.9V337.6H749.7zM753.6 333.5H757.7V337.6H753.6zM811.6 333.5H815.8V337.6H811.6zM815.5 333.5H819.6V337.6H815.5zM819.3 333.5H823.5V337.6H819.3zM834.8 333.5H839.0V337.6H834.8zM838.7 333.5H842.9V337.6H838.7zM842.6 333.5H846.7V337.6H842.6zM846.4 333.5H850.6V337.6H846.4zM850.3 333.5H854.5V337.6H850.3zM854.2 333.5H858.3V337.6H854.2zM858.0 333.5H862.2V337.6H858.0zM861.9 333.5H866.1V337.6H861.9zM865.8 333.5H870.0V337.6H865.8zM869.7 333.5H873.8V337.6H869.7zM680.0 337.3H680.3V341.5H680.0zM680.0 337.3H684.2V341.5H680.0zM683.9 337.3H688.1V341.5H683.9zM687.8 337.3H691.9V341.5H687.8zM691.6 337.3H695.8V341.5H691.6zM695.5 337.3H699.7V341.5H695.5zM699.4 337.3H703.5V341.5H699.4zM703.2 337.3H707.4V341.5H703.2zM707.1 337.3H711.3V341.5H707.1zM711.0 337.3H715.2V341.5H711.0zM714.9 337.3H719.0V341.5H714.9zM718.7 337.3H722.9V341.5H718.7zM846.4 337.3H850.6V341.5H846.4zM850.3 337.3H854.5V341.5H850.3zM854.2 337.3H858.3V341.5H854.2zM858.0 337.3H862.2V341.5H858.0zM861.9 337.3H866.1V341.5H861.9zM865.8 337.3H870.0V341.5H865.8zM680.0 341.2H680.3V345.4H680.0zM680.0 341.2H684.2V345.4H680.0zM683.9 341.2H688.1V345.4H683.9zM687.8 341.2H691.9V345.4H687.8zM691.6 341.2H695.8V345.4H691.6zM695.5 341.2H699.7V345.4H695.5zM699.4 341.2H703.5V345.4H699.4zM703.2 341.2H707.4V345.4H703.2zM707.1 341.2H711.3V345.4H707.1zM711.0 341.2H715.2V345.4H711.0zM714.9 341.2H719.0V345.4H714.9zM850.3 341.2H854.5V345.4H850.3zM854.2 341.2H858.3V345.4H854.2zM858.0 341.2H862.2V345.4H858.0zM861.9 341.2H866.1V345.4H861.9zM680.0 345.1H680.3V349.3H680.0zM680.0 345.1H684.2V349.3H680.0zM683.9 345.1H688.1V349.3H683.9zM687.8 345.1H691.9V349.3H687.8zM691.6 345.1H695.8V349.3H691.6zM695.5 345.1H699.7V349.3H695.5zM699.4 345.1H703.5V349.3H699.4zM703.2 345.1H707.4V349.3H703.2zM707.1 345.1H711.3V349.3H707.1zM711.0 345.1H715.2V349.3H711.0zM861.9 345.1H866.1V349.3H861.9zM680.0 349.0H680.3V353.1H680.0zM680.0 349.0H684.2V353.1H680.0zM683.9 349.0H688.1V353.1H683.9zM687.8 349.0H691.9V353.1H687.8zM691.6 349.0H695.8V353.1H691.6zM695.5 349.0H699.7V353.1H695.5zM699.4 349.0H703.5V353.1H699.4zM703.2 349.0H707.4V353.1H703.2zM707.1 349.0H711.3V353.1H707.1zM680.0 352.8H680.3V357.0H680.0zM680.0 352.8H684.2V357.0H680.0zM683.9 352.8H688.1V357.0H683.9zM687.8 352.8H691.9V357.0H687.8zM691.6 352.8H695.8V357.0H691.6zM695.5 352.8H699.7V357.0H695.5zM699.4 352.8H703.5V357.0H699.4zM800.0 372.2H804.2V376.3H800.0zM803.9 372.2H808.0V376.3H803.9zM800.0 376.0H804.2V380.2H800.0zM803.9 376.0H808.0V380.2H803.9zM800.0 379.9H804.2V384.1H800.0zM803.9 379.9H808.0V384.1H803.9zM807.7 379.9H811.9V384.1H807.7zM800.0 383.8H804.2V388.0H800.0zM803.9 383.8H808.0V388.0H803.9zM803.9 387.7H808.0V391.8H803.9zM722.6 418.6H726.8V422.8H722.6zM726.5 418.6H730.6V422.8H726.5zM730.3 418.6H734.5V422.8H730.3zM722.6 422.5H726.8V426.7H722.6zM726.5 422.5H730.6V426.7H726.5zM730.3 422.5H734.5V426.7H730.3zM734.2 422.5H738.4V426.7H734.2zM718.7 426.4H722.9V430.5H718.7zM722.6 426.4H726.8V430.5H722.6zM726.5 426.4H730.6V430.5H726.5zM730.3 426.4H734.5V430.5H730.3zM734.2 426.4H738.4V430.5H734.2zM738.1 426.4H742.2V430.5H738.1zM741.9 426.4H746.1V430.5H741.9zM792.3 426.4H796.4V430.5H792.3zM718.7 430.2H722.9V434.4H718.7zM722.6 430.2H726.8V434.4H722.6zM726.5 430.2H730.6V434.4H726.5zM730.3 430.2H734.5V434.4H730.3zM734.2 430.2H738.4V434.4H734.2zM738.1 430.2H742.2V434.4H738.1zM741.9 430.2H746.1V434.4H741.9zM745.8 430.2H750.0V434.4H745.8zM788.4 430.2H792.6V434.4H788.4zM792.3 430.2H796.4V434.4H792.3zM718.7 434.1H722.9V438.3H718.7zM722.6 434.1H726.8V438.3H722.6zM726.5 434.1H730.6V438.3H726.5zM730.3 434.1H734.5V438.3H730.3zM734.2 434.1H738.4V438.3H734.2zM738.1 434.1H742.2V438.3H738.1zM741.9 434.1H746.1V438.3H741.9zM745.8 434.1H750.0V438.3H745.8zM749.7 434.1H753.9V438.3H749.7zM761.3 434.1H765.5V438.3H761.3zM784.5 434.1H788.7V438.3H784.5zM788.4 434.1H792.6V438.3H788.4zM792.3 434.1H796.4V438.3H792.3zM714.9 438.0H719.0V442.1H714.9zM718.7 438.0H722.9V442.1H718.7zM722.6 438.0H726.8V442.1H722.6zM726.5 438.0H730.6V442.1H726.5zM730.3 438.0H734.5V442.1H730.3zM734.2 438.0H738.4V442.1H734.2zM738.1 438.0H742.2V442.1H738.1zM741.9 438.0H746.1V442.1H741.9zM745.8 438.0H750.0V442.1H745.8zM749.7 438.0H753.9V442.1H749.7zM757.4 438.0H761.6V442.1H757.4zM761.3 438.0H765.5V442.1H761.3zM765.2 438.0H769.3V442.1H765.2zM780.6 438.0H784.8V442.1H780.6zM784.5 438.0H788.7V442.1H784.5zM788.4 438.0H792.6V442.1H788.4zM792.3 438.0H796.4V442.1H792.3zM718.7 441.8H722.9V446.0H718.7zM722.6 441.8H726.8V446.0H722.6zM726.5 441.8H730.6V446.0H726.5zM730.3 441.8H734.5V446.0H730.3zM734.2 441.8H738.4V446.0H734.2zM738.1 441.8H742.2V446.0H738.1zM741.9 441.8H746.1V446.0H741.9zM745.8 441.8H750.0V446.0H745.8zM749.7 441.8H753.9V446.0H749.7zM757.4 441.8H761.6V446.0H757.4zM761.3 441.8H765.5V446.0H761.3zM765.2 441.8H769.3V446.0H765.2zM769.0 441.8H773.2V446.0H769.0zM776.8 441.8H780.9V446.0H776.8zM780.6 441.8H784.8V446.0H780.6zM784.5 441.8H788.7V446.0H784.5zM788.4 441.8H792.6V446.0H788.4zM792.3 441.8H796.4V446.0H792.3zM718.7 445.7H722.9V449.9H718.7zM722.6 445.7H726.8V449.9H722.6zM726.5 445.7H730.6V449.9H726.5zM730.3 445.7H734.5V449.9H730.3zM734.2 445.7H738.4V449.9H734.2zM738.1 445.7H742.2V449.9H738.1zM741.9 445.7H746.1V449.9H741.9zM745.8 445.7H750.0V449.9H745.8zM749.7 445.7H753.9V449.9H749.7zM753.6 445.7H757.7V449.9H753.6zM757.4 445.7H761.6V449.9H757.4zM761.3 445.7H765.5V449.9H761.3zM765.2 445.7H769.3V449.9H765.2zM769.0 445.7H773.2V449.9H769.0zM772.9 445.7H777.1V449.9H772.9zM776.8 445.7H780.9V449.9H776.8zM780.6 445.7H784.8V449.9H780.6zM784.5 445.7H788.7V449.9H784.5zM788.4 445.7H792.6V449.9H788.4zM792.3 445.7H796.4V449.9H792.3zM718.7 449.6H722.9V453.7H718.7zM722.6 449.6H726.8V453.7H722.6zM726.5 449.6H730.6V453.7H726.5zM730.3 449.6H734.5V453.7H730.3zM734.2 449.6H738.4V453.7H734.2zM738.1 449.6H742.2V453.7H738.1zM741.9 449.6H746.1V453.7H741.9zM745.8 449.6H750.0V453.7H745.8zM749.7 449.6H753.9V453.7H749.7zM753.6 449.6H757.7V453.7H753.6zM769.0 449.6H773.2V453.7H769.0zM772.9 449.6H777.1V453.7H772.9zM776.8 449.6H780.9V453.7H776.8zM780.6 449.6H784.8V453.7H780.6zM784.5 449.6H788.7V453.7H784.5zM788.4 449.6H792.6V453.7H788.4zM792.3 449.6H796.4V453.7H792.3zM718.7 453.4H722.9V457.6H718.7zM722.6 453.4H726.8V457.6H722.6zM726.5 453.4H730.6V457.6H726.5zM730.3 453.4H734.5V457.6H730.3zM734.2 453.4H738.4V457.6H734.2zM738.1 453.4H742.2V457.6H738.1zM741.9 453.4H746.1V457.6H741.9zM745.8 453.4H750.0V457.6H745.8zM776.8 453.4H780.9V457.6H776.8zM780.6 453.4H784.8V457.6H780.6zM784.5 453.4H788.7V457.6H784.5zM788.4 453.4H792.6V457.6H788.4zM792.3 453.4H796.4V457.6H792.3zM714.9 457.3H719.0V461.5H714.9zM718.7 457.3H722.9V461.5H718.7zM722.6 457.3H726.8V461.5H722.6zM726.5 457.3H730.6V461.5H726.5zM730.3 457.3H734.5V461.5H730.3zM734.2 457.3H738.4V461.5H734.2zM738.1 457.3H742.2V461.5H738.1zM741.9 457.3H746.1V461.5H741.9zM745.8 457.3H750.0V461.5H745.8zM776.8 457.3H780.9V461.5H776.8zM780.6 457.3H784.8V461.5H780.6zM784.5 457.3H788.7V461.5H784.5zM788.4 457.3H792.6V461.5H788.4zM792.3 457.3H796.4V461.5H792.3zM714.9 461.2H719.0V465.4H714.9zM718.7 461.2H722.9V465.4H718.7zM722.6 461.2H726.8V465.4H722.6zM726.5 461.2H730.6V465.4H726.5zM730.3 461.2H734.5V465.4H730.3zM734.2 461.2H738.4V465.4H734.2zM738.1 461.2H742.2V465.4H738.1zM741.9 461.2H746.1V465.4H741.9zM776.8 461.2H780.9V465.4H776.8zM780.6 461.2H784.8V465.4H780.6zM784.5 461.2H788.7V465.4H784.5zM788.4 461.2H792.6V465.4H788.4zM792.3 461.2H796.4V465.4H792.3zM714.9 465.1H719.0V469.2H714.9zM718.7 465.1H722.9V469.2H718.7zM722.6 465.1H726.8V469.2H722.6zM726.5 465.1H730.6V469.2H726.5zM730.3 465.1H734.5V469.2H730.3zM734.2 465.1H738.4V469.2H734.2zM738.1 465.1H742.2V469.2H738.1zM741.9 465.1H746.1V469.2H741.9zM776.8 465.1H780.9V469.2H776.8zM780.6 465.1H784.8V469.2H780.6zM784.5 465.1H788.7V469.2H784.5zM788.4 465.1H792.6V469.2H788.4zM792.3 465.1H796.4V469.2H792.3zM707.1 468.9H711.3V473.1H707.1zM711.0 468.9H715.2V473.1H711.0zM714.9 468.9H719.0V473.1H714.9zM718.7 468.9H722.9V473.1H718.7zM722.6 468.9H726.8V473.1H722.6zM726.5 468.9H730.6V473.1H726.5zM730.3 468.9H734.5V473.1H730.3zM734.2 468.9H738.4V473.1H734.2zM738.1 468.9H742.2V473.1H738.1zM741.9 468.9H746.1V473.1H741.9zM780.6 468.9H784.8V473.1H780.6zM784.5 468.9H788.7V473.1H784.5zM788.4 468.9H792.6V473.1H788.4zM792.3 468.9H796.4V473.1H792.3zM861.9 468.9H866.1V473.1H861.9zM699.4 472.8H703.5V477.0H699.4zM703.2 472.8H707.4V477.0H703.2zM707.1 472.8H711.3V477.0H707.1zM711.0 472.8H715.2V477.0H711.0zM714.9 472.8H719.0V477.0H714.9zM718.7 472.8H722.9V477.0H718.7zM722.6 472.8H726.8V477.0H722.6zM726.5 472.8H730.6V477.0H726.5zM730.3 472.8H734.5V477.0H730.3zM734.2 472.8H738.4V477.0H734.2zM738.1 472.8H742.2V477.0H738.1zM780.6 472.8H784.8V477.0H780.6zM784.5 472.8H788.7V477.0H784.5zM788.4 472.8H792.6V477.0H788.4zM792.3 472.8H796.4V477.0H792.3zM861.9 472.8H866.1V477.0H861.9zM865.8 472.8H870.0V477.0H865.8zM680.0 476.7H680.3V480.8H680.0zM680.0 476.7H684.2V480.8H680.0zM683.9 476.7H688.1V480.8H683.9zM687.8 476.7H691.9V480.8H687.8zM691.6 476.7H695.8V480.8H691.6zM695.5 476.7H699.7V480.8H695.5zM699.4 476.7H703.5V480.8H699.4zM703.2 476.7H707.4V480.8H703.2zM707.1 476.7H711.3V480.8H707.1zM711.0 476.7H715.2V480.8H711.0zM714.9 476.7H719.0V480.8H714.9zM718.7 476.7H722.9V480.8H718.7zM722.6 476.7H726.8V480.8H722.6zM726.5 476.7H730.6V480.8H726.5zM730.3 476.7H734.5V480.8H730.3zM734.2 476.7H738.4V480.8H734.2zM858.0 476.7H862.2V480.8H858.0zM861.9 476.7H866.1V480.8H861.9zM865.8 476.7H870.0V480.8H865.8zM869.7 476.7H873.8V480.8H869.7zM873.5 476.7H877.3V480.8H873.5zM680.0 480.5H680.3V484.7H680.0zM680.0 480.5H684.2V484.7H680.0zM683.9 480.5H688.1V484.7H683.9zM687.8 480.5H691.9V484.7H687.8zM691.6 480.5H695.8V484.7H691.6zM695.5 480.5H699.7V484.7H695.5zM699.4 480.5H703.5V484.7H699.4zM703.2 480.5H707.4V484.7H703.2zM707.1 480.5H711.3V484.7H707.1zM711.0 480.5H715.2V484.7H711.0zM714.9 480.5H719.0V484.7H714.9zM718.7 480.5H722.9V484.7H718.7zM722.6 480.5H726.8V484.7H722.6zM726.5 480.5H730.6V484.7H726.5zM730.3 480.5H734.5V484.7H730.3zM734.2 480.5H738.4V484.7H734.2zM811.6 480.5H815.8V484.7H811.6zM815.5 480.5H819.6V484.7H815.5zM819.3 480.5H823.5V484.7H819.3zM823.2 480.5H827.4V484.7H823.2zM861.9 480.5H866.1V484.7H861.9zM865.8 480.5H870.0V484.7H865.8zM869.7 480.5H873.8V484.7H869.7zM873.5 480.5H877.3V484.7H873.5zM680.0 484.4H680.3V488.6H680.0zM680.0 484.4H684.2V488.6H680.0zM683.9 484.4H688.1V488.6H683.9zM687.8 484.4H691.9V488.6H687.8zM691.6 484.4H695.8V488.6H691.6zM695.5 484.4H699.7V488.6H695.5zM699.4 484.4H703.5V488.6H699.4zM703.2 484.4H707.4V488.6H703.2zM707.1 484.4H711.3V488.6H707.1zM711.0 484.4H715.2V488.6H711.0zM714.9 484.4H719.0V488.6H714.9zM718.7 484.4H722.9V488.6H718.7zM722.6 484.4H726.8V488.6H722.6zM726.5 484.4H730.6V488.6H726.5zM730.3 484.4H734.5V488.6H730.3zM811.6 484.4H815.8V488.6H811.6zM815.5 484.4H819.6V488.6H815.5zM819.3 484.4H823.5V488.6H819.3zM823.2 484.4H827.4V488.6H823.2zM861.9 484.4H866.1V488.6H861.9zM865.8 484.4H870.0V488.6H865.8zM869.7 484.4H873.8V488.6H869.7zM873.5 484.4H877.3V488.6H873.5zM680.0 488.3H680.3V492.4H680.0zM680.0 488.3H684.2V492.4H680.0zM683.9 488.3H688.1V492.4H683.9zM687.8 488.3H691.9V492.4H687.8zM691.6 488.3H695.8V492.4H691.6zM695.5 488.3H699.7V492.4H695.5zM699.4 488.3H703.5V492.4H699.4zM703.2 488.3H707.4V492.4H703.2zM707.1 488.3H711.3V492.4H707.1zM718.7 488.3H722.9V492.4H718.7zM722.6 488.3H726.8V492.4H722.6zM726.5 488.3H730.6V492.4H726.5zM811.6 488.3H815.8V492.4H811.6zM815.5 488.3H819.6V492.4H815.5zM819.3 488.3H823.5V492.4H819.3zM823.2 488.3H827.4V492.4H823.2zM861.9 488.3H866.1V492.4H861.9zM865.8 488.3H870.0V492.4H865.8zM869.7 488.3H873.8V492.4H869.7zM873.5 488.3H877.3V492.4H873.5zM680.0 492.1H680.3V496.3H680.0zM680.0 492.1H684.2V496.3H680.0zM683.9 492.1H688.1V496.3H683.9zM687.8 492.1H691.9V496.3H687.8zM691.6 492.1H695.8V496.3H691.6zM695.5 492.1H699.7V496.3H695.5zM699.4 492.1H703.5V496.3H699.4zM703.2 492.1H707.4V496.3H703.2zM707.1 492.1H711.3V496.3H707.1zM722.6 492.1H726.8V496.3H722.6zM811.6 492.1H815.8V496.3H811.6zM815.5 492.1H819.6V496.3H815.5zM819.3 492.1H823.5V496.3H819.3zM823.2 492.1H827.4V496.3H823.2zM861.9 492.1H866.1V496.3H861.9zM865.8 492.1H870.0V496.3H865.8zM869.7 492.1H873.8V496.3H869.7zM873.5 492.1H877.3V496.3H873.5zM680.0 496.0H680.3V500.2H680.0zM680.0 496.0H684.2V500.2H680.0zM683.9 496.0H688.1V500.2H683.9zM687.8 496.0H691.9V500.2H687.8zM691.6 496.0H695.8V500.2H691.6zM695.5 496.0H699.7V500.2H695.5zM699.4 496.0H703.5V500.2H699.4zM703.2 496.0H707.4V500.2H703.2zM707.1 496.0H711.3V500.2H707.1zM807.7 496.0H811.9V500.2H807.7zM811.6 496.0H815.8V500.2H811.6zM815.5 496.0H819.6V500.2H815.5zM819.3 496.0H823.5V500.2H819.3zM823.2 496.0H827.4V500.2H823.2zM861.9 496.0H866.1V500.2H861.9zM865.8 496.0H870.0V500.2H865.8zM869.7 496.0H873.8V500.2H869.7zM873.5 496.0H877.3V500.2H873.5zM680.0 499.9H680.3V504.1H680.0zM680.0 499.9H684.2V504.1H680.0zM683.9 499.9H688.1V504.1H683.9zM687.8 499.9H691.9V504.1H687.8zM691.6 499.9H695.8V504.1H691.6zM695.5 499.9H699.7V504.1H695.5zM699.4 499.9H703.5V504.1H699.4zM703.2 499.9H707.4V504.1H703.2zM707.1 499.9H711.3V504.1H707.1zM811.6 499.9H815.8V504.1H811.6zM815.5 499.9H819.6V504.1H815.5zM819.3 499.9H823.5V504.1H819.3zM823.2 499.9H827.4V504.1H823.2zM861.9 499.9H866.1V504.1H861.9zM865.8 499.9H870.0V504.1H865.8zM869.7 499.9H873.8V504.1H869.7zM873.5 499.9H877.3V504.1H873.5zM687.8 503.8H691.9V507.9H687.8zM691.6 503.8H695.8V507.9H691.6zM695.5 503.8H699.7V507.9H695.5zM699.4 503.8H703.5V507.9H699.4zM703.2 503.8H707.4V507.9H703.2zM707.1 503.8H711.3V507.9H707.1zM811.6 503.8H815.8V507.9H811.6zM815.5 503.8H819.6V507.9H815.5zM819.3 503.8H823.5V507.9H819.3zM823.2 503.8H827.4V507.9H823.2zM861.9 503.8H866.1V507.9H861.9zM865.8 503.8H870.0V507.9H865.8zM691.6 507.6H695.8V511.8H691.6zM695.5 507.6H699.7V511.8H695.5zM699.4 507.6H703.5V511.8H699.4zM703.2 507.6H707.4V511.8H703.2zM707.1 507.6H711.3V511.8H707.1zM811.6 507.6H815.8V511.8H811.6zM815.5 507.6H819.6V511.8H815.5zM819.3 507.6H823.5V511.8H819.3zM823.2 507.6H827.4V511.8H823.2zM861.9 507.6H866.1V511.8H861.9zM695.5 511.5H699.7V515.7H695.5zM699.4 511.5H703.5V515.7H699.4zM703.2 511.5H707.4V515.7H703.2zM707.1 511.5H711.3V515.7H707.1zM811.6 511.5H815.8V515.7H811.6zM815.5 511.5H819.6V515.7H815.5zM819.3 511.5H823.5V515.7H819.3zM695.5 515.4H699.7V519.5H695.5zM699.4 515.4H703.5V519.5H699.4zM703.2 515.4H707.4V519.5H703.2zM811.6 515.4H815.8V519.5H811.6zM699.4 519.2H703.5V523.4H699.4zM703.2 519.2H707.4V523.4H703.2zM699.4 523.1H703.5V527.3H699.4zM703.2 523.1H707.4V527.3H703.2zM699.4 527.0H703.5V531.1H699.4zM703.2 527.0H707.4V531.1H703.2zM699.4 530.8H703.5V535.0H699.4zM703.2 530.8H707.4V535.0H703.2zM707.1 530.8H711.3V535.0H707.1zM699.4 534.7H703.5V538.9H699.4zM703.2 534.7H707.4V538.9H703.2zM707.1 534.7H711.3V538.9H707.1zM699.4 538.6H703.5V542.8H699.4zM703.2 538.6H707.4V542.8H703.2zM707.1 538.6H711.3V542.8H707.1zM695.5 542.5H699.7V546.6H695.5zM699.4 542.5H703.5V546.6H699.4zM703.2 542.5H707.4V546.6H703.2zM707.1 542.5H711.3V546.6H707.1zM711.0 542.5H715.2V546.6H711.0zM695.5 546.3H699.7V550.5H695.5zM699.4 546.3H703.5V550.5H699.4zM703.2 546.3H707.4V550.5H703.2zM707.1 546.3H711.3V550.5H707.1zM711.0 546.3H715.2V550.5H711.0zM691.6 550.2H695.8V554.4H691.6zM695.5 550.2H699.7V554.4H695.5zM699.4 550.2H703.5V554.4H699.4zM703.2 550.2H707.4V554.4H703.2zM707.1 550.2H711.3V554.4H707.1zM711.0 550.2H715.2V554.4H711.0zM691.6 554.1H695.8V557.3H691.6zM695.5 554.1H699.7V557.3H695.5zM699.4 554.1H703.5V557.3H699.4zM703.2 554.1H707.4V557.3H703.2zM707.1 554.1H711.3V557.3H707.1zM711.0 554.1H715.2V557.3H711.0zM800.0 554.1H804.2V557.3H800.0z"/>
<path fill="#00ca23" d="M699.4 326.0H703.5V329.9H699.4zM703.2 326.0H707.4V329.9H703.2zM707.1 326.0H711.3V329.9H707.1zM711.0 326.0H715.2V329.9H711.0zM714.9 326.0H719.0V329.9H714.9zM703.2 329.6H707.4V333.8H703.2zM707.1 329.6H711.3V333.8H707.1zM711.0 329.6H715.2V333.8H711.0zM680.0 503.8H680.3V507.9H680.0zM680.0 503.8H684.2V507.9H680.0zM683.9 503.8H688.1V507.9H683.9zM680.0 507.6H680.3V511.8H680.0zM680.0 507.6H684.2V511.8H680.0zM683.9 507.6H688.1V511.8H683.9zM687.8 507.6H691.9V511.8H687.8zM680.0 511.5H680.3V515.7H680.0zM680.0 511.5H684.2V515.7H680.0zM683.9 511.5H688.1V515.7H683.9zM687.8 511.5H691.9V515.7H687.8zM691.6 511.5H695.8V515.7H691.6zM680.0 515.4H680.3V519.5H680.0zM680.0 515.4H684.2V519.5H680.0zM683.9 515.4H688.1V519.5H683.9zM687.8 515.4H691.9V519.5H687.8zM691.6 515.4H695.8V519.5H691.6zM680.0 519.2H680.3V523.4H680.0zM680.0 519.2H684.2V523.4H680.0zM683.9 519.2H688.1V523.4H683.9zM687.8 519.2H691.9V523.4H687.8zM691.6 519.2H695.8V523.4H691.6zM695.5 519.2H699.7V523.4H695.5zM680.0 523.1H680.3V527.3H680.0zM680.0 523.1H684.2V527.3H680.0zM683.9 523.1H688.1V527.3H683.9zM687.8 523.1H691.9V527.3H687.8zM691.6 523.1H695.8V527.3H691.6zM695.5 523.1H699.7V527.3H695.5zM680.0 527.0H680.3V531.1H680.0zM680.0 527.0H684.2V531.1H680.0zM683.9 527.0H688.1V531.1H683.9zM687.8 527.0H691.9V531.1H687.8zM691.6 527.0H695.8V531.1H691.6zM695.5 527.0H699.7V531.1H695.5zM680.0 530.8H680.3V535.0H680.0zM680.0 530.8H684.2V535.0H680.0zM683.9 530.8H688.1V535.0H683.9zM687.8 530.8H691.9V535.0H687.8zM691.6 530.8H695.8V535.0H691.6zM695.5 530.8H699.7V535.0H695.5zM680.0 534.7H680.3V538.9H680.0zM680.0 534.7H684.2V538.9H680.0zM683.9 534.7H688.1V538.9H683.9zM687.8 534.7H691.9V538.9H687.8zM691.6 534.7H695.8V538.9H691.6zM695.5 534.7H699.7V538.9H695.5zM680.0 538.6H680.3V542.8H680.0zM680.0 538.6H684.2V542.8H680.0zM683.9 538.6H688.1V542.8H683.9zM687.8 538.6H691.9V542.8H687.8zM691.6 538.6H695.8V542.8H691.6zM695.5 538.6H699.7V542.8H695.5zM680.0 542.5H680.3V546.6H680.0zM680.0 542.5H684.2V546.6H680.0zM683.9 542.5H688.1V546.6H683.9zM687.8 542.5H691.9V546.6H687.8zM691.6 542.5H695.8V546.6H691.6zM680.0 546.3H680.3V550.5H680.0zM680.0 546.3H684.2V550.5H680.0zM683.9 546.3H688.1V550.5H683.9zM687.8 546.3H691.9V550.5H687.8zM691.6 546.3H695.8V550.5H691.6zM680.0 550.2H680.3V554.4H680.0zM680.0 550.2H684.2V554.4H680.0zM683.9 550.2H688.1V554.4H683.9zM687.8 550.2H691.9V554.4H687.8zM680.0 554.1H680.3V557.3H680.0zM680.0 554.1H684.2V557.3H680.0zM683.9 554.1H688.1V557.3H683.9zM687.8 554.1H691.9V557.3H687.8z"/>
<path fill="#32e200" d="M769.0 326.0H773.2V329.9H769.0zM772.9 326.0H777.1V329.9H772.9zM776.8 326.0H780.9V329.9H776.8zM780.6 326.0H784.8V329.9H780.6zM784.5 326.0H788.7V329.9H784.5zM788.4 326.0H792.6V329.9H788.4zM792.3 326.0H796.4V329.9H792.3zM796.1 326.0H800.3V329.9H796.1zM761.3 329.6H765.5V333.8H761.3zM765.2 329.6H769.3V333.8H765.2zM769.0 329.6H773.2V333.8H769.0zM772.9 329.6H777.1V333.8H772.9zM776.8 329.6H780.9V333.8H776.8zM780.6 329.6H784.8V333.8H780.6zM784.5 329.6H788.7V333.8H784.5zM788.4 329.6H792.6V333.8H788.4zM792.3 329.6H796.4V333.8H792.3zM796.1 329.6H800.3V333.8H796.1zM800.0 329.6H804.2V333.8H800.0zM757.4 333.5H761.6V337.6H757.4zM761.3 333.5H765.5V337.6H761.3zM765.2 333.5H769.3V337.6H765.2zM769.0 333.5H773.2V337.6H769.0zM772.9 333.5H777.1V337.6H772.9zM784.5 333.5H788.7V337.6H784.5zM788.4 333.5H792.6V337.6H788.4zM792.3 333.5H796.4V337.6H792.3zM796.1 333.5H800.3V337.6H796.1zM800.0 333.5H804.2V337.6H800.0zM803.9 333.5H808.0V337.6H803.9zM807.7 333.5H811.9V337.6H807.7zM823.2 333.5H827.4V337.6H823.2zM827.1 333.5H831.3V337.6H827.1zM831.0 333.5H835.1V337.6H831.0zM873.5 333.5H877.3V337.6H873.5zM722.6 337.3H726.8V341.5H722.6zM726.5 337.3H730.6V341.5H726.5zM730.3 337.3H734.5V341.5H730.3zM734.2 337.3H738.4V341.5H734.2zM738.1 337.3H742.2V341.5H738.1zM741.9 337.3H746.1V341.5H741.9zM745.8 337.3H750.0V341.5H745.8zM749.7 337.3H753.9V341.5H749.7zM753.6 337.3H757.7V341.5H753.6zM757.4 337.3H761.6V341.5H757.4zM761.3 337.3H765.5V341.5H761.3zM792.3 337.3H796.4V341.5H792.3zM796.1 337.3H800.3V341.5H796.1zM800.0 337.3H804.2V341.5H800.0zM803.9 337.3H808.0V341.5H803.9zM807.7 337.3H811.9V341.5H807.7zM811.6 337.3H815.8V341.5H811.6zM815.5 337.3H819.6V341.5H815.5zM819.3 337.3H823.5V341.5H819.3zM823.2 337.3H827.4V341.5H823.2zM827.1 337.3H831.3V341.5H827.1zM831.0 337.3H835.1V341.5H831.0zM834.8 337.3H839.0V341.5H834.8zM838.7 337.3H842.9V341.5H838.7zM842.6 337.3H846.7V341.5H842.6zM869.7 337.3H873.8V341.5H869.7zM873.5 337.3H877.3V341.5H873.5zM718.7 341.2H722.9V345.4H718.7zM722.6 341.2H726.8V345.4H722.6zM726.5 341.2H730.6V345.4H726.5zM730.3 341.2H734.5V345.4H730.3zM734.2 341.2H738.4V345.4H734.2zM738.1 341.2H742.2V345.4H738.1zM741.9 341.2H746.1V345.4H741.9zM745.8 341.2H750.0V345.4H745.8zM749.7 341.2H753.9V345.4H749.7zM753.6 341.2H757.7V345.4H753.6zM792.3 341.2H796.4V345.4H792.3zM796.1 341.2H800.3V345.4H796.1zM800.0 341.2H804.2V345.4H800.0zM803.9 341.2H808.0V345.4H803.9zM807.7 341.2H811.9V345.4H807.7zM811.6 341.2H815.8V345.4H811.6zM815.5 341.2H819.6V345.4H815.5zM819.3 341.2H823.5V345.4H819.3zM823.2 341.2H827.4V345.4H823.2zM827.1 341.2H831.3V345.4H827.1zM831.0 341.2H835.1V345.4H831.0zM834.8 341.2H839.0V345.4H834.8zM838.7 341.2H842.9V345.4H838.7zM842.6 341.2H846.7V345.4H842.6zM846.4 341.2H850.6V345.4H846.4zM865.8 341.2H870.0V345.4H865.8zM869.7 341.2H873.8V345.4H869.7zM873.5 341.2H877.3V345.4H873.5zM714.9 345.1H719.0V349.3H714.9zM718.7 345.1H722.9V349.3H718.7zM738.1 345.1H742.2V349.3H738.1zM741.9 345.1H746.1V349.3H741.9zM745.8 345.1H750.0V349.3H745.8zM749.7 345.1H753.9V349.3H749.7zM753.6 345.1H757.7V349.3H753.6zM792.3 345.1H796.4V349.3H792.3zM796.1 345.1H800.3V349.3H796.1zM800.0 345.1H804.2V349.3H800.0zM803.9 345.1H808.0V349.3H803.9zM807.7 345.1H811.9V349.3H807.7zM811.6 345.1H815.8V349.3H811.6zM815.5 345.1H819.6V349.3H815.5zM819.3 345.1H823.5V349.3H819.3zM842.6 345.1H846.7V349.3H842.6zM846.4 345.1H850.6V349.3H846.4zM850.3 345.1H854.5V349.3H850.3zM854.2 345.1H858.3V349.3H854.2zM858.0 345.1H862.2V349.3H858.0zM865.8 345.1H870.0V349.3H865.8zM869.7 345.1H873.8V349.3H869.7zM873.5 345.1H877.3V349.3H873.5zM711.0 349.0H715.2V353.1H711.0zM714.9 349.0H719.0V353.1H714.9zM741.9 349.0H746.1V353.1H741.9zM745.8 349.0H750.0V353.1H745.8zM749.7 349.0H753.9V353.1H749.7zM792.3 349.0H796.4V353.1H792.3zM796.1 349.0H800.3V353.1H796.1zM800.0 349.0H804.2V353.1H800.0zM803.9 349.0H808.0V353.1H803.9zM807.7 349.0H811.9V353.1H807.7zM811.6 349.0H815.8V353.1H811.6zM850.3 349.0H854.5V353.1H850.3zM854.2 349.0H858.3V353.1H854.2zM858.0 349.0H862.2V353.1H858.0zM861.9 349.0H866.1V353.1H861.9zM865.8 349.0H870.0V353.1H865.8zM869.7 349.0H873.8V353.1H869.7zM703.2 352.8H707.4V357.0H703.2zM707.1 352.8H711.3V357.0H707.1zM711.0 352.8H715.2V357.0H711.0zM741.9 352.8H746.1V357.0H741.9zM745.8 352.8H750.0V357.0H745.8zM792.3 352.8H796.4V357.0H792.3zM796.1 352.8H800.3V357.0H796.1zM800.0 352.8H804.2V357.0H800.0zM803.9 352.8H808.0V357.0H803.9zM807.7 352.8H811.9V357.0H807.7zM811.6 352.8H815.8V357.0H811.6zM850.3 352.8H854.5V357.0H850.3zM854.2 352.8H858.3V357.0H854.2zM858.0 352.8H862.2V357.0H858.0zM861.9 352.8H866.1V357.0H861.9zM865.8 352.8H870.0V357.0H865.8zM869.7 352.8H873.8V357.0H869.7zM680.0 356.7H680.3V360.9H680.0zM680.0 356.7H684.2V360.9H680.0zM683.9 356.7H688.1V360.9H683.9zM687.8 356.7H691.9V360.9H687.8zM691.6 356.7H695.8V360.9H691.6zM695.5 356.7H699.7V360.9H695.5zM699.4 356.7H703.5V360.9H699.4zM703.2 356.7H707.4V360.9H703.2zM707.1 356.7H711.3V360.9H707.1zM741.9 356.7H746.1V360.9H741.9zM792.3 356.7H796.4V360.9H792.3zM796.1 356.7H800.3V360.9H796.1zM800.0 356.7H804.2V360.9H800.0zM803.9 356.7H808.0V360.9H803.9zM807.7 356.7H811.9V360.9H807.7zM850.3 356.7H854.5V360.9H850.3zM854.2 356.7H858.3V360.9H854.2zM858.0 356.7H862.2V360.9H858.0zM861.9 356.7H866.1V360.9H861.9zM865.8 356.7H870.0V360.9H865.8zM869.7 356.7H873.8V360.9H869.7zM680.0 360.6H680.3V364.7H680.0zM680.0 360.6H684.2V364.7H680.0zM683.9 360.6H688.1V364.7H683.9zM687.8 360.6H691.9V364.7H687.8zM691.6 360.6H695.8V364.7H691.6zM695.5 360.6H699.7V364.7H695.5zM699.4 360.6H703.5V364.7H699.4zM703.2 360.6H707.4V364.7H703.2zM741.9 360.6H746.1V364.7H741.9zM792.3 360.6H796.4V364.7H792.3zM796.1 360.6H800.3V364.7H796.1zM800.0 360.6H804.2V364.7H800.0zM803.9 360.6H808.0V364.7H803.9zM807.7 360.6H811.9V364.7H807.7zM850.3 360.6H854.5V364.7H850.3zM854.2 360.6H858.3V364.7H854.2zM858.0 360.6H862.2V364.7H858.0zM861.9 360.6H866.1V364.7H861.9zM865.8 360.6H870.0V364.7H865.8zM869.7 360.6H873.8V364.7H869.7zM873.5 360.6H877.3V364.7H873.5zM680.0 364.4H680.3V368.6H680.0zM680.0 364.4H684.2V368.6H680.0zM683.9 364.4H688.1V368.6H683.9zM687.8 364.4H691.9V368.6H687.8zM691.6 364.4H695.8V368.6H691.6zM695.5 364.4H699.7V368.6H695.5zM792.3 364.4H796.4V368.6H792.3zM796.1 364.4H800.3V368.6H796.1zM800.0 364.4H804.2V368.6H800.0zM803.9 364.4H808.0V368.6H803.9zM807.7 364.4H811.9V368.6H807.7zM811.6 364.4H815.8V368.6H811.6zM854.2 364.4H858.3V368.6H854.2zM858.0 364.4H862.2V368.6H858.0zM861.9 364.4H866.1V368.6H861.9zM865.8 364.4H870.0V368.6H865.8zM869.7 364.4H873.8V368.6H869.7zM873.5 364.4H877.3V368.6H873.5zM680.0 368.3H680.3V372.5H680.0zM680.0 368.3H684.2V372.5H680.0zM683.9 368.3H688.1V372.5H683.9zM687.8 368.3H691.9V372.5H687.8zM691.6 368.3H695.8V372.5H691.6zM695.5 368.3H699.7V372.5H695.5zM792.3 368.3H796.4V372.5H792.3zM796.1 368.3H800.3V372.5H796.1zM800.0 368.3H804.2V372.5H800.0zM803.9 368.3H808.0V372.5H803.9zM807.7 368.3H811.9V372.5H807.7zM811.6 368.3H815.8V372.5H811.6zM854.2 368.3H858.3V372.5H854.2zM858.0 368.3H862.2V372.5H858.0zM861.9 368.3H866.1V372.5H861.9zM865.8 368.3H870.0V372.5H865.8zM869.7 368.3H873.8V372.5H869.7zM873.5 368.3H877.3V372.5H873.5zM680.0 372.2H680.3V376.3H680.0zM680.0 372.2H684.2V376.3H680.0zM683.9 372.2H688.1V376.3H683.9zM687.8 372.2H691.9V376.3H687.8zM691.6 372.2H695.8V376.3H691.6zM792.3 372.2H796.4V376.3H792.3zM796.1 372.2H800.3V376.3H796.1zM807.7 372.2H811.9V376.3H807.7zM811.6 372.2H815.8V376.3H811.6zM815.5 372.2H819.6V376.3H815.5zM854.2 372.2H858.3V376.3H854.2zM858.0 372.2H862.2V376.3H858.0zM861.9 372.2H866.1V376.3H861.9zM865.8 372.2H870.0V376.3H865.8zM869.7 372.2H873.8V376.3H869.7zM873.5 372.2H877.3V376.3H873.5zM683.9 376.0H688.1V380.2H683.9zM687.8 376.0H691.9V380.2H687.8zM691.6 376.0H695.8V380.2H691.6zM792.3 376.0H796.4V380.2H792.3zM796.1 376.0H800.3V380.2H796.1zM807.7 376.0H811.9V380.2H807.7zM811.6 376.0H815.8V380.2H811.6zM815.5 376.0H819.6V380.2H815.5zM854.2 376.0H858.3V380.2H854.2zM858.0 376.0H862.2V380.2H858.0zM861.9 376.0H866.1V380.2H861.9zM865.8 376.0H870.0V380.2H865.8zM869.7 376.0H873.8V380.2H869.7zM873.5 376.0H877.3V380.2H873.5zM792.3 379.9H796.4V384.1H792.3zM796.1 379.9H800.3V384.1H796.1zM811.6 379.9H815.8V384.1H811.6zM815.5 379.9H819.6V384.1H815.5zM854.2 379.9H858.3V384.1H854.2zM858.0 379.9H862.2V384.1H858.0zM861.9 379.9H866.1V384.1H861.9zM865.8 379.9H870.0V384.1H865.8zM869.7 379.9H873.8V384.1H869.7zM873.5 379.9H877.3V384.1H873.5zM680.0 383.8H680.3V388.0H680.0zM680.0 383.8H684.2V388.0H680.0zM683.9 383.8H688.1V388.0H683.9zM792.3 383.8H796.4V388.0H792.3zM796.1 383.8H800.3V388.0H796.1zM807.7 383.8H811.9V388.0H807.7zM811.6 383.8H815.8V388.0H811.6zM815.5 383.8H819.6V388.0H815.5zM819.3 383.8H823.5V388.0H819.3zM854.2 383.8H858.3V388.0H854.2zM858.0 383.8H862.2V388.0H858.0zM861.9 383.8H866.1V388.0H861.9zM865.8 383.8H870.0V388.0H865.8zM869.7 383.8H873.8V388.0H869.7zM873.5 383.8H877.3V388.0H873.5zM680.0 387.7H680.3V391.8H680.0zM680.0 387.7H684.2V391.8H680.0zM683.9 387.7H688.1V391.8H683.9zM792.3 387.7H796.4V391.8H792.3zM796.1 387.7H800.3V391.8H796.1zM800.0 387.7H804.2V391.8H800.0zM807.7 387.7H811.9V391.8H807.7zM811.6 387.7H815.8V391.8H811.6zM815.5 387.7H819.6V391.8H815.5zM819.3 387.7H823.5V391.8H819.3zM854.2 387.7H858.3V391.8H854.2zM858.0 387.7H862.2V391.8H858.0zM861.9 387.7H866.1V391.8H861.9zM865.8 387.7H870.0V391.8H865.8zM869.7 387.7H873.8V391.8H869.7zM873.5 387.7H877.3V391.8H873.5zM680.0 391.5H680.3V395.7H680.0zM680.0 391.5H684.2V395.7H680.0zM683.9 391.5H688.1V395.7H683.9zM792.3 391.5H796.4V395.7H792.3zM796.1 391.5H800.3V395.7H796.1zM800.0 391.5H804.2V395.7H800.0zM803.9 391.5H808.0V395.7H803.9zM807.7 391.5H811.9V395.7H807.7zM811.6 391.5H815.8V395.7H811.6zM815.5 391.5H819.6V395.7H815.5zM819.3 391.5H823.5V395.7H819.3zM823.2 391.5H827.4V395.7H823.2zM854.2 391.5H858.3V395.7H854.2zM858.0 391.5H862.2V395.7H858.0zM861.9 391.5H866.1V395.7H861.9zM865.8 391.5H870.0V395.7H865.8zM869.7 391.5H873.8V395.7H869.7zM873.5 391.5H877.3V395.7H873.5zM680.0 395.4H680.3V399.6H680.0zM680.0 395.4H684.2V399.6H680.0zM683.9 395.4H688.1V399.6H683.9zM792.3 395.4H796.4V399.6H792.3zM796.1 395.4H800.3V399.6H796.1zM800.0 395.4H804.2V399.6H800.0zM803.9 395.4H808.0V399.6H803.9zM807.7 395.4H811.9V399.6H807.7zM811.6 395.4H815.8V399.6H811.6zM815.5 395.4H819.6V399.6H815.5zM819.3 395.4H823.5V399.6H819.3zM823.2 395.4H827.4V399.6H823.2zM827.1 395.4H831.3V399.6H827.1zM854.2 395.4H858.3V399.6H854.2zM858.0 395.4H862.2V399.6H858.0zM861.9 395.4H866.1V399.6H861.9zM865.8 395.4H870.0V399.6H865.8zM869.7 395.4H873.8V399.6H869.7zM873.5 395.4H877.3V399.6H873.5zM680.0 399.3H680.3V403.4H680.0zM680.0 399.3H684.2V403.4H680.0zM683.9 399.3H688.1V403.4H683.9zM792.3 399.3H796.4V403.4H792.3zM796.1 399.3H800.3V403.4H796.1zM800.0 399.3H804.2V403.4H800.0zM803.9 399.3H808.0V403.4H803.9zM807.7 399.3H811.9V403.4H807.7zM811.6 399.3H815.8V403.4H811.6zM815.5 399.3H819.6V403.4H815.5zM819.3 399.3H823.5V403.4H819.3zM823.2 399.3H827.4V403.4H823.2zM827.1 399.3H831.3V403.4H827.1zM831.0 399.3H835.1V403.4H831.0zM858.0 399.3H862.2V403.4H858.0zM861.9 399.3H866.1V403.4H861.9zM865.8 399.3H870.0V403.4H865.8zM869.7 399.3H873.8V403.4H869.7zM873.5 399.3H877.3V403.4H873.5zM680.0 403.1H680.3V407.3H680.0zM680.0 403.1H684.2V407.3H680.0zM749.7 403.1H753.9V407.3H749.7zM792.3 403.1H796.4V407.3H792.3zM796.1 403.1H800.3V407.3H796.1zM800.0 403.1H804.2V407.3H800.0zM803.9 403.1H808.0V407.3H803.9zM815.5 403.1H819.6V407.3H815.5zM819.3 403.1H823.5V407.3H819.3zM823.2 403.1H827.4V407.3H823.2zM827.1 403.1H831.3V407.3H827.1zM831.0 403.1H835.1V407.3H831.0zM834.8 403.1H839.0V407.3H834.8zM858.0 403.1H862.2V407.3H858.0zM861.9 403.1H866.1V407.3H861.9zM865.8 403.1H870.0V407.3H865.8zM869.7 403.1H873.8V407.3H869.7zM873.5 403.1H877.3V407.3H873.5zM680.0 407.0H680.3V411.2H680.0zM680.0 407.0H684.2V411.2H680.0zM749.7 407.0H753.9V411.2H749.7zM753.6 407.0H757.7V411.2H753.6zM757.4 407.0H761.6V411.2H757.4zM788.4 407.0H792.6V411.2H788.4zM792.3 407.0H796.4V411.2H792.3zM796.1 407.0H800.3V411.2H796.1zM800.0 407.0H804.2V411.2H800.0zM819.3 407.0H823.5V411.2H819.3zM823.2 407.0H827.4V411.2H823.2zM827.1 407.0H831.3V411.2H827.1zM831.0 407.0H835.1V411.2H831.0zM834.8 407.0H839.0V411.2H834.8zM861.9 407.0H866.1V411.2H861.9zM865.8 407.0H870.0V411.2H865.8zM869.7 407.0H873.8V411.2H869.7zM873.5 407.0H877.3V411.2H873.5zM680.0 410.9H680.3V415.0H680.0zM680.0 410.9H684.2V415.0H680.0zM722.6 410.9H726.8V415.0H722.6zM726.5 410.9H730.6V415.0H726.5zM730.3 410.9H734.5V415.0H730.3zM734.2 410.9H738.4V415.0H734.2zM738.1 410.9H742.2V415.0H738.1zM741.9 410.9H746.1V415.0H741.9zM745.8 410.9H750.0V415.0H745.8zM749.7 410.9H753.9V415.0H749.7zM753.6 410.9H757.7V415.0H753.6zM757.4 410.9H761.6V415.0H757.4zM761.3 410.9H765.5V415.0H761.3zM788.4 410.9H792.6V415.0H788.4zM792.3 410.9H796.4V415.0H792.3zM796.1 410.9H800.3V415.0H796.1zM819.3 410.9H823.5V415.0H819.3zM823.2 410.9H827.4V415.0H823.2zM827.1 410.9H831.3V415.0H827.1zM831.0 410.9H835.1V415.0H831.0zM834.8 410.9H839.0V415.0H834.8zM861.9 410.9H866.1V415.0H861.9zM865.8 410.9H870.0V415.0H865.8zM869.7 410.9H873.8V415.0H869.7zM873.5 410.9H877.3V415.0H873.5zM718.7 414.7H722.9V418.9H718.7zM722.6 414.7H726.8V418.9H722.6zM726.5 414.7H730.6V418.9H726.5zM730.3 414.7H734.5V418.9H730.3zM734.2 414.7H738.4V418.9H734.2zM738.1 414.7H742.2V418.9H738.1zM741.9 414.7H746.1V418.9H741.9zM745.8 414.7H750.0V418.9H745.8zM749.7 414.7H753.9V418.9H749.7zM753.6 414.7H757.7V418.9H753.6zM757.4 414.7H761.6V418.9H757.4zM761.3 414.7H765.5V418.9H761.3zM765.2 414.7H769.3V418.9H765.2zM784.5 414.7H788.7V418.9H784.5zM788.4 414.7H792.6V418.9H788.4zM792.3 414.7H796.4V418.9H792.3zM796.1 414.7H800.3V418.9H796.1zM823.2 414.7H827.4V418.9H823.2zM827.1 414.7H831.3V418.9H827.1zM831.0 414.7H835.1V418.9H831.0zM834.8 414.7H839.0V418.9H834.8zM861.9 414.7H866.1V418.9H861.9zM865.8 414.7H870.0V418.9H865.8zM869.7 414.7H873.8V418.9H869.7zM714.9 418.6H719.0V422.8H714.9zM718.7 418.6H722.9V422.8H718.7zM734.2 418.6H738.4V422.8H734.2zM738.1 418.6H742.2V422.8H738.1zM741.9 418.6H746.1V422.8H741.9zM745.8 418.6H750.0V422.8H745.8zM749.7 418.6H753.9V422.8H749.7zM753.6 418.6H757.7V422.8H753.6zM757.4 418.6H761.6V422.8H757.4zM761.3 418.6H765.5V422.8H761.3zM765.2 418.6H769.3V422.8H765.2zM769.0 418.6H773.2V422.8H769.0zM776.8 418.6H780.9V422.8H776.8zM780.6 418.6H784.8V422.8H780.6zM784.5 418.6H788.7V422.8H784.5zM788.4 418.6H792.6V422.8H788.4zM792.3 418.6H796.4V422.8H792.3zM796.1 418.6H800.3V422.8H796.1zM823.2 418.6H827.4V422.8H823.2zM827.1 418.6H831.3V422.8H827.1zM831.0 418.6H835.1V422.8H831.0zM834.8 418.6H839.0V422.8H834.8zM861.9 418.6H866.1V422.8H861.9zM865.8 418.6H870.0V422.8H865.8zM714.9 422.5H719.0V426.7H714.9zM718.7 422.5H722.9V426.7H718.7zM738.1 422.5H742.2V426.7H738.1zM741.9 422.5H746.1V426.7H741.9zM745.8 422.5H750.0V426.7H745.8zM749.7 422.5H753.9V426.7H749.7zM753.6 422.5H757.7V426.7H753.6zM757.4 422.5H761.6V426.7H757.4zM761.3 422.5H765.5V426.7H761.3zM765.2 422.5H769.3V426.7H765.2zM769.0 422.5H773.2V426.7H769.0zM772.9 422.5H777.1V426.7H772.9zM776.8 422.5H780.9V426.7H776.8zM780.6 422.5H784.8V426.7H780.6zM784.5 422.5H788.7V426.7H784.5zM788.4 422.5H792.6V426.7H788.4zM792.3 422.5H796.4V426.7H792.3zM796.1 422.5H800.3V426.7H796.1zM827.1 422.5H831.3V426.7H827.1zM831.0 422.5H835.1V426.7H831.0zM861.9 422.5H866.1V426.7H861.9zM865.8 422.5H870.0V426.7H865.8zM711.0 426.4H715.2V430.5H711.0zM714.9 426.4H719.0V430.5H714.9zM745.8 426.4H750.0V430.5H745.8zM749.7 426.4H753.9V430.5H749.7zM753.6 426.4H757.7V430.5H753.6zM757.4 426.4H761.6V430.5H757.4zM761.3 426.4H765.5V430.5H761.3zM765.2 426.4H769.3V430.5H765.2zM769.0 426.4H773.2V430.5H769.0zM772.9 426.4H777.1V430.5H772.9zM776.8 426.4H780.9V430.5H776.8zM780.6 426.4H784.8V430.5H780.6zM784.5 426.4H788.7V430.5H784.5zM788.4 426.4H792.6V430.5H788.4zM796.1 426.4H800.3V430.5H796.1zM831.0 426.4H835.1V430.5H831.0zM861.9 426.4H866.1V430.5H861.9zM865.8 426.4H870.0V430.5H865.8zM711.0 430.2H715.2V434.4H711.0zM714.9 430.2H719.0V434.4H714.9zM749.7 430.2H753.9V434.4H749.7zM753.6 430.2H757.7V434.4H753.6zM757.4 430.2H761.6V434.4H757.4zM761.3 430.2H765.5V434.4H761.3zM765.2 430.2H769.3V434.4H765.2zM769.0 430.2H773.2V434.4H769.0zM772.9 430.2H777.1V434.4H772.9zM776.8 430.2H780.9V434.4H776.8zM780.6 430.2H784.8V434.4H780.6zM784.5 430.2H788.7V434.4H784.5zM796.1 430.2H800.3V434.4H796.1zM861.9 430.2H866.1V434.4H861.9zM865.8 430.2H870.0V434.4H865.8zM711.0 434.1H715.2V438.3H711.0zM714.9 434.1H719.0V438.3H714.9zM753.6 434.1H757.7V438.3H753.6zM757.4 434.1H761.6V438.3H757.4zM765.2 434.1H769.3V438.3H765.2zM769.0 434.1H773.2V438.3H769.0zM772.9 434.1H777.1V438.3H772.9zM776.8 434.1H780.9V438.3H776.8zM780.6 434.1H784.8V438.3H780.6zM796.1 434.1H800.3V438.3H796.1zM861.9 434.1H866.1V438.3H861.9zM865.8 434.1H870.0V438.3H865.8zM707.1 438.0H711.3V442.1H707.1zM711.0 438.0H715.2V442.1H711.0zM753.6 438.0H757.7V442.1H753.6zM769.0 438.0H773.2V442.1H769.0zM772.9 438.0H777.1V442.1H772.9zM776.8 438.0H780.9V442.1H776.8zM796.1 438.0H800.3V442.1H796.1zM861.9 438.0H866.1V442.1H861.9zM865.8 438.0H870.0V442.1H865.8zM711.0 441.8H715.2V446.0H711.0zM714.9 441.8H719.0V446.0H714.9zM753.6 441.8H757.7V446.0H753.6zM772.9 441.8H777.1V446.0H772.9zM796.1 441.8H800.3V446.0H796.1zM711.0 445.7H715.2V449.9H711.0zM714.9 445.7H719.0V449.9H714.9zM796.1 445.7H800.3V449.9H796.1zM711.0 449.6H715.2V453.7H711.0zM714.9 449.6H719.0V453.7H714.9zM757.4 449.6H761.6V453.7H757.4zM761.3 449.6H765.5V453.7H761.3zM765.2 449.6H769.3V453.7H765.2zM796.1 449.6H800.3V453.7H796.1zM800.0 449.6H804.2V453.7H800.0zM711.0 453.4H715.2V457.6H711.0zM714.9 453.4H719.0V457.6H714.9zM749.7 453.4H753.9V457.6H749.7zM753.6 453.4H757.7V457.6H753.6zM757.4 453.4H761.6V457.6H757.4zM761.3 453.4H765.5V457.6H761.3zM765.2 453.4H769.3V457.6H765.2zM769.0 453.4H773.2V457.6H769.0zM772.9 453.4H777.1V457.6H772.9zM796.1 453.4H800.3V457.6H796.1zM800.0 453.4H804.2V457.6H800.0zM680.0 457.3H680.3V461.5H680.0zM680.0 457.3H684.2V461.5H680.0zM707.1 457.3H711.3V461.5H707.1zM711.0 457.3H715.2V461.5H711.0zM749.7 457.3H753.9V461.5H749.7zM753.6 457.3H757.7V461.5H753.6zM757.4 457.3H761.6V461.5H757.4zM761.3 457.3H765.5V461.5H761.3zM765.2 457.3H769.3V461.5H765.2zM769.0 457.3H773.2V461.5H769.0zM772.9 457.3H777.1V461.5H772.9zM796.1 457.3H800.3V461.5H796.1zM800.0 457.3H804.2V461.5H800.0zM827.1 457.3H831.3V461.5H827.1zM831.0 457.3H835.1V461.5H831.0zM834.8 457.3H839.0V461.5H834.8zM850.3 457.3H854.5V461.5H850.3zM854.2 457.3H858.3V461.5H854.2zM858.0 457.3H862.2V461.5H858.0zM861.9 457.3H866.1V461.5H861.9zM680.0 461.2H680.3V465.4H680.0zM680.0 461.2H684.2V465.4H680.0zM683.9 461.2H688.1V465.4H683.9zM699.4 461.2H703.5V465.4H699.4zM703.2 461.2H707.4V465.4H703.2zM707.1 461.2H711.3V465.4H707.1zM711.0 461.2H715.2V465.4H711.0zM745.8 461.2H750.0V465.4H745.8zM749.7 461.2H753.9V465.4H749.7zM753.6 461.2H757.7V465.4H753.6zM757.4 461.2H761.6V465.4H757.4zM765.2 461.2H769.3V465.4H765.2zM769.0 461.2H773.2V465.4H769.0zM772.9 461.2H777.1V465.4H772.9zM796.1 461.2H800.3V465.4H796.1zM800.0 461.2H804.2V465.4H800.0zM803.9 461.2H808.0V465.4H803.9zM823.2 461.2H827.4V465.4H823.2zM827.1 461.2H831.3V465.4H827.1zM831.0 461.2H835.1V465.4H831.0zM834.8 461.2H839.0V465.4H834.8zM838.7 461.2H842.9V465.4H838.7zM842.6 461.2H846.7V465.4H842.6zM846.4 461.2H850.6V465.4H846.4zM850.3 461.2H854.5V465.4H850.3zM854.2 461.2H858.3V465.4H854.2zM858.0 461.2H862.2V465.4H858.0zM861.9 461.2H866.1V465.4H861.9zM865.8 461.2H870.0V465.4H865.8zM869.7 461.2H873.8V465.4H869.7zM873.5 461.2H877.3V465.4H873.5zM680.0 465.1H680.3V469.2H680.0zM680.0 465.1H684.2V469.2H680.0zM683.9 465.1H688.1V469.2H683.9zM687.8 465.1H691.9V469.2H687.8zM691.6 465.1H695.8V469.2H691.6zM695.5 465.1H699.7V469.2H695.5zM699.4 465.1H703.5V469.2H699.4zM703.2 465.1H707.4V469.2H703.2zM707.1 465.1H711.3V469.2H707.1zM711.0 465.1H715.2V469.2H711.0zM745.8 465.1H750.0V469.2H745.8zM749.7 465.1H753.9V469.2H749.7zM769.0 465.1H773.2V469.2H769.0zM772.9 465.1H777.1V469.2H772.9zM796.1 465.1H800.3V469.2H796.1zM800.0 465.1H804.2V469.2H800.0zM803.9 465.1H808.0V469.2H803.9zM823.2 465.1H827.4V469.2H823.2zM827.1 465.1H831.3V469.2H827.1zM831.0 465.1H835.1V469.2H831.0zM834.8 465.1H839.0V469.2H834.8zM838.7 465.1H842.9V469.2H838.7zM842.6 465.1H846.7V469.2H842.6zM846.4 465.1H850.6V469.2H846.4zM850.3 465.1H854.5V469.2H850.3zM854.2 465.1H858.3V469.2H854.2zM858.0 465.1H862.2V469.2H858.0zM861.9 465.1H866.1V469.2H861.9zM865.8 465.1H870.0V469.2H865.8zM869.7 465.1H873.8V469.2H869.7zM873.5 465.1H877.3V469.2H873.5zM680.0 468.9H680.3V473.1H680.0zM680.0 468.9H684.2V473.1H680.0zM683.9 468.9H688.1V473.1H683.9zM687.8 468.9H691.9V473.1H687.8zM691.6 468.9H695.8V473.1H691.6zM695.5 468.9H699.7V473.1H695.5zM699.4 468.9H703.5V473.1H699.4zM703.2 468.9H707.4V473.1H703.2zM745.8 468.9H750.0V473.1H745.8zM749.7 468.9H753.9V473.1H749.7zM769.0 468.9H773.2V473.1H769.0zM772.9 468.9H777.1V473.1H772.9zM776.8 468.9H780.9V473.1H776.8zM796.1 468.9H800.3V473.1H796.1zM800.0 468.9H804.2V473.1H800.0zM803.9 468.9H808.0V473.1H803.9zM807.7 468.9H811.9V473.1H807.7zM815.5 468.9H819.6V473.1H815.5zM819.3 468.9H823.5V473.1H819.3zM823.2 468.9H827.4V473.1H823.2zM827.1 468.9H831.3V473.1H827.1zM831.0 468.9H835.1V473.1H831.0zM834.8 468.9H839.0V473.1H834.8zM838.7 468.9H842.9V473.1H838.7zM842.6 468.9H846.7V473.1H842.6zM846.4 468.9H850.6V473.1H846.4zM850.3 468.9H854.5V473.1H850.3zM854.2 468.9H858.3V473.1H854.2zM858.0 468.9H862.2V473.1H858.0zM865.8 468.9H870.0V473.1H865.8zM869.7 468.9H873.8V473.1H869.7zM873.5 468.9H877.3V473.1H873.5zM680.0 472.8H680.3V477.0H680.0zM680.0 472.8H684.2V477.0H680.0zM683.9 472.8H688.1V477.0H683.9zM687.8 472.8H691.9V477.0H687.8zM691.6 472.8H695.8V477.0H691.6zM695.5 472.8H699.7V477.0H695.5zM741.9 472.8H746.1V477.0H741.9zM745.8 472.8H750.0V477.0H745.8zM769.0 472.8H773.2V477.0H769.0zM772.9 472.8H777.1V477.0H772.9zM776.8 472.8H780.9V477.0H776.8zM796.1 472.8H800.3V477.0H796.1zM800.0 472.8H804.2V477.0H800.0zM803.9 472.8H808.0V477.0H803.9zM807.7 472.8H811.9V477.0H807.7zM811.6 472.8H815.8V477.0H811.6zM815.5 472.8H819.6V477.0H815.5zM819.3 472.8H823.5V477.0H819.3zM823.2 472.8H827.4V477.0H823.2zM827.1 472.8H831.3V477.0H827.1zM831.0 472.8H835.1V477.0H831.0zM834.8 472.8H839.0V477.0H834.8zM838.7 472.8H842.9V477.0H838.7zM846.4 472.8H850.6V477.0H846.4zM850.3 472.8H854.5V477.0H850.3zM854.2 472.8H858.3V477.0H854.2zM858.0 472.8H862.2V477.0H858.0zM869.7 472.8H873.8V477.0H869.7zM873.5 472.8H877.3V477.0H873.5zM738.1 476.7H742.2V480.8H738.1zM741.9 476.7H746.1V480.8H741.9zM745.8 476.7H750.0V480.8H745.8zM769.0 476.7H773.2V480.8H769.0zM772.9 476.7H777.1V480.8H772.9zM776.8 476.7H780.9V480.8H776.8zM780.6 476.7H784.8V480.8H780.6zM784.5 476.7H788.7V480.8H784.5zM788.4 476.7H792.6V480.8H788.4zM792.3 476.7H796.4V480.8H792.3zM796.1 476.7H800.3V480.8H796.1zM800.0 476.7H804.2V480.8H800.0zM803.9 476.7H808.0V480.8H803.9zM807.7 476.7H811.9V480.8H807.7zM811.6 476.7H815.8V480.8H811.6zM815.5 476.7H819.6V480.8H815.5zM819.3 476.7H823.5V480.8H819.3zM823.2 476.7H827.4V480.8H823.2zM827.1 476.7H831.3V480.8H827.1zM831.0 476.7H835.1V480.8H831.0zM834.8 476.7H839.0V480.8H834.8zM850.3 476.7H854.5V480.8H850.3zM854.2 476.7H858.3V480.8H854.2zM738.1 480.5H742.2V484.7H738.1zM741.9 480.5H746.1V484.7H741.9zM769.0 480.5H773.2V484.7H769.0zM772.9 480.5H777.1V484.7H772.9zM776.8 480.5H780.9V484.7H776.8zM780.6 480.5H784.8V484.7H780.6zM784.5 480.5H788.7V484.7H784.5zM788.4 480.5H792.6V484.7H788.4zM792.3 480.5H796.4V484.7H792.3zM796.1 480.5H800.3V484.7H796.1zM800.0 480.5H804.2V484.7H800.0zM803.9 480.5H808.0V484.7H803.9zM807.7 480.5H811.9V484.7H807.7zM827.1 480.5H831.3V484.7H827.1zM831.0 480.5H835.1V484.7H831.0zM850.3 480.5H854.5V484.7H850.3zM854.2 480.5H858.3V484.7H854.2zM858.0 480.5H862.2V484.7H858.0zM734.2 484.4H738.4V488.6H734.2zM738.1 484.4H742.2V488.6H738.1zM741.9 484.4H746.1V488.6H741.9zM769.0 484.4H773.2V488.6H769.0zM772.9 484.4H777.1V488.6H772.9zM776.8 484.4H780.9V488.6H776.8zM780.6 484.4H784.8V488.6H780.6zM784.5 484.4H788.7V488.6H784.5zM788.4 484.4H792.6V488.6H788.4zM796.1 484.4H800.3V488.6H796.1zM800.0 484.4H804.2V488.6H800.0zM803.9 484.4H808.0V488.6H803.9zM807.7 484.4H811.9V488.6H807.7zM827.1 484.4H831.3V488.6H827.1zM831.0 484.4H835.1V488.6H831.0zM854.2 484.4H858.3V488.6H854.2zM858.0 484.4H862.2V488.6H858.0zM711.0 488.3H715.2V492.4H711.0zM714.9 488.3H719.0V492.4H714.9zM730.3 488.3H734.5V492.4H730.3zM734.2 488.3H738.4V492.4H734.2zM738.1 488.3H742.2V492.4H738.1zM769.0 488.3H773.2V492.4H769.0zM772.9 488.3H777.1V492.4H772.9zM776.8 488.3H780.9V492.4H776.8zM800.0 488.3H804.2V492.4H800.0zM803.9 488.3H808.0V492.4H803.9zM807.7 488.3H811.9V492.4H807.7zM827.1 488.3H831.3V492.4H827.1zM831.0 488.3H835.1V492.4H831.0zM854.2 488.3H858.3V492.4H854.2zM858.0 488.3H862.2V492.4H858.0zM711.0 492.1H715.2V496.3H711.0zM714.9 492.1H719.0V496.3H714.9zM718.7 492.1H722.9V496.3H718.7zM726.5 492.1H730.6V496.3H726.5zM730.3 492.1H734.5V496.3H730.3zM734.2 492.1H738.4V496.3H734.2zM738.1 492.1H742.2V496.3H738.1zM769.0 492.1H773.2V496.3H769.0zM772.9 492.1H777.1V496.3H772.9zM803.9 492.1H808.0V496.3H803.9zM807.7 492.1H811.9V496.3H807.7zM827.1 492.1H831.3V496.3H827.1zM831.0 492.1H835.1V496.3H831.0zM854.2 492.1H858.3V496.3H854.2zM858.0 492.1H862.2V496.3H858.0zM711.0 496.0H715.2V500.2H711.0zM714.9 496.0H719.0V500.2H714.9zM718.7 496.0H722.9V500.2H718.7zM722.6 496.0H726.8V500.2H722.6zM726.5 496.0H730.6V500.2H726.5zM730.3 496.0H734.5V500.2H730.3zM734.2 496.0H738.4V500.2H734.2zM738.1 496.0H742.2V500.2H738.1zM769.0 496.0H773.2V500.2H769.0zM772.9 496.0H777.1V500.2H772.9zM803.9 496.0H808.0V500.2H803.9zM827.1 496.0H831.3V500.2H827.1zM831.0 496.0H835.1V500.2H831.0zM854.2 496.0H858.3V500.2H854.2zM858.0 496.0H862.2V500.2H858.0zM711.0 499.9H715.2V504.1H711.0zM714.9 499.9H719.0V504.1H714.9zM718.7 499.9H722.9V504.1H718.7zM722.6 499.9H726.8V504.1H722.6zM726.5 499.9H730.6V504.1H726.5zM730.3 499.9H734.5V504.1H730.3zM734.2 499.9H738.4V504.1H734.2zM803.9 499.9H808.0V504.1H803.9zM807.7 499.9H811.9V504.1H807.7zM827.1 499.9H831.3V504.1H827.1zM831.0 499.9H835.1V504.1H831.0zM854.2 499.9H858.3V504.1H854.2zM858.0 499.9H862.2V504.1H858.0zM711.0 503.8H715.2V507.9H711.0zM714.9 503.8H719.0V507.9H714.9zM718.7 503.8H722.9V507.9H718.7zM722.6 503.8H726.8V507.9H722.6zM726.5 503.8H730.6V507.9H726.5zM730.3 503.8H734.5V507.9H730.3zM734.2 503.8H738.4V507.9H734.2zM803.9 503.8H808.0V507.9H803.9zM807.7 503.8H811.9V507.9H807.7zM827.1 503.8H831.3V507.9H827.1zM831.0 503.8H835.1V507.9H831.0zM850.3 503.8H854.5V507.9H850.3zM854.2 503.8H858.3V507.9H854.2zM858.0 503.8H862.2V507.9H858.0zM869.7 503.8H873.8V507.9H869.7zM873.5 503.8H877.3V507.9H873.5zM711.0 507.6H715.2V511.8H711.0zM714.9 507.6H719.0V511.8H714.9zM718.7 507.6H722.9V511.8H718.7zM722.6 507.6H726.8V511.8H722.6zM726.5 507.6H730.6V511.8H726.5zM730.3 507.6H734.5V511.8H730.3zM734.2 507.6H738.4V511.8H734.2zM803.9 507.6H808.0V511.8H803.9zM807.7 507.6H811.9V511.8H807.7zM827.1 507.6H831.3V511.8H827.1zM831.0 507.6H835.1V511.8H831.0zM850.3 507.6H854.5V511.8H850.3zM854.2 507.6H858.3V511.8H854.2zM858.0 507.6H862.2V511.8H858.0zM865.8 507.6H870.0V511.8H865.8zM869.7 507.6H873.8V511.8H869.7zM873.5 507.6H877.3V511.8H873.5zM711.0 511.5H715.2V515.7H711.0zM714.9 511.5H719.0V515.7H714.9zM718.7 511.5H722.9V515.7H718.7zM722.6 511.5H726.8V515.7H722.6zM726.5 511.5H730.6V515.7H726.5zM730.3 511.5H734.5V515.7H730.3zM734.2 511.5H738.4V515.7H734.2zM803.9 511.5H808.0V515.7H803.9zM807.7 511.5H811.9V515.7H807.7zM823.2 511.5H827.4V515.7H823.2zM827.1 511.5H831.3V515.7H827.1zM831.0 511.5H835.1V515.7H831.0zM834.8 511.5H839.0V515.7H834.8zM846.4 511.5H850.6V515.7H846.4zM850.3 511.5H854.5V515.7H850.3zM854.2 511.5H858.3V515.7H854.2zM858.0 511.5H862.2V515.7H858.0zM861.9 511.5H866.1V515.7H861.9zM865.8 511.5H870.0V515.7H865.8zM869.7 511.5H873.8V515.7H869.7zM873.5 511.5H877.3V515.7H873.5zM707.1 515.4H711.3V519.5H707.1zM711.0 515.4H715.2V519.5H711.0zM714.9 515.4H719.0V519.5H714.9zM718.7 515.4H722.9V519.5H718.7zM722.6 515.4H726.8V519.5H722.6zM726.5 515.4H730.6V519.5H726.5zM730.3 515.4H734.5V519.5H730.3zM734.2 515.4H738.4V519.5H734.2zM803.9 515.4H808.0V519.5H803.9zM807.7 515.4H811.9V519.5H807.7zM815.5 515.4H819.6V519.5H815.5zM819.3 515.4H823.5V519.5H819.3zM823.2 515.4H827.4V519.5H823.2zM827.1 515.4H831.3V519.5H827.1zM831.0 515.4H835.1V519.5H831.0zM834.8 515.4H839.0V519.5H834.8zM838.7 515.4H842.9V519.5H838.7zM842.6 515.4H846.7V519.5H842.6zM846.4 515.4H850.6V519.5H846.4zM850.3 515.4H854.5V519.5H850.3zM854.2 515.4H858.3V519.5H854.2zM858.0 515.4H862.2V519.5H858.0zM861.9 515.4H866.1V519.5H861.9zM865.8 515.4H870.0V519.5H865.8zM869.7 515.4H873.8V519.5H869.7zM873.5 515.4H877.3V519.5H873.5zM707.1 519.2H711.3V523.4H707.1zM711.0 519.2H715.2V523.4H711.0zM714.9 519.2H719.0V523.4H714.9zM718.7 519.2H722.9V523.4H718.7zM722.6 519.2H726.8V523.4H722.6zM726.5 519.2H730.6V523.4H726.5zM730.3 519.2H734.5V523.4H730.3zM803.9 519.2H808.0V523.4H803.9zM807.7 519.2H811.9V523.4H807.7zM811.6 519.2H815.8V523.4H811.6zM815.5 519.2H819.6V523.4H815.5zM819.3 519.2H823.5V523.4H819.3zM823.2 519.2H827.4V523.4H823.2zM827.1 519.2H831.3V523.4H827.1zM831.0 519.2H835.1V523.4H831.0zM834.8 519.2H839.0V523.4H834.8zM838.7 519.2H842.9V523.4H838.7zM842.6 519.2H846.7V523.4H842.6zM846.4 519.2H850.6V523.4H846.4zM850.3 519.2H854.5V523.4H850.3zM854.2 519.2H858.3V523.4H854.2zM858.0 519.2H862.2V523.4H858.0zM861.9 519.2H866.1V523.4H861.9zM865.8 519.2H870.0V523.4H865.8zM869.7 519.2H873.8V523.4H869.7zM873.5 519.2H877.3V523.4H873.5zM707.1 523.1H711.3V527.3H707.1zM711.0 523.1H715.2V527.3H711.0zM714.9 523.1H719.0V527.3H714.9zM718.7 523.1H722.9V527.3H718.7zM722.6 523.1H726.8V527.3H722.6zM726.5 523.1H730.6V527.3H726.5zM730.3 523.1H734.5V527.3H730.3zM807.7 523.1H811.9V527.3H807.7zM811.6 523.1H815.8V527.3H811.6zM815.5 523.1H819.6V527.3H815.5zM819.3 523.1H823.5V527.3H819.3zM842.6 523.1H846.7V527.3H842.6zM846.4 523.1H850.6V527.3H846.4zM850.3 523.1H854.5V527.3H850.3zM854.2 523.1H858.3V527.3H854.2zM858.0 523.1H862.2V527.3H858.0zM861.9 523.1H866.1V527.3H861.9zM865.8 523.1H870.0V527.3H865.8zM869.7 523.1H873.8V527.3H869.7zM873.5 523.1H877.3V527.3H873.5zM707.1 527.0H711.3V531.1H707.1zM711.0 527.0H715.2V531.1H711.0zM714.9 527.0H719.0V531.1H714.9zM718.7 527.0H722.9V531.1H718.7zM722.6 527.0H726.8V531.1H722.6zM726.5 527.0H730.6V531.1H726.5zM730.3 527.0H734.5V531.1H730.3zM807.7 527.0H811.9V531.1H807.7zM811.6 527.0H815.8V531.1H811.6zM846.4 527.0H850.6V531.1H846.4zM850.3 527.0H854.5V531.1H850.3zM854.2 527.0H858.3V531.1H854.2zM858.0 527.0H862.2V531.1H858.0zM861.9 527.0H866.1V531.1H861.9zM865.8 527.0H870.0V531.1H865.8zM869.7 527.0H873.8V531.1H869.7zM873.5 527.0H877.3V531.1H873.5zM711.0 530.8H715.2V535.0H711.0zM714.9 530.8H719.0V535.0H714.9zM718.7 530.8H722.9V535.0H718.7zM722.6 530.8H726.8V535.0H722.6zM726.5 530.8H730.6V535.0H726.5zM730.3 530.8H734.5V535.0H730.3zM807.7 530.8H811.9V535.0H807.7zM811.6 530.8H815.8V535.0H811.6zM858.0 530.8H862.2V535.0H858.0zM861.9 530.8H866.1V535.0H861.9zM865.8 530.8H870.0V535.0H865.8zM869.7 530.8H873.8V535.0H869.7zM873.5 530.8H877.3V535.0H873.5zM711.0 534.7H715.2V538.9H711.0zM714.9 534.7H719.0V538.9H714.9zM718.7 534.7H722.9V538.9H718.7zM722.6 534.7H726.8V538.9H722.6zM726.5 534.7H730.6V538.9H726.5zM730.3 534.7H734.5V538.9H730.3zM803.9 534.7H808.0V538.9H803.9zM807.7 534.7H811.9V538.9H807.7zM711.0 538.6H715.2V542.8H711.0zM714.9 538.6H719.0V542.8H714.9zM718.7 538.6H722.9V542.8H718.7zM722.6 538.6H726.8V542.8H722.6zM726.5 538.6H730.6V542.8H726.5zM800.0 538.6H804.2V542.8H800.0zM803.9 538.6H808.0V542.8H803.9zM807.7 538.6H811.9V542.8H807.7zM714.9 542.5H719.0V546.6H714.9zM718.7 542.5H722.9V546.6H718.7zM722.6 542.5H726.8V546.6H722.6zM726.5 542.5H730.6V546.6H726.5zM784.5 542.5H788.7V546.6H784.5zM796.1 542.5H800.3V546.6H796.1zM800.0 542.5H804.2V546.6H800.0zM803.9 542.5H808.0V546.6H803.9zM807.7 542.5H811.9V546.6H807.7zM714.9 546.3H719.0V550.5H714.9zM718.7 546.3H722.9V550.5H718.7zM722.6 546.3H726.8V550.5H722.6zM726.5 546.3H730.6V550.5H726.5zM780.6 546.3H784.8V550.5H780.6zM784.5 546.3H788.7V550.5H784.5zM788.4 546.3H792.6V550.5H788.4zM792.3 546.3H796.4V550.5H792.3zM796.1 546.3H800.3V550.5H796.1zM800.0 546.3H804.2V550.5H800.0zM803.9 546.3H808.0V550.5H803.9zM807.7 546.3H811.9V550.5H807.7zM714.9 550.2H719.0V554.4H714.9zM718.7 550.2H722.9V554.4H718.7zM722.6 550.2H726.8V554.4H722.6zM726.5 550.2H730.6V554.4H726.5zM780.6 550.2H784.8V554.4H780.6zM784.5 550.2H788.7V554.4H784.5zM788.4 550.2H792.6V554.4H788.4zM792.3 550.2H796.4V554.4H792.3zM796.1 550.2H800.3V554.4H796.1zM800.0 550.2H804.2V554.4H800.0zM803.9 550.2H808.0V554.4H803.9zM807.7 550.2H811.9V554.4H807.7zM714.9 554.1H719.0V557.3H714.9zM718.7 554.1H722.9V557.3H718.7zM722.6 554.1H726.8V557.3H722.6zM726.5 554.1H730.6V557.3H726.5zM780.6 554.1H784.8V557.3H780.6zM784.5 554.1H788.7V557.3H784.5zM788.4 554.1H792.6V557.3H788.4zM792.3 554.1H796.4V557.3H792.3zM796.1 554.1H800.3V557.3H796.1zM803.9 554.1H808.0V557.3H803.9zM807.7 554.1H811.9V557.3H807.7z"/>
<path fill="#64ec00" d="M776.8 333.5H780.9V337.6H776.8zM780.6 333.5H784.8V337.6H780.6zM765.2 337.3H769.3V341.5H765.2zM769.0 337.3H773.2V341.5H769.0zM772.9 337.3H777.1V341.5H772.9zM776.8 337.3H780.9V341.5H776.8zM780.6 337.3H784.8V341.5H780.6zM784.5 337.3H788.7V341.5H784.5zM788.4 337.3H792.6V341.5H788.4zM757.4 341.2H761.6V345.4H757.4zM761.3 341.2H765.5V345.4H761.3zM765.2 341.2H769.3V345.4H765.2zM784.5 341.2H788.7V345.4H784.5zM788.4 341.2H792.6V345.4H788.4zM722.6 345.1H726.8V349.3H722.6zM726.5 345.1H730.6V349.3H726.5zM730.3 345.1H734.5V349.3H730.3zM734.2 345.1H738.4V349.3H734.2zM757.4 345.1H761.6V349.3H757.4zM788.4 345.1H792.6V349.3H788.4zM823.2 345.1H827.4V349.3H823.2zM827.1 345.1H831.3V349.3H827.1zM831.0 345.1H835.1V349.3H831.0zM834.8 345.1H839.0V349.3H834.8zM838.7 345.1H842.9V349.3H838.7zM718.7 349.0H722.9V353.1H718.7zM722.6 349.0H726.8V353.1H722.6zM726.5 349.0H730.6V353.1H726.5zM730.3 349.0H734.5V353.1H730.3zM734.2 349.0H738.4V353.1H734.2zM738.1 349.0H742.2V353.1H738.1zM753.6 349.0H757.7V353.1H753.6zM788.4 349.0H792.6V353.1H788.4zM815.5 349.0H819.6V353.1H815.5zM819.3 349.0H823.5V353.1H819.3zM823.2 349.0H827.4V353.1H823.2zM827.1 349.0H831.3V353.1H827.1zM831.0 349.0H835.1V353.1H831.0zM834.8 349.0H839.0V353.1H834.8zM838.7 349.0H842.9V353.1H838.7zM842.6 349.0H846.7V353.1H842.6zM846.4 349.0H850.6V353.1H846.4zM873.5 349.0H877.3V353.1H873.5zM714.9 352.8H719.0V357.0H714.9zM718.7 352.8H722.9V357.0H718.7zM734.2 352.8H738.4V357.0H734.2zM738.1 352.8H742.2V357.0H738.1zM749.7 352.8H753.9V357.0H749.7zM753.6 352.8H757.7V357.0H753.6zM788.4 352.8H792.6V357.0H788.4zM815.5 352.8H819.6V357.0H815.5zM819.3 352.8H823.5V357.0H819.3zM823.2 352.8H827.4V357.0H823.2zM827.1 352.8H831.3V357.0H827.1zM831.0 352.8H835.1V357.0H831.0zM834.8 352.8H839.0V357.0H834.8zM842.6 352.8H846.7V357.0H842.6zM846.4 352.8H850.6V357.0H846.4zM873.5 352.8H877.3V357.0H873.5zM711.0 356.7H715.2V360.9H711.0zM714.9 356.7H719.0V360.9H714.9zM738.1 356.7H742.2V360.9H738.1zM745.8 356.7H750.0V360.9H745.8zM749.7 356.7H753.9V360.9H749.7zM753.6 356.7H757.7V360.9H753.6zM788.4 356.7H792.6V360.9H788.4zM811.6 356.7H815.8V360.9H811.6zM815.5 356.7H819.6V360.9H815.5zM819.3 356.7H823.5V360.9H819.3zM823.2 356.7H827.4V360.9H823.2zM827.1 356.7H831.3V360.9H827.1zM846.4 356.7H850.6V360.9H846.4zM873.5 356.7H877.3V360.9H873.5zM707.1 360.6H711.3V364.7H707.1zM711.0 360.6H715.2V364.7H711.0zM738.1 360.6H742.2V364.7H738.1zM745.8 360.6H750.0V364.7H745.8zM749.7 360.6H753.9V364.7H749.7zM788.4 360.6H792.6V364.7H788.4zM811.6 360.6H815.8V364.7H811.6zM815.5 360.6H819.6V364.7H815.5zM819.3 360.6H823.5V364.7H819.3zM823.2 360.6H827.4V364.7H823.2zM846.4 360.6H850.6V364.7H846.4zM699.4 364.4H703.5V368.6H699.4zM703.2 364.4H707.4V368.6H703.2zM707.1 364.4H711.3V368.6H707.1zM738.1 364.4H742.2V368.6H738.1zM741.9 364.4H746.1V368.6H741.9zM745.8 364.4H750.0V368.6H745.8zM749.7 364.4H753.9V368.6H749.7zM788.4 364.4H792.6V368.6H788.4zM815.5 364.4H819.6V368.6H815.5zM819.3 364.4H823.5V368.6H819.3zM823.2 364.4H827.4V368.6H823.2zM846.4 364.4H850.6V368.6H846.4zM850.3 364.4H854.5V368.6H850.3zM699.4 368.3H703.5V372.5H699.4zM703.2 368.3H707.4V372.5H703.2zM734.2 368.3H738.4V372.5H734.2zM738.1 368.3H742.2V372.5H738.1zM741.9 368.3H746.1V372.5H741.9zM745.8 368.3H750.0V372.5H745.8zM749.7 368.3H753.9V372.5H749.7zM788.4 368.3H792.6V372.5H788.4zM815.5 368.3H819.6V372.5H815.5zM819.3 368.3H823.5V372.5H819.3zM823.2 368.3H827.4V372.5H823.2zM846.4 368.3H850.6V372.5H846.4zM850.3 368.3H854.5V372.5H850.3zM695.5 372.2H699.7V376.3H695.5zM699.4 372.2H703.5V376.3H699.4zM734.2 372.2H738.4V376.3H734.2zM738.1 372.2H742.2V376.3H738.1zM741.9 372.2H746.1V376.3H741.9zM745.8 372.2H750.0V376.3H745.8zM788.4 372.2H792.6V376.3H788.4zM819.3 372.2H823.5V376.3H819.3zM823.2 372.2H827.4V376.3H823.2zM846.4 372.2H850.6V376.3H846.4zM850.3 372.2H854.5V376.3H850.3zM680.0 376.0H680.3V380.2H680.0zM680.0 376.0H684.2V380.2H680.0zM695.5 376.0H699.7V380.2H695.5zM699.4 376.0H703.5V380.2H699.4zM734.2 376.0H738.4V380.2H734.2zM738.1 376.0H742.2V380.2H738.1zM741.9 376.0H746.1V380.2H741.9zM745.8 376.0H750.0V380.2H745.8zM788.4 376.0H792.6V380.2H788.4zM819.3 376.0H823.5V380.2H819.3zM823.2 376.0H827.4V380.2H823.2zM827.1 376.0H831.3V380.2H827.1zM846.4 376.0H850.6V380.2H846.4zM850.3 376.0H854.5V380.2H850.3zM680.0 379.9H680.3V384.1H680.0zM680.0 379.9H684.2V384.1H680.0zM683.9 379.9H688.1V384.1H683.9zM687.8 379.9H691.9V384.1H687.8zM691.6 379.9H695.8V384.1H691.6zM695.5 379.9H699.7V384.1H695.5zM730.3 379.9H734.5V384.1H730.3zM734.2 379.9H738.4V384.1H734.2zM738.1 379.9H742.2V384.1H738.1zM741.9 379.9H746.1V384.1H741.9zM745.8 379.9H750.0V384.1H745.8zM788.4 379.9H792.6V384.1H788.4zM819.3 379.9H823.5V384.1H819.3zM823.2 379.9H827.4V384.1H823.2zM827.1 379.9H831.3V384.1H827.1zM846.4 379.9H850.6V384.1H846.4zM850.3 379.9H854.5V384.1H850.3zM687.8 383.8H691.9V388.0H687.8zM691.6 383.8H695.8V388.0H691.6zM695.5 383.8H699.7V388.0H695.5zM730.3 383.8H734.5V388.0H730.3zM734.2 383.8H738.4V388.0H734.2zM738.1 383.8H742.2V388.0H738.1zM741.9 383.8H746.1V388.0H741.9zM745.8 383.8H750.0V388.0H745.8zM749.7 383.8H753.9V388.0H749.7zM753.6 383.8H757.7V388.0H753.6zM788.4 383.8H792.6V388.0H788.4zM823.2 383.8H827.4V388.0H823.2zM827.1 383.8H831.3V388.0H827.1zM846.4 383.8H850.6V388.0H846.4zM850.3 383.8H854.5V388.0H850.3zM687.8 387.7H691.9V391.8H687.8zM691.6 387.7H695.8V391.8H691.6zM730.3 387.7H734.5V391.8H730.3zM734.2 387.7H738.4V391.8H734.2zM738.1 387.7H742.2V391.8H738.1zM741.9 387.7H746.1V391.8H741.9zM745.8 387.7H750.0V391.8H745.8zM749.7 387.7H753.9V391.8H749.7zM753.6 387.7H757.7V391.8H753.6zM757.4 387.7H761.6V391.8H757.4zM788.4 387.7H792.6V391.8H788.4zM823.2 387.7H827.4V391.8H823.2zM827.1 387.7H831.3V391.8H827.1zM846.4 387.7H850.6V391.8H846.4zM850.3 387.7H854.5V391.8H850.3zM687.8 391.5H691.9V395.7H687.8zM730.3 391.5H734.5V395.7H730.3zM734.2 391.5H738.4V395.7H734.2zM738.1 391.5H742.2V395.7H738.1zM741.9 391.5H746.1V395.7H741.9zM745.8 391.5H750.0V395.7H745.8zM749.7 391.5H753.9V395.7H749.7zM753.6 391.5H757.7V395.7H753.6zM757.4 391.5H761.6V395.7H757.4zM761.3 391.5H765.5V395.7H761.3zM788.4 391.5H792.6V395.7H788.4zM827.1 391.5H831.3V395.7H827.1zM831.0 391.5H835.1V395.7H831.0zM834.8 391.5H839.0V395.7H834.8zM838.7 391.5H842.9V395.7H838.7zM846.4 391.5H850.6V395.7H846.4zM850.3 391.5H854.5V395.7H850.3zM687.8 395.4H691.9V399.6H687.8zM730.3 395.4H734.5V399.6H730.3zM734.2 395.4H738.4V399.6H734.2zM738.1 395.4H742.2V399.6H738.1zM741.9 395.4H746.1V399.6H741.9zM745.8 395.4H750.0V399.6H745.8zM749.7 395.4H753.9V399.6H749.7zM753.6 395.4H757.7V399.6H753.6zM757.4 395.4H761.6V399.6H757.4zM761.3 395.4H765.5V399.6H761.3zM788.4 395.4H792.6V399.6H788.4zM831.0 395.4H835.1V399.6H831.0zM834.8 395.4H839.0V399.6H834.8zM838.7 395.4H842.9V399.6H838.7zM842.6 395.4H846.7V399.6H842.6zM846.4 395.4H850.6V399.6H846.4zM850.3 395.4H854.5V399.6H850.3zM687.8 399.3H691.9V403.4H687.8zM726.5 399.3H730.6V403.4H726.5zM730.3 399.3H734.5V403.4H730.3zM734.2 399.3H738.4V403.4H734.2zM738.1 399.3H742.2V403.4H738.1zM741.9 399.3H746.1V403.4H741.9zM745.8 399.3H750.0V403.4H745.8zM749.7 399.3H753.9V403.4H749.7zM753.6 399.3H757.7V403.4H753.6zM757.4 399.3H761.6V403.4H757.4zM761.3 399.3H765.5V403.4H761.3zM765.2 399.3H769.3V403.4H765.2zM784.5 399.3H788.7V403.4H784.5zM788.4 399.3H792.6V403.4H788.4zM834.8 399.3H839.0V403.4H834.8zM838.7 399.3H842.9V403.4H838.7zM842.6 399.3H846.7V403.4H842.6zM846.4 399.3H850.6V403.4H846.4zM850.3 399.3H854.5V403.4H850.3zM854.2 399.3H858.3V403.4H854.2zM683.9 403.1H688.1V407.3H683.9zM718.7 403.1H722.9V407.3H718.7zM722.6 403.1H726.8V407.3H722.6zM726.5 403.1H730.6V407.3H726.5zM730.3 403.1H734.5V407.3H730.3zM734.2 403.1H738.4V407.3H734.2zM738.1 403.1H742.2V407.3H738.1zM741.9 403.1H746.1V407.3H741.9zM745.8 403.1H750.0V407.3H745.8zM753.6 403.1H757.7V407.3H753.6zM757.4 403.1H761.6V407.3H757.4zM761.3 403.1H765.5V407.3H761.3zM765.2 403.1H769.3V407.3H765.2zM769.0 403.1H773.2V407.3H769.0zM784.5 403.1H788.7V407.3H784.5zM788.4 403.1H792.6V407.3H788.4zM807.7 403.1H811.9V407.3H807.7zM811.6 403.1H815.8V407.3H811.6zM838.7 403.1H842.9V407.3H838.7zM842.6 403.1H846.7V407.3H842.6zM846.4 403.1H850.6V407.3H846.4zM850.3 403.1H854.5V407.3H850.3zM854.2 403.1H858.3V407.3H854.2zM683.9 407.0H688.1V411.2H683.9zM718.7 407.0H722.9V411.2H718.7zM722.6 407.0H726.8V411.2H722.6zM726.5 407.0H730.6V411.2H726.5zM730.3 407.0H734.5V411.2H730.3zM734.2 407.0H738.4V411.2H734.2zM738.1 407.0H742.2V411.2H738.1zM741.9 407.0H746.1V411.2H741.9zM745.8 407.0H750.0V411.2H745.8zM761.3 407.0H765.5V411.2H761.3zM765.2 407.0H769.3V411.2H765.2zM769.0 407.0H773.2V411.2H769.0zM772.9 407.0H777.1V411.2H772.9zM776.8 407.0H780.9V411.2H776.8zM780.6 407.0H784.8V411.2H780.6zM784.5 407.0H788.7V411.2H784.5zM803.9 407.0H808.0V411.2H803.9zM807.7 407.0H811.9V411.2H807.7zM811.6 407.0H815.8V411.2H811.6zM815.5 407.0H819.6V411.2H815.5zM838.7 407.0H842.9V411.2H838.7zM842.6 407.0H846.7V411.2H842.6zM846.4 407.0H850.6V411.2H846.4zM850.3 407.0H854.5V411.2H850.3zM854.2 407.0H858.3V411.2H854.2zM858.0 407.0H862.2V411.2H858.0zM683.9 410.9H688.1V415.0H683.9zM714.9 410.9H719.0V415.0H714.9zM718.7 410.9H722.9V415.0H718.7zM765.2 410.9H769.3V415.0H765.2zM769.0 410.9H773.2V415.0H769.0zM772.9 410.9H777.1V415.0H772.9zM776.8 410.9H780.9V415.0H776.8zM780.6 410.9H784.8V415.0H780.6zM784.5 410.9H788.7V415.0H784.5zM800.0 410.9H804.2V415.0H800.0zM803.9 410.9H808.0V415.0H803.9zM807.7 410.9H811.9V415.0H807.7zM811.6 410.9H815.8V415.0H811.6zM815.5 410.9H819.6V415.0H815.5zM838.7 410.9H842.9V415.0H838.7zM842.6 410.9H846.7V415.0H842.6zM846.4 410.9H850.6V415.0H846.4zM850.3 410.9H854.5V415.0H850.3zM854.2 410.9H858.3V415.0H854.2zM858.0 410.9H862.2V415.0H858.0zM680.0 414.7H680.3V418.9H680.0zM680.0 414.7H684.2V418.9H680.0zM683.9 414.7H688.1V418.9H683.9zM711.0 414.7H715.2V418.9H711.0zM714.9 414.7H719.0V418.9H714.9zM769.0 414.7H773.2V418.9H769.0zM772.9 414.7H777.1V418.9H772.9zM776.8 414.7H780.9V418.9H776.8zM780.6 414.7H784.8V418.9H780.6zM800.0 414.7H804.2V418.9H800.0zM803.9 414.7H808.0V418.9H803.9zM807.7 414.7H811.9V418.9H807.7zM811.6 414.7H815.8V418.9H811.6zM815.5 414.7H819.6V418.9H815.5zM819.3 414.7H823.5V418.9H819.3zM838.7 414.7H842.9V418.9H838.7zM842.6 414.7H846.7V418.9H842.6zM846.4 414.7H850.6V418.9H846.4zM850.3 414.7H854.5V418.9H850.3zM854.2 414.7H858.3V418.9H854.2zM858.0 414.7H862.2V418.9H858.0zM873.5 414.7H877.3V418.9H873.5zM680.0 418.6H680.3V422.8H680.0zM680.0 418.6H684.2V422.8H680.0zM711.0 418.6H715.2V422.8H711.0zM772.9 418.6H777.1V422.8H772.9zM800.0 418.6H804.2V422.8H800.0zM803.9 418.6H808.0V422.8H803.9zM807.7 418.6H811.9V422.8H807.7zM811.6 418.6H815.8V422.8H811.6zM815.5 418.6H819.6V422.8H815.5zM819.3 418.6H823.5V422.8H819.3zM838.7 418.6H842.9V422.8H838.7zM842.6 418.6H846.7V422.8H842.6zM846.4 418.6H850.6V422.8H846.4zM850.3 418.6H854.5V422.8H850.3zM854.2 418.6H858.3V422.8H854.2zM858.0 418.6H862.2V422.8H858.0zM869.7 418.6H873.8V422.8H869.7zM873.5 418.6H877.3V422.8H873.5zM680.0 422.5H680.3V426.7H680.0zM680.0 422.5H684.2V426.7H680.0zM707.1 422.5H711.3V426.7H707.1zM711.0 422.5H715.2V426.7H711.0zM800.0 422.5H804.2V426.7H800.0zM803.9 422.5H808.0V426.7H803.9zM807.7 422.5H811.9V426.7H807.7zM815.5 422.5H819.6V426.7H815.5zM819.3 422.5H823.5V426.7H819.3zM823.2 422.5H827.4V426.7H823.2zM834.8 422.5H839.0V426.7H834.8zM838.7 422.5H842.9V426.7H838.7zM842.6 422.5H846.7V426.7H842.6zM846.4 422.5H850.6V426.7H846.4zM850.3 422.5H854.5V426.7H850.3zM854.2 422.5H858.3V426.7H854.2zM858.0 422.5H862.2V426.7H858.0zM869.7 422.5H873.8V426.7H869.7zM873.5 422.5H877.3V426.7H873.5zM707.1 426.4H711.3V430.5H707.1zM800.0 426.4H804.2V430.5H800.0zM803.9 426.4H808.0V430.5H803.9zM807.7 426.4H811.9V430.5H807.7zM819.3 426.4H823.5V430.5H819.3zM823.2 426.4H827.4V430.5H823.2zM827.1 426.4H831.3V430.5H827.1zM834.8 426.4H839.0V430.5H834.8zM838.7 426.4H842.9V430.5H838.7zM846.4 426.4H850.6V430.5H846.4zM850.3 426.4H854.5V430.5H850.3zM854.2 426.4H858.3V430.5H854.2zM858.0 426.4H862.2V430.5H858.0zM869.7 426.4H873.8V430.5H869.7zM873.5 426.4H877.3V430.5H873.5zM707.1 430.2H711.3V434.4H707.1zM800.0 430.2H804.2V434.4H800.0zM803.9 430.2H808.0V434.4H803.9zM819.3 430.2H823.5V434.4H819.3zM823.2 430.2H827.4V434.4H823.2zM827.1 430.2H831.3V434.4H827.1zM831.0 430.2H835.1V434.4H831.0zM834.8 430.2H839.0V434.4H834.8zM838.7 430.2H842.9V434.4H838.7zM850.3 430.2H854.5V434.4H850.3zM854.2 430.2H858.3V434.4H854.2zM858.0 430.2H862.2V434.4H858.0zM869.7 430.2H873.8V434.4H869.7zM873.5 430.2H877.3V434.4H873.5zM703.2 434.1H707.4V438.3H703.2zM707.1 434.1H711.3V438.3H707.1zM800.0 434.1H804.2V438.3H800.0zM803.9 434.1H808.0V438.3H803.9zM819.3 434.1H823.5V438.3H819.3zM823.2 434.1H827.4V438.3H823.2zM827.1 434.1H831.3V438.3H827.1zM831.0 434.1H835.1V438.3H831.0zM834.8 434.1H839.0V438.3H834.8zM838.7 434.1H842.9V438.3H838.7zM850.3 434.1H854.5V438.3H850.3zM854.2 434.1H858.3V438.3H854.2zM858.0 434.1H862.2V438.3H858.0zM869.7 434.1H873.8V438.3H869.7zM873.5 434.1H877.3V438.3H873.5zM703.2 438.0H707.4V442.1H703.2zM800.0 438.0H804.2V442.1H800.0zM803.9 438.0H808.0V442.1H803.9zM819.3 438.0H823.5V442.1H819.3zM823.2 438.0H827.4V442.1H823.2zM827.1 438.0H831.3V442.1H827.1zM831.0 438.0H835.1V442.1H831.0zM834.8 438.0H839.0V442.1H834.8zM850.3 438.0H854.5V442.1H850.3zM854.2 438.0H858.3V442.1H854.2zM858.0 438.0H862.2V442.1H858.0zM869.7 438.0H873.8V442.1H869.7zM873.5 438.0H877.3V442.1H873.5zM703.2 441.8H707.4V446.0H703.2zM707.1 441.8H711.3V446.0H707.1zM800.0 441.8H804.2V446.0H800.0zM803.9 441.8H808.0V446.0H803.9zM819.3 441.8H823.5V446.0H819.3zM823.2 441.8H827.4V446.0H823.2zM827.1 441.8H831.3V446.0H827.1zM831.0 441.8H835.1V446.0H831.0zM834.8 441.8H839.0V446.0H834.8zM838.7 441.8H842.9V446.0H838.7zM846.4 441.8H850.6V446.0H846.4zM850.3 441.8H854.5V446.0H850.3zM854.2 441.8H858.3V446.0H854.2zM858.0 441.8H862.2V446.0H858.0zM861.9 441.8H866.1V446.0H861.9zM865.8 441.8H870.0V446.0H865.8zM869.7 441.8H873.8V446.0H869.7zM873.5 441.8H877.3V446.0H873.5zM680.0 445.7H680.3V449.9H680.0zM680.0 445.7H684.2V449.9H680.0zM707.1 445.7H711.3V449.9H707.1zM800.0 445.7H804.2V449.9H800.0zM803.9 445.7H808.0V449.9H803.9zM819.3 445.7H823.5V449.9H819.3zM823.2 445.7H827.4V449.9H823.2zM827.1 445.7H831.3V449.9H827.1zM831.0 445.7H835.1V449.9H831.0zM834.8 445.7H839.0V449.9H834.8zM838.7 445.7H842.9V449.9H838.7zM842.6 445.7H846.7V449.9H842.6zM846.4 445.7H850.6V449.9H846.4zM850.3 445.7H854.5V449.9H850.3zM854.2 445.7H858.3V449.9H854.2zM858.0 445.7H862.2V449.9H858.0zM861.9 445.7H866.1V449.9H861.9zM865.8 445.7H870.0V449.9H865.8zM869.7 445.7H873.8V449.9H869.7zM873.5 445.7H877.3V449.9H873.5zM680.0 449.6H680.3V453.7H680.0zM680.0 449.6H684.2V453.7H680.0zM683.9 449.6H688.1V453.7H683.9zM707.1 449.6H711.3V453.7H707.1zM803.9 449.6H808.0V453.7H803.9zM819.3 449.6H823.5V453.7H819.3zM823.2 449.6H827.4V453.7H823.2zM827.1 449.6H831.3V453.7H827.1zM831.0 449.6H835.1V453.7H831.0zM834.8 449.6H839.0V453.7H834.8zM838.7 449.6H842.9V453.7H838.7zM842.6 449.6H846.7V453.7H842.6zM846.4 449.6H850.6V453.7H846.4zM850.3 449.6H854.5V453.7H850.3zM854.2 449.6H858.3V453.7H854.2zM858.0 449.6H862.2V453.7H858.0zM861.9 449.6H866.1V453.7H861.9zM865.8 449.6H870.0V453.7H865.8zM869.7 449.6H873.8V453.7H869.7zM873.5 449.6H877.3V453.7H873.5zM680.0 453.4H680.3V457.6H680.0zM680.0 453.4H684.2V457.6H680.0zM683.9 453.4H688.1V457.6H683.9zM687.8 453.4H691.9V457.6H687.8zM699.4 453.4H703.5V457.6H699.4zM703.2 453.4H707.4V457.6H703.2zM707.1 453.4H711.3V457.6H707.1zM803.9 453.4H808.0V457.6H803.9zM807.7 453.4H811.9V457.6H807.7zM819.3 453.4H823.5V457.6H819.3zM823.2 453.4H827.4V457.6H823.2zM827.1 453.4H831.3V457.6H827.1zM831.0 453.4H835.1V457.6H831.0zM834.8 453.4H839.0V457.6H834.8zM838.7 453.4H842.9V457.6H838.7zM842.6 453.4H846.7V457.6H842.6zM846.4 453.4H850.6V457.6H846.4zM850.3 453.4H854.5V457.6H850.3zM854.2 453.4H858.3V457.6H854.2zM858.0 453.4H862.2V457.6H858.0zM861.9 453.4H866.1V457.6H861.9zM865.8 453.4H870.0V457.6H865.8zM869.7 453.4H873.8V457.6H869.7zM873.5 453.4H877.3V457.6H873.5zM683.9 457.3H688.1V461.5H683.9zM687.8 457.3H691.9V461.5H687.8zM691.6 457.3H695.8V461.5H691.6zM695.5 457.3H699.7V461.5H695.5zM699.4 457.3H703.5V461.5H699.4zM703.2 457.3H707.4V461.5H703.2zM803.9 457.3H808.0V461.5H803.9zM807.7 457.3H811.9V461.5H807.7zM815.5 457.3H819.6V461.5H815.5zM819.3 457.3H823.5V461.5H819.3zM823.2 457.3H827.4V461.5H823.2zM838.7 457.3H842.9V461.5H838.7zM842.6 457.3H846.7V461.5H842.6zM846.4 457.3H850.6V461.5H846.4zM865.8 457.3H870.0V461.5H865.8zM869.7 457.3H873.8V461.5H869.7zM873.5 457.3H877.3V461.5H873.5zM687.8 461.2H691.9V465.4H687.8zM691.6 461.2H695.8V465.4H691.6zM695.5 461.2H699.7V465.4H695.5zM761.3 461.2H765.5V465.4H761.3zM807.7 461.2H811.9V465.4H807.7zM811.6 461.2H815.8V465.4H811.6zM815.5 461.2H819.6V465.4H815.5zM819.3 461.2H823.5V465.4H819.3zM753.6 465.1H757.7V469.2H753.6zM757.4 465.1H761.6V469.2H757.4zM761.3 465.1H765.5V469.2H761.3zM765.2 465.1H769.3V469.2H765.2zM807.7 465.1H811.9V469.2H807.7zM811.6 465.1H815.8V469.2H811.6zM815.5 465.1H819.6V469.2H815.5zM819.3 465.1H823.5V469.2H819.3zM753.6 468.9H757.7V473.1H753.6zM757.4 468.9H761.6V473.1H757.4zM761.3 468.9H765.5V473.1H761.3zM765.2 468.9H769.3V473.1H765.2zM811.6 468.9H815.8V473.1H811.6zM749.7 472.8H753.9V477.0H749.7zM753.6 472.8H757.7V477.0H753.6zM757.4 472.8H761.6V477.0H757.4zM761.3 472.8H765.5V477.0H761.3zM765.2 472.8H769.3V477.0H765.2zM842.6 472.8H846.7V477.0H842.6zM749.7 476.7H753.9V480.8H749.7zM753.6 476.7H757.7V480.8H753.6zM757.4 476.7H761.6V480.8H757.4zM761.3 476.7H765.5V480.8H761.3zM765.2 476.7H769.3V480.8H765.2zM838.7 476.7H842.9V480.8H838.7zM842.6 476.7H846.7V480.8H842.6zM846.4 476.7H850.6V480.8H846.4zM745.8 480.5H750.0V484.7H745.8zM749.7 480.5H753.9V484.7H749.7zM753.6 480.5H757.7V484.7H753.6zM757.4 480.5H761.6V484.7H757.4zM761.3 480.5H765.5V484.7H761.3zM765.2 480.5H769.3V484.7H765.2zM834.8 480.5H839.0V484.7H834.8zM838.7 480.5H842.9V484.7H838.7zM842.6 480.5H846.7V484.7H842.6zM846.4 480.5H850.6V484.7H846.4zM745.8 484.4H750.0V488.6H745.8zM749.7 484.4H753.9V488.6H749.7zM753.6 484.4H757.7V488.6H753.6zM757.4 484.4H761.6V488.6H757.4zM761.3 484.4H765.5V488.6H761.3zM765.2 484.4H769.3V488.6H765.2zM792.3 484.4H796.4V488.6H792.3zM834.8 484.4H839.0V488.6H834.8zM838.7 484.4H842.9V488.6H838.7zM846.4 484.4H850.6V488.6H846.4zM850.3 484.4H854.5V488.6H850.3zM741.9 488.3H746.1V492.4H741.9zM745.8 488.3H750.0V492.4H745.8zM749.7 488.3H753.9V492.4H749.7zM753.6 488.3H757.7V492.4H753.6zM757.4 488.3H761.6V492.4H757.4zM761.3 488.3H765.5V492.4H761.3zM765.2 488.3H769.3V492.4H765.2zM780.6 488.3H784.8V492.4H780.6zM784.5 488.3H788.7V492.4H784.5zM788.4 488.3H792.6V492.4H788.4zM792.3 488.3H796.4V492.4H792.3zM796.1 488.3H800.3V492.4H796.1zM834.8 488.3H839.0V492.4H834.8zM846.4 488.3H850.6V492.4H846.4zM850.3 488.3H854.5V492.4H850.3zM741.9 492.1H746.1V496.3H741.9zM745.8 492.1H750.0V496.3H745.8zM749.7 492.1H753.9V496.3H749.7zM753.6 492.1H757.7V496.3H753.6zM757.4 492.1H761.6V496.3H757.4zM761.3 492.1H765.5V496.3H761.3zM765.2 492.1H769.3V496.3H765.2zM776.8 492.1H780.9V496.3H776.8zM780.6 492.1H784.8V496.3H780.6zM784.5 492.1H788.7V496.3H784.5zM788.4 492.1H792.6V496.3H788.4zM792.3 492.1H796.4V496.3H792.3zM796.1 492.1H800.3V496.3H796.1zM800.0 492.1H804.2V496.3H800.0zM834.8 492.1H839.0V496.3H834.8zM846.4 492.1H850.6V496.3H846.4zM850.3 492.1H854.5V496.3H850.3zM741.9 496.0H746.1V500.2H741.9zM745.8 496.0H750.0V500.2H745.8zM749.7 496.0H753.9V500.2H749.7zM753.6 496.0H757.7V500.2H753.6zM757.4 496.0H761.6V500.2H757.4zM761.3 496.0H765.5V500.2H761.3zM765.2 496.0H769.3V500.2H765.2zM776.8 496.0H780.9V500.2H776.8zM780.6 496.0H784.8V500.2H780.6zM784.5 496.0H788.7V500.2H784.5zM788.4 496.0H792.6V500.2H788.4zM796.1 496.0H800.3V500.2H796.1zM800.0 496.0H804.2V500.2H800.0zM834.8 496.0H839.0V500.2H834.8zM846.4 496.0H850.6V500.2H846.4zM850.3 496.0H854.5V500.2H850.3zM738.1 499.9H742.2V504.1H738.1zM741.9 499.9H746.1V504.1H741.9zM745.8 499.9H750.0V504.1H745.8zM749.7 499.9H753.9V504.1H749.7zM753.6 499.9H757.7V504.1H753.6zM757.4 499.9H761.6V504.1H757.4zM761.3 499.9H765.5V504.1H761.3zM765.2 499.9H769.3V504.1H765.2zM769.0 499.9H773.2V504.1H769.0zM772.9 499.9H777.1V504.1H772.9zM776.8 499.9H780.9V504.1H776.8zM780.6 499.9H784.8V504.1H780.6zM784.5 499.9H788.7V504.1H784.5zM796.1 499.9H800.3V504.1H796.1zM800.0 499.9H804.2V504.1H800.0zM834.8 499.9H839.0V504.1H834.8zM838.7 499.9H842.9V504.1H838.7zM846.4 499.9H850.6V504.1H846.4zM850.3 499.9H854.5V504.1H850.3zM738.1 503.8H742.2V507.9H738.1zM741.9 503.8H746.1V507.9H741.9zM745.8 503.8H750.0V507.9H745.8zM749.7 503.8H753.9V507.9H749.7zM753.6 503.8H757.7V507.9H753.6zM757.4 503.8H761.6V507.9H757.4zM761.3 503.8H765.5V507.9H761.3zM765.2 503.8H769.3V507.9H765.2zM769.0 503.8H773.2V507.9H769.0zM772.9 503.8H777.1V507.9H772.9zM776.8 503.8H780.9V507.9H776.8zM780.6 503.8H784.8V507.9H780.6zM784.5 503.8H788.7V507.9H784.5zM796.1 503.8H800.3V507.9H796.1zM800.0 503.8H804.2V507.9H800.0zM834.8 503.8H839.0V507.9H834.8zM838.7 503.8H842.9V507.9H838.7zM842.6 503.8H846.7V507.9H842.6zM846.4 503.8H850.6V507.9H846.4zM738.1 507.6H742.2V511.8H738.1zM757.4 507.6H761.6V511.8H757.4zM761.3 507.6H765.5V511.8H761.3zM765.2 507.6H769.3V511.8H765.2zM769.0 507.6H773.2V511.8H769.0zM772.9 507.6H777.1V511.8H772.9zM776.8 507.6H780.9V511.8H776.8zM780.6 507.6H784.8V511.8H780.6zM784.5 507.6H788.7V511.8H784.5zM800.0 507.6H804.2V511.8H800.0zM834.8 507.6H839.0V511.8H834.8zM838.7 507.6H842.9V511.8H838.7zM842.6 507.6H846.7V511.8H842.6zM846.4 507.6H850.6V511.8H846.4zM738.1 511.5H742.2V515.7H738.1zM757.4 511.5H761.6V515.7H757.4zM761.3 511.5H765.5V515.7H761.3zM765.2 511.5H769.3V515.7H765.2zM769.0 511.5H773.2V515.7H769.0zM772.9 511.5H777.1V515.7H772.9zM776.8 511.5H780.9V515.7H776.8zM780.6 511.5H784.8V515.7H780.6zM784.5 511.5H788.7V515.7H784.5zM800.0 511.5H804.2V515.7H800.0zM838.7 511.5H842.9V515.7H838.7zM842.6 511.5H846.7V515.7H842.6zM738.1 515.4H742.2V519.5H738.1zM761.3 515.4H765.5V519.5H761.3zM765.2 515.4H769.3V519.5H765.2zM769.0 515.4H773.2V519.5H769.0zM772.9 515.4H777.1V519.5H772.9zM776.8 515.4H780.9V519.5H776.8zM780.6 515.4H784.8V519.5H780.6zM784.5 515.4H788.7V519.5H784.5zM800.0 515.4H804.2V519.5H800.0zM734.2 519.2H738.4V523.4H734.2zM761.3 519.2H765.5V523.4H761.3zM765.2 519.2H769.3V523.4H765.2zM769.0 519.2H773.2V523.4H769.0zM772.9 519.2H777.1V523.4H772.9zM776.8 519.2H780.9V523.4H776.8zM780.6 519.2H784.8V523.4H780.6zM784.5 519.2H788.7V523.4H784.5zM800.0 519.2H804.2V523.4H800.0zM734.2 523.1H738.4V527.3H734.2zM765.2 523.1H769.3V527.3H765.2zM769.0 523.1H773.2V527.3H769.0zM772.9 523.1H777.1V527.3H772.9zM776.8 523.1H780.9V527.3H776.8zM780.6 523.1H784.8V527.3H780.6zM784.5 523.1H788.7V527.3H784.5zM800.0 523.1H804.2V527.3H800.0zM803.9 523.1H808.0V527.3H803.9zM823.2 523.1H827.4V527.3H823.2zM827.1 523.1H831.3V527.3H827.1zM831.0 523.1H835.1V527.3H831.0zM834.8 523.1H839.0V527.3H834.8zM838.7 523.1H842.9V527.3H838.7zM734.2 527.0H738.4V531.1H734.2zM776.8 527.0H780.9V531.1H776.8zM780.6 527.0H784.8V531.1H780.6zM784.5 527.0H788.7V531.1H784.5zM796.1 527.0H800.3V531.1H796.1zM800.0 527.0H804.2V531.1H800.0zM803.9 527.0H808.0V531.1H803.9zM815.5 527.0H819.6V531.1H815.5zM819.3 527.0H823.5V531.1H819.3zM823.2 527.0H827.4V531.1H823.2zM827.1 527.0H831.3V531.1H827.1zM831.0 527.0H835.1V531.1H831.0zM834.8 527.0H839.0V531.1H834.8zM838.7 527.0H842.9V531.1H838.7zM842.6 527.0H846.7V531.1H842.6zM734.2 530.8H738.4V535.0H734.2zM776.8 530.8H780.9V535.0H776.8zM780.6 530.8H784.8V535.0H780.6zM784.5 530.8H788.7V535.0H784.5zM788.4 530.8H792.6V535.0H788.4zM796.1 530.8H800.3V535.0H796.1zM800.0 530.8H804.2V535.0H800.0zM803.9 530.8H808.0V535.0H803.9zM815.5 530.8H819.6V535.0H815.5zM819.3 530.8H823.5V535.0H819.3zM838.7 530.8H842.9V535.0H838.7zM842.6 530.8H846.7V535.0H842.6zM846.4 530.8H850.6V535.0H846.4zM850.3 530.8H854.5V535.0H850.3zM854.2 530.8H858.3V535.0H854.2zM734.2 534.7H738.4V538.9H734.2zM738.1 534.7H742.2V538.9H738.1zM776.8 534.7H780.9V538.9H776.8zM780.6 534.7H784.8V538.9H780.6zM784.5 534.7H788.7V538.9H784.5zM788.4 534.7H792.6V538.9H788.4zM792.3 534.7H796.4V538.9H792.3zM796.1 534.7H800.3V538.9H796.1zM800.0 534.7H804.2V538.9H800.0zM811.6 534.7H815.8V538.9H811.6zM815.5 534.7H819.6V538.9H815.5zM850.3 534.7H854.5V538.9H850.3zM854.2 534.7H858.3V538.9H854.2zM858.0 534.7H862.2V538.9H858.0zM861.9 534.7H866.1V538.9H861.9zM865.8 534.7H870.0V538.9H865.8zM869.7 534.7H873.8V538.9H869.7zM873.5 534.7H877.3V538.9H873.5zM730.3 538.6H734.5V542.8H730.3zM734.2 538.6H738.4V542.8H734.2zM738.1 538.6H742.2V542.8H738.1zM776.8 538.6H780.9V542.8H776.8zM780.6 538.6H784.8V542.8H780.6zM784.5 538.6H788.7V542.8H784.5zM788.4 538.6H792.6V542.8H788.4zM792.3 538.6H796.4V542.8H792.3zM796.1 538.6H800.3V542.8H796.1zM811.6 538.6H815.8V542.8H811.6zM815.5 538.6H819.6V542.8H815.5zM858.0 538.6H862.2V542.8H858.0zM861.9 538.6H866.1V542.8H861.9zM865.8 538.6H870.0V542.8H865.8zM869.7 538.6H873.8V542.8H869.7zM873.5 538.6H877.3V542.8H873.5zM730.3 542.5H734.5V546.6H730.3zM734.2 542.5H738.4V546.6H734.2zM776.8 542.5H780.9V546.6H776.8zM780.6 542.5H784.8V546.6H780.6zM788.4 542.5H792.6V546.6H788.4zM792.3 542.5H796.4V546.6H792.3zM811.6 542.5H815.8V546.6H811.6zM815.5 542.5H819.6V546.6H815.5zM861.9 542.5H866.1V546.6H861.9zM865.8 542.5H870.0V546.6H865.8zM869.7 542.5H873.8V546.6H869.7zM873.5 542.5H877.3V546.6H873.5zM730.3 546.3H734.5V550.5H730.3zM734.2 546.3H738.4V550.5H734.2zM776.8 546.3H780.9V550.5H776.8zM811.6 546.3H815.8V550.5H811.6zM865.8 546.3H870.0V550.5H865.8zM869.7 546.3H873.8V550.5H869.7zM873.5 546.3H877.3V550.5H873.5zM730.3 550.2H734.5V554.4H730.3zM734.2 550.2H738.4V554.4H734.2zM776.8 550.2H780.9V554.4H776.8zM811.6 550.2H815.8V554.4H811.6zM869.7 550.2H873.8V554.4H869.7zM873.5 550.2H877.3V554.4H873.5zM730.3 554.1H734.5V557.3H730.3zM734.2 554.1H738.4V557.3H734.2zM776.8 554.1H780.9V557.3H776.8zM811.6 554.1H815.8V557.3H811.6zM873.5 554.1H877.3V557.3H873.5z"/>
<path fill="#8af300" d="M769.0 341.2H773.2V345.4H769.0zM772.9 341.2H777.1V345.4H772.9zM776.8 341.2H780.9V345.4H776.8zM780.6 341.2H784.8V345.4H780.6zM761.3 345.1H765.5V349.3H761.3zM765.2 345.1H769.3V349.3H765.2zM769.0 345.1H773.2V349.3H769.0zM772.9 345.1H777.1V349.3H772.9zM776.8 345.1H780.9V349.3H776.8zM780.6 345.1H784.8V349.3H780.6zM784.5 345.1H788.7V349.3H784.5zM757.4 349.0H761.6V353.1H757.4zM761.3 349.0H765.5V353.1H761.3zM784.5 349.0H788.7V353.1H784.5zM722.6 352.8H726.8V357.0H722.6zM726.5 352.8H730.6V357.0H726.5zM730.3 352.8H734.5V357.0H730.3zM757.4 352.8H761.6V357.0H757.4zM784.5 352.8H788.7V357.0H784.5zM838.7 352.8H842.9V357.0H838.7zM718.7 356.7H722.9V360.9H718.7zM722.6 356.7H726.8V360.9H722.6zM726.5 356.7H730.6V360.9H726.5zM730.3 356.7H734.5V360.9H730.3zM734.2 356.7H738.4V360.9H734.2zM757.4 356.7H761.6V360.9H757.4zM784.5 356.7H788.7V360.9H784.5zM831.0 356.7H835.1V360.9H831.0zM834.8 356.7H839.0V360.9H834.8zM838.7 356.7H842.9V360.9H838.7zM842.6 356.7H846.7V360.9H842.6zM714.9 360.6H719.0V364.7H714.9zM718.7 360.6H722.9V364.7H718.7zM726.5 360.6H730.6V364.7H726.5zM730.3 360.6H734.5V364.7H730.3zM734.2 360.6H738.4V364.7H734.2zM753.6 360.6H757.7V364.7H753.6zM757.4 360.6H761.6V364.7H757.4zM784.5 360.6H788.7V364.7H784.5zM827.1 360.6H831.3V364.7H827.1zM831.0 360.6H835.1V364.7H831.0zM834.8 360.6H839.0V364.7H834.8zM838.7 360.6H842.9V364.7H838.7zM842.6 360.6H846.7V364.7H842.6zM711.0 364.4H715.2V368.6H711.0zM714.9 364.4H719.0V368.6H714.9zM726.5 364.4H730.6V368.6H726.5zM730.3 364.4H734.5V368.6H730.3zM734.2 364.4H738.4V368.6H734.2zM753.6 364.4H757.7V368.6H753.6zM757.4 364.4H761.6V368.6H757.4zM784.5 364.4H788.7V368.6H784.5zM827.1 364.4H831.3V368.6H827.1zM831.0 364.4H835.1V368.6H831.0zM834.8 364.4H839.0V368.6H834.8zM838.7 364.4H842.9V368.6H838.7zM842.6 364.4H846.7V368.6H842.6zM707.1 368.3H711.3V372.5H707.1zM711.0 368.3H715.2V372.5H711.0zM730.3 368.3H734.5V372.5H730.3zM753.6 368.3H757.7V372.5H753.6zM784.5 368.3H788.7V372.5H784.5zM827.1 368.3H831.3V372.5H827.1zM831.0 368.3H835.1V372.5H831.0zM834.8 368.3H839.0V372.5H834.8zM838.7 368.3H842.9V372.5H838.7zM842.6 368.3H846.7V372.5H842.6zM703.2 372.2H707.4V376.3H703.2zM707.1 372.2H711.3V376.3H707.1zM726.5 372.2H730.6V376.3H726.5zM730.3 372.2H734.5V376.3H730.3zM749.7 372.2H753.9V376.3H749.7zM753.6 372.2H757.7V376.3H753.6zM757.4 372.2H761.6V376.3H757.4zM784.5 372.2H788.7V376.3H784.5zM827.1 372.2H831.3V376.3H827.1zM831.0 372.2H835.1V376.3H831.0zM834.8 372.2H839.0V376.3H834.8zM838.7 372.2H842.9V376.3H838.7zM842.6 372.2H846.7V376.3H842.6zM703.2 376.0H707.4V380.2H703.2zM707.1 376.0H711.3V380.2H707.1zM726.5 376.0H730.6V380.2H726.5zM730.3 376.0H734.5V380.2H730.3zM749.7 376.0H753.9V380.2H749.7zM753.6 376.0H757.7V380.2H753.6zM757.4 376.0H761.6V380.2H757.4zM784.5 376.0H788.7V380.2H784.5zM831.0 376.0H835.1V380.2H831.0zM834.8 376.0H839.0V380.2H834.8zM838.7 376.0H842.9V380.2H838.7zM842.6 376.0H846.7V380.2H842.6zM699.4 379.9H703.5V384.1H699.4zM703.2 379.9H707.4V384.1H703.2zM726.5 379.9H730.6V384.1H726.5zM749.7 379.9H753.9V384.1H749.7zM753.6 379.9H757.7V384.1H753.6zM757.4 379.9H761.6V384.1H757.4zM761.3 379.9H765.5V384.1H761.3zM765.2 379.9H769.3V384.1H765.2zM784.5 379.9H788.7V384.1H784.5zM831.0 379.9H835.1V384.1H831.0zM834.8 379.9H839.0V384.1H834.8zM838.7 379.9H842.9V384.1H838.7zM842.6 379.9H846.7V384.1H842.6zM699.4 383.8H703.5V388.0H699.4zM726.5 383.8H730.6V388.0H726.5zM757.4 383.8H761.6V388.0H757.4zM761.3 383.8H765.5V388.0H761.3zM765.2 383.8H769.3V388.0H765.2zM769.0 383.8H773.2V388.0H769.0zM784.5 383.8H788.7V388.0H784.5zM831.0 383.8H835.1V388.0H831.0zM834.8 383.8H839.0V388.0H834.8zM838.7 383.8H842.9V388.0H838.7zM842.6 383.8H846.7V388.0H842.6zM695.5 387.7H699.7V391.8H695.5zM699.4 387.7H703.5V391.8H699.4zM722.6 387.7H726.8V391.8H722.6zM726.5 387.7H730.6V391.8H726.5zM761.3 387.7H765.5V391.8H761.3zM765.2 387.7H769.3V391.8H765.2zM769.0 387.7H773.2V391.8H769.0zM772.9 387.7H777.1V391.8H772.9zM776.8 387.7H780.9V391.8H776.8zM780.6 387.7H784.8V391.8H780.6zM784.5 387.7H788.7V391.8H784.5zM831.0 387.7H835.1V391.8H831.0zM834.8 387.7H839.0V391.8H834.8zM838.7 387.7H842.9V391.8H838.7zM842.6 387.7H846.7V391.8H842.6zM691.6 391.5H695.8V395.7H691.6zM695.5 391.5H699.7V395.7H695.5zM718.7 391.5H722.9V395.7H718.7zM722.6 391.5H726.8V395.7H722.6zM726.5 391.5H730.6V395.7H726.5zM765.2 391.5H769.3V395.7H765.2zM769.0 391.5H773.2V395.7H769.0zM772.9 391.5H777.1V395.7H772.9zM776.8 391.5H780.9V395.7H776.8zM780.6 391.5H784.8V395.7H780.6zM784.5 391.5H788.7V395.7H784.5zM842.6 391.5H846.7V395.7H842.6zM691.6 395.4H695.8V399.6H691.6zM695.5 395.4H699.7V399.6H695.5zM714.9 395.4H719.0V399.6H714.9zM718.7 395.4H722.9V399.6H718.7zM722.6 395.4H726.8V399.6H722.6zM726.5 395.4H730.6V399.6H726.5zM765.2 395.4H769.3V399.6H765.2zM769.0 395.4H773.2V399.6H769.0zM772.9 395.4H777.1V399.6H772.9zM776.8 395.4H780.9V399.6H776.8zM780.6 395.4H784.8V399.6H780.6zM784.5 395.4H788.7V399.6H784.5zM691.6 399.3H695.8V403.4H691.6zM711.0 399.3H715.2V403.4H711.0zM714.9 399.3H719.0V403.4H714.9zM718.7 399.3H722.9V403.4H718.7zM722.6 399.3H726.8V403.4H722.6zM769.0 399.3H773.2V403.4H769.0zM772.9 399.3H777.1V403.4H772.9zM776.8 399.3H780.9V403.4H776.8zM780.6 399.3H784.8V403.4H780.6zM687.8 403.1H691.9V407.3H687.8zM711.0 403.1H715.2V407.3H711.0zM714.9 403.1H719.0V407.3H714.9zM772.9 403.1H777.1V407.3H772.9zM776.8 403.1H780.9V407.3H776.8zM780.6 403.1H784.8V407.3H780.6zM687.8 407.0H691.9V411.2H687.8zM711.0 407.0H715.2V411.2H711.0zM714.9 407.0H719.0V411.2H714.9zM687.8 410.9H691.9V415.0H687.8zM707.1 410.9H711.3V415.0H707.1zM711.0 410.9H715.2V415.0H711.0zM687.8 414.7H691.9V418.9H687.8zM707.1 414.7H711.3V418.9H707.1zM683.9 418.6H688.1V422.8H683.9zM687.8 418.6H691.9V422.8H687.8zM703.2 418.6H707.4V422.8H703.2zM707.1 418.6H711.3V422.8H707.1zM683.9 422.5H688.1V426.7H683.9zM687.8 422.5H691.9V426.7H687.8zM703.2 422.5H707.4V426.7H703.2zM811.6 422.5H815.8V426.7H811.6zM680.0 426.4H680.3V430.5H680.0zM680.0 426.4H684.2V430.5H680.0zM683.9 426.4H688.1V430.5H683.9zM699.4 426.4H703.5V430.5H699.4zM703.2 426.4H707.4V430.5H703.2zM811.6 426.4H815.8V430.5H811.6zM815.5 426.4H819.6V430.5H815.5zM842.6 426.4H846.7V430.5H842.6zM680.0 430.2H680.3V434.4H680.0zM680.0 430.2H684.2V434.4H680.0zM683.9 430.2H688.1V434.4H683.9zM699.4 430.2H703.5V434.4H699.4zM703.2 430.2H707.4V434.4H703.2zM807.7 430.2H811.9V434.4H807.7zM811.6 430.2H815.8V434.4H811.6zM815.5 430.2H819.6V434.4H815.5zM842.6 430.2H846.7V434.4H842.6zM846.4 430.2H850.6V434.4H846.4zM680.0 434.1H680.3V438.3H680.0zM680.0 434.1H684.2V438.3H680.0zM683.9 434.1H688.1V438.3H683.9zM699.4 434.1H703.5V438.3H699.4zM807.7 434.1H811.9V438.3H807.7zM811.6 434.1H815.8V438.3H811.6zM815.5 434.1H819.6V438.3H815.5zM842.6 434.1H846.7V438.3H842.6zM846.4 434.1H850.6V438.3H846.4zM680.0 438.0H680.3V442.1H680.0zM680.0 438.0H684.2V442.1H680.0zM683.9 438.0H688.1V442.1H683.9zM695.5 438.0H699.7V442.1H695.5zM699.4 438.0H703.5V442.1H699.4zM807.7 438.0H811.9V442.1H807.7zM811.6 438.0H815.8V442.1H811.6zM815.5 438.0H819.6V442.1H815.5zM838.7 438.0H842.9V442.1H838.7zM842.6 438.0H846.7V442.1H842.6zM846.4 438.0H850.6V442.1H846.4zM680.0 441.8H680.3V446.0H680.0zM680.0 441.8H684.2V446.0H680.0zM683.9 441.8H688.1V446.0H683.9zM687.8 441.8H691.9V446.0H687.8zM695.5 441.8H699.7V446.0H695.5zM699.4 441.8H703.5V446.0H699.4zM807.7 441.8H811.9V446.0H807.7zM811.6 441.8H815.8V446.0H811.6zM815.5 441.8H819.6V446.0H815.5zM842.6 441.8H846.7V446.0H842.6zM683.9 445.7H688.1V449.9H683.9zM687.8 445.7H691.9V449.9H687.8zM695.5 445.7H699.7V449.9H695.5zM699.4 445.7H703.5V449.9H699.4zM703.2 445.7H707.4V449.9H703.2zM807.7 445.7H811.9V449.9H807.7zM811.6 445.7H815.8V449.9H811.6zM815.5 445.7H819.6V449.9H815.5zM687.8 449.6H691.9V453.7H687.8zM691.6 449.6H695.8V453.7H691.6zM695.5 449.6H699.7V453.7H695.5zM699.4 449.6H703.5V453.7H699.4zM703.2 449.6H707.4V453.7H703.2zM807.7 449.6H811.9V453.7H807.7zM811.6 449.6H815.8V453.7H811.6zM815.5 449.6H819.6V453.7H815.5zM691.6 453.4H695.8V457.6H691.6zM695.5 453.4H699.7V457.6H695.5zM811.6 453.4H815.8V457.6H811.6zM815.5 453.4H819.6V457.6H815.5zM811.6 457.3H815.8V461.5H811.6zM842.6 484.4H846.7V488.6H842.6zM838.7 488.3H842.9V492.4H838.7zM842.6 488.3H846.7V492.4H842.6zM838.7 492.1H842.9V496.3H838.7zM842.6 492.1H846.7V496.3H842.6zM792.3 496.0H796.4V500.2H792.3zM838.7 496.0H842.9V500.2H838.7zM842.6 496.0H846.7V500.2H842.6zM788.4 499.9H792.6V504.1H788.4zM792.3 499.9H796.4V504.1H792.3zM842.6 499.9H846.7V504.1H842.6zM788.4 503.8H792.6V507.9H788.4zM792.3 503.8H796.4V507.9H792.3zM741.9 507.6H746.1V511.8H741.9zM745.8 507.6H750.0V511.8H745.8zM749.7 507.6H753.9V511.8H749.7zM753.6 507.6H757.7V511.8H753.6zM788.4 507.6H792.6V511.8H788.4zM792.3 507.6H796.4V511.8H792.3zM796.1 507.6H800.3V511.8H796.1zM741.9 511.5H746.1V515.7H741.9zM745.8 511.5H750.0V515.7H745.8zM749.7 511.5H753.9V515.7H749.7zM753.6 511.5H757.7V515.7H753.6zM788.4 511.5H792.6V515.7H788.4zM792.3 511.5H796.4V515.7H792.3zM796.1 511.5H800.3V515.7H796.1zM741.9 515.4H746.1V519.5H741.9zM745.8 515.4H750.0V519.5H745.8zM749.7 515.4H753.9V519.5H749.7zM753.6 515.4H757.7V519.5H753.6zM757.4 515.4H761.6V519.5H757.4zM788.4 515.4H792.6V519.5H788.4zM792.3 515.4H796.4V519.5H792.3zM796.1 515.4H800.3V519.5H796.1zM738.1 519.2H742.2V523.4H738.1zM741.9 519.2H746.1V523.4H741.9zM745.8 519.2H750.0V523.4H745.8zM749.7 519.2H753.9V523.4H749.7zM753.6 519.2H757.7V523.4H753.6zM757.4 519.2H761.6V523.4H757.4zM788.4 519.2H792.6V523.4H788.4zM792.3 519.2H796.4V523.4H792.3zM796.1 519.2H800.3V523.4H796.1zM738.1 523.1H742.2V527.3H738.1zM741.9 523.1H746.1V527.3H741.9zM745.8 523.1H750.0V527.3H745.8zM749.7 523.1H753.9V527.3H749.7zM753.6 523.1H757.7V527.3H753.6zM757.4 523.1H761.6V527.3H757.4zM761.3 523.1H765.5V527.3H761.3zM788.4 523.1H792.6V527.3H788.4zM792.3 523.1H796.4V527.3H792.3zM796.1 523.1H800.3V527.3H796.1zM738.1 527.0H742.2V531.1H738.1zM741.9 527.0H746.1V531.1H741.9zM757.4 527.0H761.6V531.1H757.4zM761.3 527.0H765.5V531.1H761.3zM765.2 527.0H769.3V531.1H765.2zM769.0 527.0H773.2V531.1H769.0zM772.9 527.0H777.1V531.1H772.9zM788.4 527.0H792.6V531.1H788.4zM792.3 527.0H796.4V531.1H792.3zM738.1 530.8H742.2V535.0H738.1zM741.9 530.8H746.1V535.0H741.9zM745.8 530.8H750.0V535.0H745.8zM757.4 530.8H761.6V535.0H757.4zM761.3 530.8H765.5V535.0H761.3zM765.2 530.8H769.3V535.0H765.2zM769.0 530.8H773.2V535.0H769.0zM772.9 530.8H777.1V535.0H772.9zM792.3 530.8H796.4V535.0H792.3zM823.2 530.8H827.4V535.0H823.2zM827.1 530.8H831.3V535.0H827.1zM831.0 530.8H835.1V535.0H831.0zM834.8 530.8H839.0V535.0H834.8zM741.9 534.7H746.1V538.9H741.9zM745.8 534.7H750.0V538.9H745.8zM757.4 534.7H761.6V538.9H757.4zM761.3 534.7H765.5V538.9H761.3zM765.2 534.7H769.3V538.9H765.2zM769.0 534.7H773.2V538.9H769.0zM772.9 534.7H777.1V538.9H772.9zM819.3 534.7H823.5V538.9H819.3zM823.2 534.7H827.4V538.9H823.2zM827.1 534.7H831.3V538.9H827.1zM834.8 534.7H839.0V538.9H834.8zM838.7 534.7H842.9V538.9H838.7zM842.6 534.7H846.7V538.9H842.6zM846.4 534.7H850.6V538.9H846.4zM741.9 538.6H746.1V542.8H741.9zM745.8 538.6H750.0V542.8H745.8zM757.4 538.6H761.6V542.8H757.4zM761.3 538.6H765.5V542.8H761.3zM765.2 538.6H769.3V542.8H765.2zM769.0 538.6H773.2V542.8H769.0zM772.9 538.6H777.1V542.8H772.9zM819.3 538.6H823.5V542.8H819.3zM846.4 538.6H850.6V542.8H846.4zM850.3 538.6H854.5V542.8H850.3zM854.2 538.6H858.3V542.8H854.2zM738.1 542.5H742.2V546.6H738.1zM741.9 542.5H746.1V546.6H741.9zM745.8 542.5H750.0V546.6H745.8zM749.7 542.5H753.9V546.6H749.7zM761.3 542.5H765.5V546.6H761.3zM765.2 542.5H769.3V546.6H765.2zM769.0 542.5H773.2V546.6H769.0zM772.9 542.5H777.1V546.6H772.9zM819.3 542.5H823.5V546.6H819.3zM854.2 542.5H858.3V546.6H854.2zM858.0 542.5H862.2V546.6H858.0zM738.1 546.3H742.2V550.5H738.1zM741.9 546.3H746.1V550.5H741.9zM745.8 546.3H750.0V550.5H745.8zM749.7 546.3H753.9V550.5H749.7zM772.9 546.3H777.1V550.5H772.9zM815.5 546.3H819.6V550.5H815.5zM819.3 546.3H823.5V550.5H819.3zM858.0 546.3H862.2V550.5H858.0zM861.9 546.3H866.1V550.5H861.9zM738.1 550.2H742.2V554.4H738.1zM741.9 550.2H746.1V554.4H741.9zM745.8 550.2H750.0V554.4H745.8zM749.7 550.2H753.9V554.4H749.7zM815.5 550.2H819.6V554.4H815.5zM858.0 550.2H862.2V554.4H858.0zM861.9 550.2H866.1V554.4H861.9zM865.8 550.2H870.0V554.4H865.8zM738.1 554.1H742.2V557.3H738.1zM741.9 554.1H746.1V557.3H741.9zM745.8 554.1H750.0V557.3H745.8zM749.7 554.1H753.9V557.3H749.7zM815.5 554.1H819.6V557.3H815.5zM861.9 554.1H866.1V557.3H861.9zM865.8 554.1H870.0V557.3H865.8zM869.7 554.1H873.8V557.3H869.7z"/>
<path fill="#b0fa00" d="M765.2 349.0H769.3V353.1H765.2zM769.0 349.0H773.2V353.1H769.0zM772.9 349.0H777.1V353.1H772.9zM776.8 349.0H780.9V353.1H776.8zM780.6 349.0H784.8V353.1H780.6zM761.3 352.8H765.5V357.0H761.3zM765.2 352.8H769.3V357.0H765.2zM769.0 352.8H773.2V357.0H769.0zM772.9 352.8H777.1V357.0H772.9zM776.8 352.8H780.9V357.0H776.8zM780.6 352.8H784.8V357.0H780.6zM761.3 356.7H765.5V360.9H761.3zM765.2 356.7H769.3V360.9H765.2zM776.8 356.7H780.9V360.9H776.8zM780.6 356.7H784.8V360.9H780.6zM722.6 360.6H726.8V364.7H722.6zM761.3 360.6H765.5V364.7H761.3zM765.2 360.6H769.3V364.7H765.2zM776.8 360.6H780.9V364.7H776.8zM780.6 360.6H784.8V364.7H780.6zM718.7 364.4H722.9V368.6H718.7zM722.6 364.4H726.8V368.6H722.6zM761.3 364.4H765.5V368.6H761.3zM765.2 364.4H769.3V368.6H765.2zM769.0 364.4H773.2V368.6H769.0zM772.9 364.4H777.1V368.6H772.9zM776.8 364.4H780.9V368.6H776.8zM780.6 364.4H784.8V368.6H780.6zM714.9 368.3H719.0V372.5H714.9zM718.7 368.3H722.9V372.5H718.7zM722.6 368.3H726.8V372.5H722.6zM726.5 368.3H730.6V372.5H726.5zM757.4 368.3H761.6V372.5H757.4zM761.3 368.3H765.5V372.5H761.3zM765.2 368.3H769.3V372.5H765.2zM769.0 368.3H773.2V372.5H769.0zM772.9 368.3H777.1V372.5H772.9zM776.8 368.3H780.9V372.5H776.8zM780.6 368.3H784.8V372.5H780.6zM711.0 372.2H715.2V376.3H711.0zM714.9 372.2H719.0V376.3H714.9zM718.7 372.2H722.9V376.3H718.7zM722.6 372.2H726.8V376.3H722.6zM761.3 372.2H765.5V376.3H761.3zM765.2 372.2H769.3V376.3H765.2zM769.0 372.2H773.2V376.3H769.0zM772.9 372.2H777.1V376.3H772.9zM776.8 372.2H780.9V376.3H776.8zM780.6 372.2H784.8V376.3H780.6zM711.0 376.0H715.2V380.2H711.0zM714.9 376.0H719.0V380.2H714.9zM718.7 376.0H722.9V380.2H718.7zM722.6 376.0H726.8V380.2H722.6zM761.3 376.0H765.5V380.2H761.3zM765.2 376.0H769.3V380.2H765.2zM769.0 376.0H773.2V380.2H769.0zM772.9 376.0H777.1V380.2H772.9zM776.8 376.0H780.9V380.2H776.8zM780.6 376.0H784.8V380.2H780.6zM707.1 379.9H711.3V384.1H707.1zM711.0 379.9H715.2V384.1H711.0zM714.9 379.9H719.0V384.1H714.9zM718.7 379.9H722.9V384.1H718.7zM722.6 379.9H726.8V384.1H722.6zM769.0 379.9H773.2V384.1H769.0zM772.9 379.9H777.1V384.1H772.9zM776.8 379.9H780.9V384.1H776.8zM780.6 379.9H784.8V384.1H780.6zM703.2 383.8H707.4V388.0H703.2zM707.1 383.8H711.3V388.0H707.1zM711.0 383.8H715.2V388.0H711.0zM714.9 383.8H719.0V388.0H714.9zM718.7 383.8H722.9V388.0H718.7zM722.6 383.8H726.8V388.0H722.6zM772.9 383.8H777.1V388.0H772.9zM776.8 383.8H780.9V388.0H776.8zM780.6 383.8H784.8V388.0H780.6zM703.2 387.7H707.4V391.8H703.2zM707.1 387.7H711.3V391.8H707.1zM711.0 387.7H715.2V391.8H711.0zM714.9 387.7H719.0V391.8H714.9zM718.7 387.7H722.9V391.8H718.7zM699.4 391.5H703.5V395.7H699.4zM703.2 391.5H707.4V395.7H703.2zM707.1 391.5H711.3V395.7H707.1zM711.0 391.5H715.2V395.7H711.0zM714.9 391.5H719.0V395.7H714.9zM699.4 395.4H703.5V399.6H699.4zM703.2 395.4H707.4V399.6H703.2zM707.1 395.4H711.3V399.6H707.1zM711.0 395.4H715.2V399.6H711.0zM695.5 399.3H699.7V403.4H695.5zM699.4 399.3H703.5V403.4H699.4zM703.2 399.3H707.4V403.4H703.2zM707.1 399.3H711.3V403.4H707.1zM691.6 403.1H695.8V407.3H691.6zM695.5 403.1H699.7V407.3H695.5zM699.4 403.1H703.5V407.3H699.4zM703.2 403.1H707.4V407.3H703.2zM707.1 403.1H711.3V407.3H707.1zM691.6 407.0H695.8V411.2H691.6zM695.5 407.0H699.7V411.2H695.5zM699.4 407.0H703.5V411.2H699.4zM703.2 407.0H707.4V411.2H703.2zM707.1 407.0H711.3V411.2H707.1zM691.6 410.9H695.8V415.0H691.6zM695.5 410.9H699.7V415.0H695.5zM699.4 410.9H703.5V415.0H699.4zM703.2 410.9H707.4V415.0H703.2zM691.6 414.7H695.8V418.9H691.6zM695.5 414.7H699.7V418.9H695.5zM699.4 414.7H703.5V418.9H699.4zM703.2 414.7H707.4V418.9H703.2zM691.6 418.6H695.8V422.8H691.6zM695.5 418.6H699.7V422.8H695.5zM699.4 418.6H703.5V422.8H699.4zM691.6 422.5H695.8V426.7H691.6zM695.5 422.5H699.7V426.7H695.5zM699.4 422.5H703.5V426.7H699.4zM687.8 426.4H691.9V430.5H687.8zM691.6 426.4H695.8V430.5H691.6zM695.5 426.4H699.7V430.5H695.5zM687.8 430.2H691.9V434.4H687.8zM691.6 430.2H695.8V434.4H691.6zM695.5 430.2H699.7V434.4H695.5zM687.8 434.1H691.9V438.3H687.8zM691.6 434.1H695.8V438.3H691.6zM695.5 434.1H699.7V438.3H695.5zM687.8 438.0H691.9V442.1H687.8zM691.6 438.0H695.8V442.1H691.6zM691.6 441.8H695.8V446.0H691.6zM691.6 445.7H695.8V449.9H691.6zM745.8 527.0H750.0V531.1H745.8zM749.7 527.0H753.9V531.1H749.7zM753.6 527.0H757.7V531.1H753.6zM749.7 530.8H753.9V535.0H749.7zM753.6 530.8H757.7V535.0H753.6zM749.7 534.7H753.9V538.9H749.7zM753.6 534.7H757.7V538.9H753.6zM831.0 534.7H835.1V538.9H831.0zM749.7 538.6H753.9V542.8H749.7zM753.6 538.6H757.7V542.8H753.6zM823.2 538.6H827.4V542.8H823.2zM827.1 538.6H831.3V542.8H827.1zM831.0 538.6H835.1V542.8H831.0zM834.8 538.6H839.0V542.8H834.8zM838.7 538.6H842.9V542.8H838.7zM842.6 538.6H846.7V542.8H842.6zM753.6 542.5H757.7V546.6H753.6zM757.4 542.5H761.6V546.6H757.4zM823.2 542.5H827.4V546.6H823.2zM827.1 542.5H831.3V546.6H827.1zM842.6 542.5H846.7V546.6H842.6zM846.4 542.5H850.6V546.6H846.4zM850.3 542.5H854.5V546.6H850.3zM753.6 546.3H757.7V550.5H753.6zM757.4 546.3H761.6V550.5H757.4zM761.3 546.3H765.5V550.5H761.3zM765.2 546.3H769.3V550.5H765.2zM769.0 546.3H773.2V550.5H769.0zM823.2 546.3H827.4V550.5H823.2zM850.3 546.3H854.5V550.5H850.3zM854.2 546.3H858.3V550.5H854.2zM753.6 550.2H757.7V554.4H753.6zM757.4 550.2H761.6V554.4H757.4zM761.3 550.2H765.5V554.4H761.3zM765.2 550.2H769.3V554.4H765.2zM769.0 550.2H773.2V554.4H769.0zM772.9 550.2H777.1V554.4H772.9zM819.3 550.2H823.5V554.4H819.3zM854.2 550.2H858.3V554.4H854.2zM753.6 554.1H757.7V557.3H753.6zM757.4 554.1H761.6V557.3H757.4zM761.3 554.1H765.5V557.3H761.3zM765.2 554.1H769.3V557.3H765.2zM769.0 554.1H773.2V557.3H769.0zM772.9 554.1H777.1V557.3H772.9zM819.3 554.1H823.5V557.3H819.3zM854.2 554.1H858.3V557.3H854.2zM858.0 554.1H862.2V557.3H858.0z"/>
<path fill="#d0f800" d="M769.0 356.7H773.2V360.9H769.0zM772.9 356.7H777.1V360.9H772.9zM769.0 360.6H773.2V364.7H769.0zM772.9 360.6H777.1V364.7H772.9zM831.0 542.5H835.1V546.6H831.0zM834.8 542.5H839.0V546.6H834.8zM838.7 542.5H842.9V546.6H838.7zM827.1 546.3H831.3V550.5H827.1zM831.0 546.3H835.1V550.5H831.0zM834.8 546.3H839.0V550.5H834.8zM838.7 546.3H842.9V550.5H838.7zM842.6 546.3H846.7V550.5H842.6zM846.4 546.3H850.6V550.5H846.4zM823.2 550.2H827.4V554.4H823.2zM827.1 550.2H831.3V554.4H827.1zM838.7 550.2H842.9V554.4H838.7zM842.6 550.2H846.7V554.4H842.6zM846.4 550.2H850.6V554.4H846.4zM850.3 550.2H854.5V554.4H850.3zM823.2 554.1H827.4V557.3H823.2zM827.1 554.1H831.3V557.3H827.1zM846.4 554.1H850.6V557.3H846.4zM850.3 554.1H854.5V557.3H850.3z"/>
<path fill="#f0f600" d="M831.0 550.2H835.1V554.4H831.0zM834.8 550.2H839.0V554.4H834.8zM831.0 554.1H835.1V557.3H831.0zM834.8 554.1H839.0V557.3H834.8zM838.7 554.1H842.9V557.3H838.7zM842.6 554.1H846.7V557.3H842.6z"/>
</g>
<g transform="translate(0,290)" stroke="#000" stroke-width="1" stroke-linejoin="round" shape-rendering="crispEdges">
<path fill="#f7c896" d="M679.5 189.5L684 193.5L690 198.5L693 202.5L697 204.5L703 211L702.5 217L699.5 220.5L696.5 218L695 211L692.5 205.5L689 200.5L684 196.5L679.5 194z"/>
<path fill="#f7c896" d="M679.5 210L684 209.5L688.5 211.5L689.5 218L688 222L683 224.5L680.5 227L684 230L682 233L679.5 234.5z"/>
<path fill="#f7c896" d="M731.5 225L733.4 224.5L734.3 229.2L733.6 233L732 232L731 227.3z"/>
<path fill="#f7c896" d="M734.8 235.4L741 234.9L743.8 239.6L748.5 244.4L753.3 248.2L757.1 252L758 254.8L755.2 258.6L751.4 259.5L747.6 256.7L744.3 252.9L744.3 250L741 247.2L738.1 243.4L735.7 240.6z"/>
<path fill="#f7c896" d="M766.5 255.8L768.4 253.9L773.2 255.8L777.9 259.5L781.7 264.3L782.7 267L775.1 267L772.2 262.4L768.4 257.7z"/>
<path fill="none" d="M732 232L730.5 236.8L731 243.4L735.3 248.2L736.2 252.9L741 256.7L746.6 261.4L752.3 264.8L757.1 265.2L759.9 263.3L763.7 260.5L762.8 256.7L759.9 251L756.1 248.2L751.4 245.3"/>
<path fill="none" d="M763.7 260.5L767 262L771 265.5L772.5 267M767.5 253.4L772 253.5L778 257.5L783 262.5L786.5 267"/>
<path fill="#000" stroke-width="1" d="M704.5 195.5l1.5-2.5l2.5 0l0 1.5l-2 0l-1 2zM693 186l2 0l0.5 4l-2 0zM693.5 183.5h2v1h-2zM680.5 179.5l2 0l1 5l-2 0zM680 176.5h2v2h-2zM712.5 206l3-2.5l1 1l-3 2.5zM723 211.5l1.500 0l2 4l-2 0zM734.5 191l1 0l.8 3l-1 0zM686 208h4v1.500h-4zM749 219.200h1.500v1h-1.500zM779 219.200h1.500v1h-1.500zM826 214h1v2h-1zM825.500 224h1v2h-1zM827 232.500h2v1h-2zM830 233h1v1h-1zM832 233.500h1v1h-1zM740 53h1.500v1h-1.500zM736.500 107h1v1h-1zM708.500 185.500h1v1h-1zM724 215h1v1.500h-1z"/>
</g>
<g fill="#000" shape-rendering="crispEdges">
<rect x="679" y="325" width="199" height="1"/>
<rect x="679" y="557" width="199" height="1"/>
<rect x="679" y="325" width="1" height="233"/>
<rect x="877" y="325" width="1" height="233"/>
<rect x="682" y="322" width="1" height="3"/>
<rect x="682" y="558" width="1" height="2"/>
<rect x="720" y="322" width="1" height="3"/>
<rect x="720" y="558" width="1" height="2"/>
<rect x="759" y="322" width="1" height="3"/>
<rect x="759" y="558" width="1" height="2"/>
<rect x="798" y="322" width="1" height="3"/>
<rect x="798" y="558" width="1" height="2"/>
<rect x="837" y="322" width="1" height="3"/>
<rect x="837" y="558" width="1" height="2"/>
<rect x="875" y="322" width="1" height="3"/>
<rect x="875" y="558" width="1" height="2"/>
<rect x="677" y="340" width="2" height="1"/>
<rect x="878" y="340" width="2" height="1"/>
<rect x="677" y="378" width="2" height="1"/>
<rect x="878" y="378" width="2" height="1"/>
<rect x="677" y="417" width="2" height="1"/>
<rect x="878" y="417" width="2" height="1"/>
<rect x="677" y="456" width="2" height="1"/>
<rect x="878" y="456" width="2" height="1"/>
<rect x="677" y="494" width="2" height="1"/>
<rect x="878" y="494" width="2" height="1"/>
<rect x="677" y="533" width="2" height="1"/>
<rect x="878" y="533" width="2" height="1"/>
</g>
<text x="682.5" y="574" font-size="12" text-anchor="middle" textLength="20" lengthAdjust="spacing">152</text>
<text x="721.2" y="574" font-size="12" text-anchor="middle" textLength="20" lengthAdjust="spacing">154</text>
<text x="759.9" y="574" font-size="12" text-anchor="middle" textLength="20" lengthAdjust="spacing">156</text>
<text x="798.6" y="574" font-size="12" text-anchor="middle" textLength="20" lengthAdjust="spacing">158</text>
<text x="837.3" y="574" font-size="12" text-anchor="middle" textLength="20" lengthAdjust="spacing">160</text>
<text x="876.0" y="574" font-size="12" text-anchor="middle" textLength="20" lengthAdjust="spacing">162</text>
<text x="674" y="345" font-size="12" text-anchor="end" textLength="6" lengthAdjust="spacing">4</text>
<text x="674" y="383" font-size="12" text-anchor="end" textLength="6" lengthAdjust="spacing">2</text>
<text x="674" y="422" font-size="12" text-anchor="end" textLength="6" lengthAdjust="spacing">0</text>
<text x="674" y="461" font-size="12" text-anchor="end" textLength="6" lengthAdjust="spacing">2</text>
<rect x="662" y="457" width="4" height="1" fill="#000" shape-rendering="crispEdges"/>
<text x="674" y="499" font-size="12" text-anchor="end" textLength="6" lengthAdjust="spacing">4</text>
<rect x="662" y="495" width="4" height="1" fill="#000" shape-rendering="crispEdges"/>
<text x="674" y="538" font-size="12" text-anchor="end" textLength="6" lengthAdjust="spacing">6</text>
<rect x="662" y="534" width="4" height="1" fill="#000" shape-rendering="crispEdges"/>
<circle cx="778.5" cy="440.8" r="5" fill="none" stroke="#000" stroke-width="1"/>
<text x="707.8" y="302" font-size="12" textLength="94.5" lengthAdjust="spacing">Altim. SLA: 0.012</text>
<text x="690" y="316" font-size="12" textLength="174" lengthAdjust="spacing">Argo h1000: 0.065 h2000: NaN</text>
<text transform="translate(895,538) rotate(-90)" font-size="12" textLength="162" lengthAdjust="spacing">IMOS 19-Nov-2014 20:01:37</text>
<g fill="#000" shape-rendering="crispEdges">
<rect x="886" y="540" width="1" height="1"/><rect x="886" y="546" width="1" height="1"/>
<rect x="888" y="540" width="1" height="1"/><rect x="888" y="546" width="1" height="1"/>
<rect x="890" y="540" width="1" height="1"/><rect x="890" y="546" width="1" height="1"/>
<rect x="892" y="540" width="1" height="1"/><rect x="892" y="546" width="1" height="1"/>
<rect x="894" y="540" width="1" height="1"/><rect x="894" y="546" width="1" height="1"/>
<rect x="886" y="540" width="1" height="1"/><rect x="894" y="540" width="1" height="1"/>
<rect x="886" y="542" width="1" height="1"/><rect x="894" y="542" width="1" height="1"/>
<rect x="886" y="544" width="1" height="1"/><rect x="894" y="544" width="1" height="1"/>
<rect x="886" y="546" width="1" height="1"/><rect x="894" y="546" width="1" height="1"/>
</g>
<g fill="none" stroke-linejoin="round" stroke-linecap="butt" shape-rendering="crispEdges">
<clipPath id="c1"><rect x="33" y="53" width="198" height="492"/></clipPath>
<clipPath id="c2"><rect x="240" y="53" width="199" height="492"/></clipPath>
<clipPath id="c3"><rect x="449" y="53" width="199" height="492"/></clipPath>
<g clip-path="url(#c1)">
<polyline points="222.0,56.5 222.8,64.5 220.0,67.5 213.0,72.0 209.0,75.5 202.5,78.5 193.5,82.5 186.5,85.5 182.5,91.0 174.5,93.2 165.5,95.0 157.5,97.2 151.5,101.8 145.0,103.5 136.0,105.7 129.5,107.3 123.5,109.0 118.0,113.5 115.8,120.0 112.9,122.0 110.3,128.5 107.9,135.0 105.4,142.0 102.7,149.0 99.6,156.0 96.8,162.3 93.9,168.7 91.1,175.0 88.3,181.5 85.8,188.0 83.7,194.5 82.9,201.4 82.1,208.3 81.4,216.6 80.2,224.8 78.9,231.2 77.4,237.7 76.0,244.1 74.9,250.5 74.2,257.0 73.8,263.4 73.5,271.4 73.3,279.4 73.0,285.8 72.4,292.2 71.5,298.6 70.4,304.9 69.3,311.3 68.3,317.7 67.7,324.1 67.3,330.5 67.4,336.7 67.5,342.9 67.6,349.1 67.4,355.3 67.0,361.6 66.2,367.8 65.3,374.0 64.3,380.2 63.5,386.4 62.9,393.1 62.7,399.7 62.8,406.4 62.9,413.0 62.9,419.7 62.7,426.3 62.0,433.0 61.2,439.6 60.3,446.3 59.5,452.9 58.9,459.6 58.7,466.2 58.8,472.9 59.0,479.5 59.4,486.1 59.6,492.6 59.4,499.2 58.9,505.8 58.2,512.3 57.5,518.9 56.9,525.4 56.7,532.0" stroke="#000" stroke-width="2.7" stroke-dasharray="9.5 4.5"/>
<polyline points="216.3,52.1 216.3,64.6 212.3,71.6 199.5,78.1 187.0,83.6 178.0,88.1 168.5,92.1 157.5,96.1 146.5,99.9 136.0,104.6 126.5,108.6 120.2,112.3 117.3,116.1 113.5,122.0 107.5,135.0 98.5,156.0 91.5,175.0 84.1,194.5 81.3,208.3 79.1,224.8 76.4,244.1 74.2,263.4 72.4,279.4 67.9,330.5 64.2,386.4 61.0,433.0 58.7,479.5 57.5,532.0" stroke="#f00" stroke-width="1.2"/>
<polyline points="218.5,52.5 217.8,65.0 212.0,70.0 206.0,74.0 196.5,78.5 187.0,81.5 178.0,84.5 168.5,88.0 162.0,91.5 151.0,95.5 140.5,99.5 131.0,103.5 125.0,105.7 119.5,109.5 116.3,115.0 113.0,122.0 107.0,135.0 98.0,156.0 91.0,175.0 83.6,194.5 80.8,208.3 78.6,224.8 75.9,244.1 73.7,263.4 71.9,279.4 67.4,330.5 63.7,386.4 60.5,433.0 58.2,479.5 57.0,532.0" stroke="#00f" stroke-width="2.7"/>
</g>
<g clip-path="url(#c2)">
<polyline points="263.8,54.4 274.9,58.8 285.0,61.1 300.4,62.1 316.7,62.4 340.0,64.0 355.5,66.8 371.1,68.3 379.6,69.9 384.0,73.0 385.1,76.1 382.0,79.2 377.3,83.9 372.6,87.8 363.3,92.4 366.4,95.5 378.9,95.5 386.6,99.4 383.5,102.5 371.1,104.9 357.1,106.4 347.8,108.8 338.4,111.9 335.3,118.1 332.2,124.3 325.7,135.5 322.6,142.3 319.5,149.2 316.7,156.0 314.5,162.3 312.4,168.7 310.6,175.0 309.0,182.0 307.3,189.0 306.7,196.0 305.8,203.0 305.4,209.8 304.8,216.5 304.2,223.2 303.7,230.0 303.4,236.4 303.4,242.9 303.6,249.3 304.0,255.7 304.5,262.1 304.9,268.6 305.2,275.0 305.4,281.4 305.3,287.8 305.0,294.1 304.7,300.5 304.3,306.9 304.0,313.2 303.9,319.6 304.1,326.0 304.6,332.6 305.3,339.3 306.1,345.9 306.8,352.6 307.3,359.2 307.5,365.9 307.5,372.5 307.3,378.6 307.1,384.6 306.9,390.6 306.9,396.7 307.0,402.8 307.3,408.8 307.9,414.9 308.5,420.9 309.2,426.9 309.9,433.0 310.4,439.2 310.7,445.4 310.8,451.7 310.7,457.9 310.5,464.1 310.3,470.3 310.2,476.6 310.3,482.8 310.6,489.0 311.0,495.1 311.6,501.3 312.3,507.4 312.9,513.6 313.4,519.7 313.7,525.9 313.8,532.0" stroke="#000" stroke-width="2.7" stroke-dasharray="9.5 4.5"/>
<polyline points="285.3,52.5 289.0,56.0 288.5,60.0 292.0,63.2 298.4,65.7 308.5,67.7 316.7,69.3 332.2,72.4 347.8,75.5 363.3,78.6 373.4,82.3 363.3,89.3 378.9,94.0 382.0,97.1 375.8,100.2 363.3,104.1 350.9,108.0 341.5,113.4 335.5,118.1 332.5,123.5 326.5,135.5 318.6,156.0 311.7,175.0 307.5,189.0 305.8,203.0 305.3,230.0 305.2,275.0 305.9,326.0 307.7,372.5 310.1,433.0 312.4,489.0 313.8,532.0" stroke="#f00" stroke-width="2.4"/>
<polyline points="278.5,52.5 282.3,58.0 287.7,61.5 297.0,63.8 310.0,65.8 316.7,67.6 332.2,69.9 347.8,73.0 363.3,77.7 374.2,82.3 361.0,88.5 375.8,94.8 372.6,98.7 361.8,102.5 347.8,105.7 338.4,109.5 335.3,113.4 332.5,122.0 326.2,135.5 318.3,156.0 311.4,175.0 307.2,189.0 305.5,203.0 305.0,230.0 304.9,275.0 305.6,326.0 307.4,372.5 309.8,433.0 312.1,489.0 313.5,532.0" stroke="#00f" stroke-width="2.7"/>
</g>
<g clip-path="url(#c3)">
<line x1="548.5" y1="53" x2="548.5" y2="545" stroke="#000" stroke-width="1" stroke-dasharray="1 4"/>
<polyline points="574.4,53.3 583.3,59.6 586.0,64.0 577.1,65.8 564.7,67.6 543.3,69.3 555.8,70.8 566.4,72.0 575.3,75.6 568.2,77.3 557.6,81.8 566.4,84.4 586.0,86.2 600.2,88.0 610.9,89.8 618.0,91.6 610.9,91.9 603.8,93.0 586.0,94.8 568.2,96.0 554.0,97.1 573.6,97.8 589.6,98.3 605.6,101.4 596.7,103.7 578.9,104.9 561.1,106.3 548.7,107.2 541.6,109.5 527.3,110.8 538.0,112.6 548.7,115.2 554.0,117.9 550.4,119.7 562.0,125.5 550.4,132.1 548.6,137.4 555.5,141.6 551.4,149.8 549.0,160.0 551.4,171.9 555.5,177.4 556.3,184.3 554.1,191.2 551.4,194.0 551.9,199.5 556.9,206.4 558.3,213.3 555.5,218.8 552.8,221.6 554.1,225.7 551.4,231.2 551.4,236.7 544.5,242.2 541.7,246.4 544.5,254.7 548.0,262.0 550.0,268.4 550.0,275.3 549.0,288.0 550.8,300.0 546.0,311.0 547.0,318.0 550.0,325.0 551.4,341.7 551.9,352.8 552.6,366.6 554.5,383.0 553.7,397.0 554.5,410.7 551.0,424.5 551.7,438.3 552.6,452.0 552.6,466.0 550.3,472.8 546.2,478.3 545.7,484.0" stroke="#000" stroke-width="2.7" stroke-dasharray="9.5 4.5"/>
<polyline points="511.3,54.2 525.6,57.8 543.3,60.8 570.0,61.3 596.7,62.2 614.4,64.0 628.7,65.8 637.6,69.0 623.3,71.1 596.7,74.7 578.9,77.3 564.7,80.9 557.6,84.4 564.7,86.8 559.3,90.3 548.7,92.5 527.3,93.5 525.6,96.6 538.0,98.3 552.2,98.3 566.4,100.6 568.2,102.4 561.1,104.6 550.4,107.8 541.6,109.9 539.8,111.7 544.0,117.0 546.9,129.4 545.6,133.9 546.0,150.0 546.0,200.0 547.6,230.0 547.6,340.0 546.5,364.0 546.6,476.0" stroke="#f0f" stroke-width="2.3" stroke-dasharray="9.5 4.5"/>
<polyline points="552.2,53.3 550.4,60.4 546.9,64.9 538.0,68.4 532.7,72.9 530.9,79.1 525.6,81.8 507.8,85.3 498.0,88.1 507.8,93.6 516.7,99.5 525.6,105.4 536.2,110.8 543.3,115.2 547.8,120.6 549.6,125.9 548.0,136.0 547.3,180.0 547.5,230.0 548.4,260.0 548.5,484.0" stroke="#00f" stroke-width="2.5"/>
<polyline points="537.1,53.3 539.8,58.7 546.9,62.2 557.6,64.9 566.4,69.3 561.1,72.9 550.4,76.4 547.8,79.1 553.1,81.8 548.7,85.6 543.3,89.8 539.8,92.1 534.4,97.4 533.6,101.9 536.2,107.2 541.6,113.4 546.0,118.8 547.8,125.9 548.3,136.0" stroke="#0ff" stroke-width="2.5"/>
<polyline points="548.3,136.0 548.6,485.0" stroke="#0ff" stroke-width="2.8"/>
</g>
</g>
<g fill="#000" shape-rendering="crispEdges">
<rect x="32" y="52" width="200" height="1"/>
<rect x="32" y="545" width="200" height="1"/>
<rect x="32" y="52" width="1" height="494"/>
<rect x="231" y="52" width="1" height="494"/>
<rect x="43" y="53" width="1" height="4"/>
<rect x="43" y="540" width="1" height="5"/>
<rect x="72" y="53" width="1" height="4"/>
<rect x="72" y="540" width="1" height="5"/>
<rect x="102" y="53" width="1" height="4"/>
<rect x="102" y="540" width="1" height="5"/>
<rect x="131" y="53" width="1" height="4"/>
<rect x="131" y="540" width="1" height="5"/>
<rect x="160" y="53" width="1" height="4"/>
<rect x="160" y="540" width="1" height="5"/>
<rect x="190" y="53" width="1" height="4"/>
<rect x="190" y="540" width="1" height="5"/>
<rect x="219" y="53" width="1" height="4"/>
<rect x="219" y="540" width="1" height="5"/>
<rect x="33" y="52" width="4" height="1"/>
<rect x="226" y="52" width="5" height="1"/>
<rect x="33" y="76" width="4" height="1"/>
<rect x="226" y="76" width="5" height="1"/>
<rect x="33" y="100" width="4" height="1"/>
<rect x="226" y="100" width="5" height="1"/>
<rect x="33" y="124" width="4" height="1"/>
<rect x="226" y="124" width="5" height="1"/>
<rect x="33" y="148" width="4" height="1"/>
<rect x="226" y="148" width="5" height="1"/>
<rect x="33" y="172" width="4" height="1"/>
<rect x="226" y="172" width="5" height="1"/>
<rect x="33" y="196" width="4" height="1"/>
<rect x="226" y="196" width="5" height="1"/>
<rect x="33" y="220" width="4" height="1"/>
<rect x="226" y="220" width="5" height="1"/>
<rect x="33" y="244" width="4" height="1"/>
<rect x="226" y="244" width="5" height="1"/>
<rect x="33" y="268" width="4" height="1"/>
<rect x="226" y="268" width="5" height="1"/>
<rect x="33" y="292" width="4" height="1"/>
<rect x="226" y="292" width="5" height="1"/>
<rect x="33" y="316" width="4" height="1"/>
<rect x="226" y="316" width="5" height="1"/>
<rect x="33" y="340" width="4" height="1"/>
<rect x="226" y="340" width="5" height="1"/>
<rect x="33" y="364" width="4" height="1"/>
<rect x="226" y="364" width="5" height="1"/>
<rect x="33" y="388" width="4" height="1"/>
<rect x="226" y="388" width="5" height="1"/>
<rect x="33" y="412" width="4" height="1"/>
<rect x="226" y="412" width="5" height="1"/>
<rect x="33" y="436" width="4" height="1"/>
<rect x="226" y="436" width="5" height="1"/>
<rect x="33" y="460" width="4" height="1"/>
<rect x="226" y="460" width="5" height="1"/>
<rect x="33" y="484" width="4" height="1"/>
<rect x="226" y="484" width="5" height="1"/>
<rect x="33" y="508" width="4" height="1"/>
<rect x="226" y="508" width="5" height="1"/>
<rect x="33" y="532" width="4" height="1"/>
<rect x="226" y="532" width="5" height="1"/>
</g>
<g fill="#000" shape-rendering="crispEdges">
<rect x="239" y="52" width="201" height="1"/>
<rect x="239" y="545" width="201" height="1"/>
<rect x="239" y="52" width="1" height="494"/>
<rect x="439" y="52" width="1" height="494"/>
<rect x="257" y="53" width="1" height="4"/>
<rect x="257" y="540" width="1" height="5"/>
<rect x="300" y="53" width="1" height="4"/>
<rect x="300" y="540" width="1" height="5"/>
<rect x="344" y="53" width="1" height="4"/>
<rect x="344" y="540" width="1" height="5"/>
<rect x="388" y="53" width="1" height="4"/>
<rect x="388" y="540" width="1" height="5"/>
<rect x="431" y="53" width="1" height="4"/>
<rect x="431" y="540" width="1" height="5"/>
</g>
<g fill="#000" shape-rendering="crispEdges">
<rect x="448" y="52" width="201" height="1"/>
<rect x="448" y="545" width="201" height="1"/>
<rect x="448" y="52" width="1" height="494"/>
<rect x="648" y="52" width="1" height="494"/>
<rect x="481" y="53" width="1" height="4"/>
<rect x="481" y="540" width="1" height="5"/>
<rect x="514" y="53" width="1" height="4"/>
<rect x="514" y="540" width="1" height="5"/>
<rect x="548" y="53" width="1" height="4"/>
<rect x="548" y="540" width="1" height="5"/>
<rect x="581" y="53" width="1" height="4"/>
<rect x="581" y="540" width="1" height="5"/>
<rect x="614" y="53" width="1" height="4"/>
<rect x="614" y="540" width="1" height="5"/>
</g>
<text x="28" y="56" font-size="12" text-anchor="end" textLength="6" lengthAdjust="spacing">0</text>
<text x="28" y="80" font-size="12" text-anchor="end" textLength="20" lengthAdjust="spacing">100</text>
<text x="28" y="104" font-size="12" text-anchor="end" textLength="20" lengthAdjust="spacing">200</text>
<text x="28" y="128" font-size="12" text-anchor="end" textLength="20" lengthAdjust="spacing">300</text>
<text x="28" y="152" font-size="12" text-anchor="end" textLength="20" lengthAdjust="spacing">400</text>
<text x="28" y="176" font-size="12" text-anchor="end" textLength="20" lengthAdjust="spacing">500</text>
<text x="28" y="200" font-size="12" text-anchor="end" textLength="20" lengthAdjust="spacing">600</text>
<text x="28" y="224" font-size="12" text-anchor="end" textLength="20" lengthAdjust="spacing">700</text>
<text x="28" y="248" font-size="12" text-anchor="end" textLength="20" lengthAdjust="spacing">800</text>
<text x="28" y="272" font-size="12" text-anchor="end" textLength="20" lengthAdjust="spacing">900</text>
<text x="28" y="296" font-size="12" text-anchor="end" textLength="27" lengthAdjust="spacing">1000</text>
<text x="28" y="320" font-size="12" text-anchor="end" textLength="27" lengthAdjust="spacing">1100</text>
<text x="28" y="344" font-size="12" text-anchor="end" textLength="27" lengthAdjust="spacing">1200</text>
<text x="28" y="368" font-size="12" text-anchor="end" textLength="27" lengthAdjust="spacing">1300</text>
<text x="28" y="392" font-size="12" text-anchor="end" textLength="27" lengthAdjust="spacing">1400</text>
<text x="28" y="416" font-size="12" text-anchor="end" textLength="27" lengthAdjust="spacing">1500</text>
<text x="28" y="440" font-size="12" text-anchor="end" textLength="27" lengthAdjust="spacing">1600</text>
<text x="28" y="464" font-size="12" text-anchor="end" textLength="27" lengthAdjust="spacing">1700</text>
<text x="28" y="488" font-size="12" text-anchor="end" textLength="27" lengthAdjust="spacing">1800</text>
<text x="28" y="512" font-size="12" text-anchor="end" textLength="27" lengthAdjust="spacing">1900</text>
<text x="28" y="536" font-size="12" text-anchor="end" textLength="27" lengthAdjust="spacing">2000</text>
<text x="43.5" y="560" font-size="12" text-anchor="middle" textLength="6" lengthAdjust="spacing">0</text>
<text x="72.8" y="560" font-size="12" text-anchor="middle" textLength="6" lengthAdjust="spacing">5</text>
<text x="102.2" y="560" font-size="12" text-anchor="middle" textLength="13" lengthAdjust="spacing">10</text>
<text x="131.5" y="560" font-size="12" text-anchor="middle" textLength="13" lengthAdjust="spacing">15</text>
<text x="160.8" y="560" font-size="12" text-anchor="middle" textLength="13" lengthAdjust="spacing">20</text>
<text x="190.2" y="560" font-size="12" text-anchor="middle" textLength="13" lengthAdjust="spacing">25</text>
<text x="219.5" y="560" font-size="12" text-anchor="middle" textLength="13" lengthAdjust="spacing">30</text>
<text x="74" y="575" font-size="12" textLength="110.5" lengthAdjust="spacing">temperature (deg C)</text>
<text x="257.1" y="560" font-size="12" text-anchor="middle" textLength="13" lengthAdjust="spacing">34</text>
<text x="300.6" y="560" font-size="12" text-anchor="middle" textLength="23" lengthAdjust="spacing">34.5</text>
<text x="344.1" y="560" font-size="12" text-anchor="middle" textLength="13" lengthAdjust="spacing">35</text>
<text x="387.6" y="560" font-size="12" text-anchor="middle" textLength="23" lengthAdjust="spacing">35.5</text>
<text x="431.1" y="560" font-size="12" text-anchor="middle" textLength="13" lengthAdjust="spacing">36</text>
<text x="318.7" y="575" font-size="12" textLength="37.5" lengthAdjust="spacing">salinity</text>
<text x="548.5" y="560" font-size="12" text-anchor="middle" textLength="6" lengthAdjust="spacing">0</text>
<text x="581.5" y="560" font-size="12" text-anchor="middle" textLength="6" lengthAdjust="spacing">1</text>
<text x="614.5" y="560" font-size="12" text-anchor="middle" textLength="6" lengthAdjust="spacing">2</text>
<text x="482" y="560" font-size="12" text-anchor="middle" textLength="6" lengthAdjust="spacing">2</text>
<rect x="473" y="556" width="4" height="1" fill="#000" shape-rendering="crispEdges"/>
<text x="514" y="560" font-size="12" text-anchor="middle" textLength="6" lengthAdjust="spacing">1</text>
<rect x="506" y="556" width="4" height="1" fill="#000" shape-rendering="crispEdges"/>
<text x="467.3" y="575" font-size="12" textLength="159.5" lengthAdjust="spacing">T difference from climatology</text>
<text x="467.3" y="524" font-size="12" textLength="160" lengthAdjust="spacing">S difference from climatology</text>
<text x="476" y="539" font-size="12" textLength="15.5" lengthAdjust="spacing">0.5</text>
<rect x="470" y="535" width="4" height="1" fill="#000" shape-rendering="crispEdges"/>
<text x="505" y="539" font-size="12" textLength="22.3" lengthAdjust="spacing">0.25</text>
<rect x="499" y="535" width="4" height="1" fill="#000" shape-rendering="crispEdges"/>
<text x="544.8" y="539" font-size="12" textLength="6" lengthAdjust="spacing">0</text>
<text x="570" y="539" font-size="12" textLength="22.3" lengthAdjust="spacing">0.25</text>
<text x="605.6" y="539" font-size="12" textLength="15.5" lengthAdjust="spacing">0.5</text>
<rect x="83" y="393" width="2" height="11" fill="#f00" shape-rendering="crispEdges"/>
<rect x="83" y="407" width="2" height="11" fill="#00f" shape-rendering="crispEdges"/>
<rect x="83" y="422" width="2" height="10" fill="#000" shape-rendering="crispEdges"/>
<text x="91" y="402.5" font-size="12" textLength="61.5" lengthAdjust="spacing">climatology</text>
<text x="91" y="416.5" font-size="12" textLength="94.6" lengthAdjust="spacing">satellite-adj. clim.</text>
<text x="91" y="430.5" font-size="12" textLength="87.4" lengthAdjust="spacing">Argo(..raw -QC)</text>
<rect x="337" y="393" width="2" height="11" fill="#f00" shape-rendering="crispEdges"/>
<rect x="337" y="407" width="2" height="11" fill="#00f" shape-rendering="crispEdges"/>
<rect x="337" y="422" width="2" height="10" fill="#000" shape-rendering="crispEdges"/>
<text x="345" y="402.5" font-size="12" textLength="61.5" lengthAdjust="spacing">climatology</text>
<text x="345" y="416.5" font-size="12" textLength="94.6" lengthAdjust="spacing">satellite-adj. clim.</text>
<text x="345" y="430.5" font-size="12" textLength="87.4" lengthAdjust="spacing">Argo(..raw -QC)</text>
<rect x="473" y="407" width="2" height="11" fill="#00f" shape-rendering="crispEdges"/>
<rect x="473" y="422" width="2" height="10" fill="#000" shape-rendering="crispEdges"/>
<text x="481" y="402.5" font-size="12" textLength="63.4" lengthAdjust="spacing">temperature</text>
<text x="481" y="416.5" font-size="12" textLength="41.3" lengthAdjust="spacing">satellite</text>
<text x="481" y="430.5" font-size="12" textLength="56.7" lengthAdjust="spacing">Argo(-adj)</text>
<rect x="573" y="407" width="2" height="11" fill="#0ff" shape-rendering="crispEdges"/>
<rect x="573" y="422" width="2" height="10" fill="#f0f" shape-rendering="crispEdges"/>
<text x="581.4" y="402.5" font-size="12" textLength="37" lengthAdjust="spacing">salinity</text>
<text x="581.4" y="416.5" font-size="12" textLength="40.6" lengthAdjust="spacing">satellite</text>
<text x="581.4" y="430.5" font-size="12" textLength="56" lengthAdjust="spacing">Argo(-adj)</text>
<text x="326.3" y="517" font-size="12" textLength="116.2" lengthAdjust="spacing">US ARGO PROJECT</text>
<text x="326.3" y="531" font-size="12" textLength="125" lengthAdjust="spacing">PI: DEAN ROEMMICH</text>
</svg></body></html>
